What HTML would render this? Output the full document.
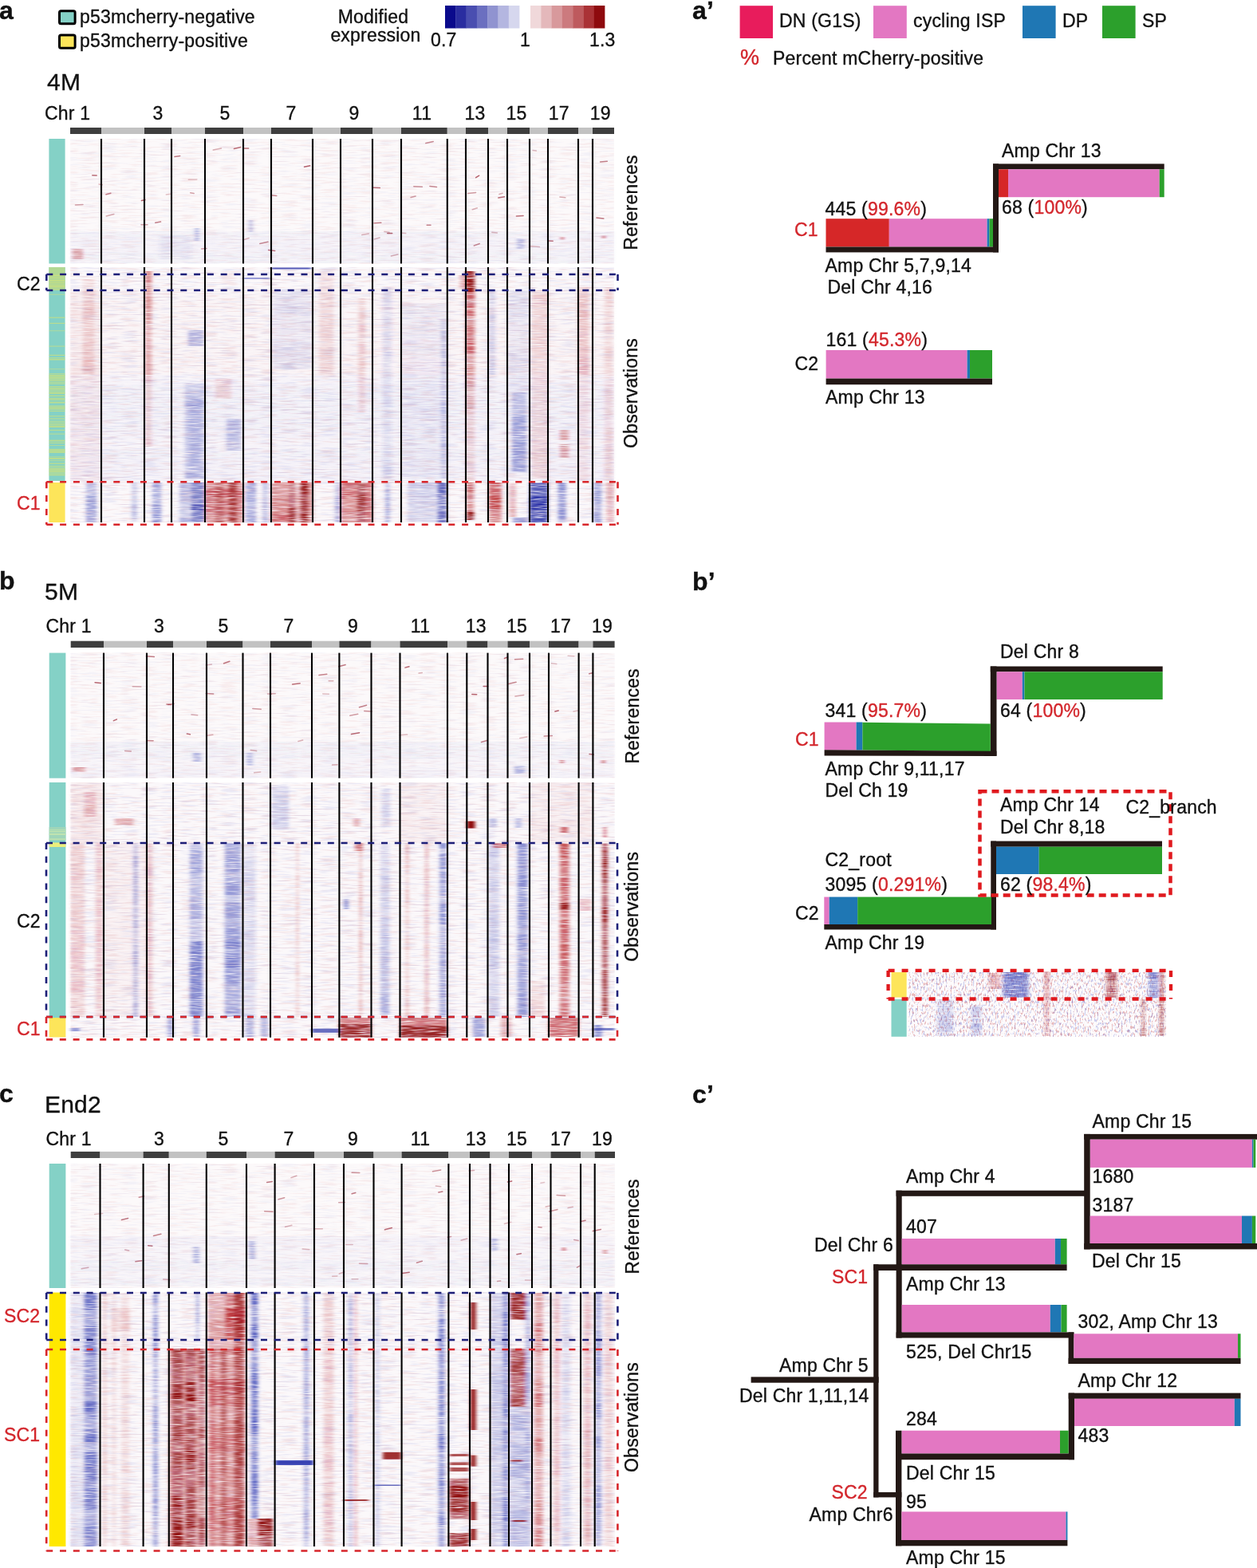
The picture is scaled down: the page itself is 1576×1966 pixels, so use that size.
<!DOCTYPE html>
<html><head><meta charset="utf-8"><style>
html,body{margin:0;padding:0;background:#fff;}
body{width:1576px;height:1966px;overflow:hidden;position:relative;}
svg{position:absolute;left:0;top:0;display:block;}
text{font-family:"Liberation Sans",Arial,sans-serif;letter-spacing:0.2px;stroke-width:0.35px;}
</style></head><body>
<svg width="1576" height="1966" viewBox="0 0 1576 1966">
<text x="-1" y="24" font-size="32" fill="#111" stroke="#111" font-weight="bold" >a</text>
<text x="-1" y="739" font-size="32" fill="#111" stroke="#111" font-weight="bold" >b</text>
<text x="-1" y="1382" font-size="32" fill="#111" stroke="#111" font-weight="bold" >c</text>
<rect x="74.5" y="13.7" width="19.6" height="16" rx="2" fill="#84d1c6" stroke="#000" stroke-width="3"/>
<rect x="74.5" y="44.1" width="19.6" height="16.1" rx="2" fill="#fde55a" stroke="#000" stroke-width="3"/>
<text x="100" y="29" font-size="23" fill="#111" stroke="#111" >p53mcherry-negative</text>
<text x="100" y="58.6" font-size="23" fill="#111" stroke="#111" >p53mcherry-positive</text>
<text x="468" y="28.7" font-size="23" fill="#111" stroke="#111" text-anchor="middle" >Modified</text>
<text x="471" y="52" font-size="23" fill="#111" stroke="#111" text-anchor="middle" >expression</text>
<rect x="558.0" y="7.0" width="13.6" height="28.5" fill="#0a0a8c" />
<rect x="571.3" y="7.0" width="13.6" height="28.5" fill="#2a2da0" />
<rect x="584.6" y="7.0" width="13.6" height="28.5" fill="#4a4eb0" />
<rect x="597.9" y="7.0" width="13.6" height="28.5" fill="#6b6fc0" />
<rect x="611.2" y="7.0" width="13.6" height="28.5" fill="#9093d0" />
<rect x="624.5" y="7.0" width="13.6" height="28.5" fill="#b4b6e0" />
<rect x="637.8" y="7.0" width="13.6" height="28.5" fill="#d6d7ee" />
<rect x="665.0" y="7.0" width="13.6" height="28.5" fill="#f0d8da" />
<rect x="678.3" y="7.0" width="13.6" height="28.5" fill="#e4b8bb" />
<rect x="691.6" y="7.0" width="13.6" height="28.5" fill="#d8999c" />
<rect x="704.9" y="7.0" width="13.6" height="28.5" fill="#cc7a7e" />
<rect x="718.2" y="7.0" width="13.6" height="28.5" fill="#be5a5e" />
<rect x="731.5" y="7.0" width="13.6" height="28.5" fill="#aa3236" />
<rect x="744.8" y="7.0" width="13.6" height="28.5" fill="#8e0a0e" />
<text x="540" y="58.4" font-size="23" fill="#111" stroke="#111" >0.7</text>
<text x="652" y="58.4" font-size="23" fill="#111" stroke="#111" >1</text>
<text x="739" y="58.4" font-size="23" fill="#111" stroke="#111" >1.3</text>
<text x="59" y="113" font-size="30" fill="#111" stroke="#111" >4M</text>
<text x="56" y="752" font-size="30" fill="#111" stroke="#111" >5M</text>
<text x="56" y="1394.6" font-size="30" fill="#111" stroke="#111" >End2</text>
<text x="868" y="23.8" font-size="32" fill="#111" stroke="#111" font-weight="bold" >a’</text>
<text x="868" y="740" font-size="32" fill="#111" stroke="#111" font-weight="bold" >b’</text>
<text x="868" y="1383" font-size="32" fill="#111" stroke="#111" font-weight="bold" >c’</text>
<rect x="927.6" y="7.2" width="41.4" height="40.8" fill="#e81c5c" />
<rect x="1095.0" y="7.2" width="41.8" height="40.8" fill="#e377c2" />
<rect x="1282.0" y="7.2" width="41.6" height="40.8" fill="#1f77b4" />
<rect x="1382.0" y="7.2" width="41.6" height="40.8" fill="#2ca02c" />
<text x="977" y="34" font-size="23" fill="#111" stroke="#111" >DN (G1S)</text>
<text x="1145" y="34" font-size="23" fill="#111" stroke="#111" >cycling ISP</text>
<text x="1332" y="34" font-size="23" fill="#111" stroke="#111" >DP</text>
<text x="1432" y="34" font-size="23" fill="#111" stroke="#111" >SP</text>
<text x="928" y="81" font-size="27" fill="#d3262c" stroke="#d3262c" >%</text>
<text x="969" y="81" font-size="23" fill="#111" stroke="#111" >Percent mCherry-positive</text>
<rect x="1035.5" y="274.2" width="79.3" height="35.3" fill="#d62728" />
<rect x="1114.8" y="274.2" width="122.8" height="35.3" fill="#e377c2" />
<rect x="1237.6" y="274.2" width="2.9" height="35.3" fill="#1f77b4" />
<rect x="1240.5" y="274.2" width="4.5" height="35.3" fill="#2ca02c" />
<rect x="1035.5" y="309.5" width="216.5" height="6.9" fill="#231815" />
<rect x="1245.0" y="205.4" width="7.0" height="111.0" fill="#231815" />
<rect x="1245.0" y="205.4" width="214.7" height="6.9" fill="#231815" />
<rect x="1252.0" y="212.3" width="12.0" height="34.9" fill="#d62728" />
<rect x="1264.0" y="212.3" width="189.7" height="34.9" fill="#e377c2" />
<rect x="1453.7" y="212.3" width="6.0" height="34.9" fill="#2ca02c" />
<rect x="1035.6" y="439.0" width="177.0" height="35.6" fill="#e377c2" />
<rect x="1212.6" y="439.0" width="3.4" height="35.6" fill="#1f77b4" />
<rect x="1216.0" y="439.0" width="28.0" height="35.6" fill="#2ca02c" />
<rect x="1035.6" y="474.6" width="208.4" height="7.6" fill="#231815" />
<text x="1256" y="196.5" font-size="23" fill="#111" stroke="#111" >Amp Chr 13</text>
<text x="1034.5" y="269.5" font-size="23" fill="#111" stroke="#111" >445 (<tspan fill="#d3262c" stroke="#d3262c">99.6%</tspan>)</text>
<text x="1256" y="268" font-size="23" fill="#111" stroke="#111" >68 (<tspan fill="#d3262c" stroke="#d3262c">100%</tspan>)</text>
<text x="996" y="295.8" font-size="23" fill="#d3262c" stroke="#d3262c" >C1</text>
<text x="1034.5" y="340.8" font-size="23" fill="#111" stroke="#111" >Amp Chr 5,7,9,14</text>
<text x="1037.5" y="367.8" font-size="23" fill="#111" stroke="#111" >Del Chr 4,16</text>
<text x="1035.5" y="434.3" font-size="23" fill="#111" stroke="#111" >161 (<tspan fill="#d3262c" stroke="#d3262c">45.3%</tspan>)</text>
<text x="996.5" y="464.3" font-size="23" fill="#111" stroke="#111" >C2</text>
<text x="1035" y="505.6" font-size="23" fill="#111" stroke="#111" >Amp Chr 13</text>
<rect x="1241.8" y="835.5" width="215.9" height="6.8" fill="#231815" />
<rect x="1249.5" y="842.3" width="32.3" height="34.7" fill="#e377c2" />
<rect x="1281.8" y="842.3" width="2.7" height="34.7" fill="#1f77b4" />
<rect x="1284.5" y="842.3" width="173.2" height="34.7" fill="#2ca02c" />
<rect x="1241.8" y="835.5" width="7.7" height="112.2" fill="#231815" />
<rect x="1033.6" y="905.5" width="40.0" height="35.0" fill="#e377c2" />
<rect x="1073.6" y="905.5" width="7.8" height="35.0" fill="#1f77b4" />
<polygon points="1081.4,905.8 1241.8,907.6 1241.8,942.2 1081.4,940.6" fill="#2ca02c"/>
<polygon points="1033.6,940.3 1249.5,941.7 1249.5,947.9 1033.6,947.4" fill="#231815"/>
<circle cx="1244.7" cy="1123.5" r="2.4" fill="#e0191e"/>
<rect x="1242.3" y="1054.6" width="214.7" height="7.1" fill="#231815" />
<rect x="1249.0" y="1061.7" width="53.7" height="34.3" fill="#1f77b4" />
<rect x="1302.7" y="1061.7" width="154.3" height="34.3" fill="#2ca02c" />
<rect x="1242.3" y="1054.6" width="6.7" height="110.9" fill="#231815" />
<rect x="1033.3" y="1124.6" width="6.4" height="34.4" fill="#e377c2" />
<rect x="1039.7" y="1124.6" width="35.5" height="34.4" fill="#1f77b4" />
<rect x="1075.2" y="1124.6" width="167.8" height="34.4" fill="#2ca02c" />
<rect x="1033.3" y="1159.0" width="215.7" height="6.5" fill="#231815" />
<rect x="1228.5" y="992.2" width="239" height="130.2" fill="none" stroke="#e0191e" stroke-width="4.5" stroke-dasharray="9 6"/>
<text x="1254" y="825" font-size="23" fill="#111" stroke="#111" >Del Chr 8</text>
<text x="1034.5" y="898.6" font-size="23" fill="#111" stroke="#111" >341 (<tspan fill="#d3262c" stroke="#d3262c">95.7%</tspan>)</text>
<text x="1254" y="898.6" font-size="23" fill="#111" stroke="#111" >64 (<tspan fill="#d3262c" stroke="#d3262c">100%</tspan>)</text>
<text x="997" y="935" font-size="23" fill="#d3262c" stroke="#d3262c" >C1</text>
<text x="1034.5" y="971.8" font-size="23" fill="#111" stroke="#111" >Amp Chr 9,11,17</text>
<text x="1034.5" y="998.5" font-size="23" fill="#111" stroke="#111" >Del Ch 19</text>
<text x="1254" y="1017" font-size="23" fill="#111" stroke="#111" >Amp Chr 14</text>
<text x="1254" y="1044.6" font-size="23" fill="#111" stroke="#111" >Del Chr 8,18</text>
<text x="1411.5" y="1019.7" font-size="23" fill="#111" stroke="#111" >C2_branch</text>
<text x="1034.5" y="1085.5" font-size="23" fill="#111" stroke="#111" >C2_root</text>
<text x="1034.5" y="1116.8" font-size="23" fill="#111" stroke="#111" >3095 (<tspan fill="#d3262c" stroke="#d3262c">0.291%</tspan>)</text>
<text x="1254" y="1116.8" font-size="23" fill="#111" stroke="#111" >62 (<tspan fill="#d3262c" stroke="#d3262c">98.4%</tspan>)</text>
<text x="997" y="1153" font-size="23" fill="#111" stroke="#111" >C2</text>
<text x="1034.5" y="1190.3" font-size="23" fill="#111" stroke="#111" >Amp Chr 19</text>
<rect x="1359.2" y="1421.9" width="216.8" height="6.8" fill="#231815" />
<rect x="1366.7" y="1428.7" width="203.2" height="35.2" fill="#e377c2" />
<rect x="1569.9" y="1428.7" width="1.6" height="35.2" fill="#1f77b4" />
<rect x="1571.5" y="1428.7" width="2.8" height="35.2" fill="#2ca02c" />
<rect x="1359.2" y="1421.9" width="7.5" height="144.5" fill="#231815" />
<rect x="1366.7" y="1524.5" width="190.3" height="34.5" fill="#e377c2" />
<rect x="1557.0" y="1524.5" width="12.9" height="34.5" fill="#1f77b4" />
<rect x="1569.9" y="1524.5" width="4.4" height="34.5" fill="#2ca02c" />
<rect x="1359.2" y="1559.0" width="216.8" height="7.4" fill="#231815" />
<rect x="1123.6" y="1492.7" width="238.4" height="7.1" fill="#231815" />
<rect x="1123.6" y="1492.7" width="7.1" height="184.8" fill="#231815" />
<rect x="1130.7" y="1553.0" width="192.1" height="32.3" fill="#e377c2" />
<rect x="1322.8" y="1553.0" width="7.2" height="32.3" fill="#1f77b4" />
<rect x="1330.0" y="1553.0" width="7.6" height="32.3" fill="#2ca02c" />
<rect x="1095.2" y="1585.3" width="242.4" height="7.7" fill="#231815" />
<rect x="1095.2" y="1585.3" width="6.3" height="292.1" fill="#231815" />
<rect x="1130.7" y="1636.0" width="186.1" height="34.4" fill="#e377c2" />
<rect x="1316.8" y="1636.0" width="13.7" height="34.4" fill="#1f77b4" />
<rect x="1330.5" y="1636.0" width="7.1" height="34.4" fill="#2ca02c" />
<rect x="1123.6" y="1670.4" width="222.8" height="7.1" fill="#231815" />
<rect x="1339.6" y="1670.4" width="6.8" height="39.6" fill="#231815" />
<rect x="1346.4" y="1672.3" width="205.6" height="30.5" fill="#e377c2" />
<rect x="1552.0" y="1672.3" width="3.5" height="30.5" fill="#2ca02c" />
<rect x="1339.6" y="1702.8" width="215.9" height="7.2" fill="#231815" />
<rect x="941.6" y="1726.4" width="160.0" height="7.3" fill="#231815" />
<rect x="1095.2" y="1871.0" width="35.2" height="6.4" fill="#231815" />
<rect x="1339.7" y="1746.6" width="215.8" height="7.2" fill="#231815" />
<rect x="1347.0" y="1753.8" width="200.8" height="34.2" fill="#e377c2" />
<rect x="1547.8" y="1753.8" width="7.7" height="34.2" fill="#1f77b4" />
<rect x="1339.7" y="1746.6" width="7.3" height="83.6" fill="#231815" />
<rect x="1130.4" y="1793.7" width="198.6" height="28.8" fill="#e377c2" />
<rect x="1329.0" y="1793.7" width="10.7" height="28.8" fill="#2ca02c" />
<rect x="1123.0" y="1822.5" width="224.0" height="7.7" fill="#231815" />
<rect x="1123.0" y="1793.7" width="7.4" height="144.6" fill="#231815" />
<rect x="1130.4" y="1895.4" width="206.1" height="35.6" fill="#e377c2" />
<rect x="1336.5" y="1895.4" width="1.9" height="35.6" fill="#1f77b4" />
<rect x="1123.0" y="1931.0" width="215.4" height="7.3" fill="#231815" />
<text x="1369.5" y="1413.7" font-size="23" fill="#111" stroke="#111" >Amp Chr 15</text>
<text x="1136" y="1483" font-size="23" fill="#111" stroke="#111" >Amp Chr 4</text>
<text x="1369.5" y="1483.3" font-size="23" fill="#111" stroke="#111" >1680</text>
<text x="1369.5" y="1518.6" font-size="23" fill="#111" stroke="#111" >3187</text>
<text x="1136" y="1545.5" font-size="23" fill="#111" stroke="#111" >407</text>
<text x="1021" y="1569.3" font-size="23" fill="#111" stroke="#111" >Del Chr 6</text>
<text x="1369" y="1589" font-size="23" fill="#111" stroke="#111" >Del Chr 15</text>
<text x="1043" y="1609.4" font-size="23" fill="#d3262c" stroke="#d3262c" >SC1</text>
<text x="1136" y="1618.3" font-size="23" fill="#111" stroke="#111" >Amp Chr 13</text>
<text x="1351.5" y="1665" font-size="23" fill="#111" stroke="#111" >302, Amp Chr 13</text>
<text x="1136" y="1702.8" font-size="23" fill="#111" stroke="#111" >525, Del Chr15</text>
<text x="977" y="1719.5" font-size="23" fill="#111" stroke="#111" >Amp Chr 5</text>
<text x="1351.5" y="1739.3" font-size="23" fill="#111" stroke="#111" >Amp Chr 12</text>
<text x="927" y="1758" font-size="23" fill="#111" stroke="#111" >Del Chr 1,11,14</text>
<text x="1136" y="1786.5" font-size="23" fill="#111" stroke="#111" >284</text>
<text x="1351.5" y="1808" font-size="23" fill="#111" stroke="#111" >483</text>
<text x="1136" y="1855" font-size="23" fill="#111" stroke="#111" >Del Chr 15</text>
<text x="1042.5" y="1878.7" font-size="23" fill="#d3262c" stroke="#d3262c" >SC2</text>
<text x="1136" y="1891" font-size="23" fill="#111" stroke="#111" >95</text>
<text x="1014.5" y="1906.6" font-size="23" fill="#111" stroke="#111" >Amp Chr6</text>
<text x="1136" y="1961" font-size="23" fill="#111" stroke="#111" >Amp Chr 15</text>
<defs>
<filter id="nzR" x="0" y="0" width="1" height="1" color-interpolation-filters="sRGB">
 <feTurbulence type="fractalNoise" baseFrequency="0.04 0.5" numOctaves="2" seed="3"/>
 <feColorMatrix type="matrix" values="0 0 0 0 0.72  0 0 0 0 0.12  0 0 0 0 0.15  6 0 0 0 -3.1"/>
 <feGaussianBlur stdDeviation="1 0.35"/>
</filter>
<filter id="nzB" x="0" y="0" width="1" height="1" color-interpolation-filters="sRGB">
 <feTurbulence type="fractalNoise" baseFrequency="0.04 0.5" numOctaves="2" seed="11"/>
 <feColorMatrix type="matrix" values="0 0 0 0 0.25  0 0 0 0 0.3  0 0 0 0 0.75  6 0 0 0 -3.1"/>
 <feGaussianBlur stdDeviation="1 0.35"/>
</filter>
<filter id="nzRs" x="0" y="0" width="1" height="1" color-interpolation-filters="sRGB">
 <feTurbulence type="fractalNoise" baseFrequency="0.03 0.8" numOctaves="1" seed="21"/>
 <feColorMatrix type="matrix" values="0 0 0 0 0.7  0 0 0 0 0.1  0 0 0 0 0.15  14 0 0 0 -10.3"/>
</filter>
<filter id="nzM" x="0" y="0" width="1" height="1" color-interpolation-filters="sRGB">
 <feTurbulence type="fractalNoise" baseFrequency="0.06 0.7" numOctaves="2" seed="7"/>
 <feColorMatrix type="matrix" values="2.4 0 0 0 -0.35  2.4 0 0 0 -0.35  2.4 0 0 0 -0.35  0 0 0 0 1"/>
</filter>
<filter id="soft" x="-0.05" y="-0.05" width="1.1" height="1.1">
 <feGaussianBlur stdDeviation="2.2 0.6"/>
</filter>
<filter id="nzRm" x="0" y="0" width="1" height="1" color-interpolation-filters="sRGB">
 <feTurbulence type="fractalNoise" baseFrequency="0.5 0.22" numOctaves="2" seed="5"/>
 <feColorMatrix type="matrix" values="0 0 0 0 0.72  0 0 0 0 0.15  0 0 0 0 0.18  7 0 0 0 -3.9"/>
 <feGaussianBlur stdDeviation="0.5"/>
</filter>
<filter id="nzBm" x="0" y="0" width="1" height="1" color-interpolation-filters="sRGB">
 <feTurbulence type="fractalNoise" baseFrequency="0.5 0.22" numOctaves="2" seed="9"/>
 <feColorMatrix type="matrix" values="0 0 0 0 0.25  0 0 0 0 0.3  0 0 0 0 0.78  7 0 0 0 -3.9"/>
 <feGaussianBlur stdDeviation="0.5"/>
</filter>
<mask id="mk" maskUnits="userSpaceOnUse" x="0" y="0" width="1576" height="1966">
 <rect x="0" y="0" width="1576" height="1966" fill="#fff" filter="url(#nzM)"/>
</mask>
</defs>
<rect x="88.0" y="160.0" width="39.0" height="8.0" fill="#3e3e3e" />
<rect x="127.0" y="160.0" width="54.0" height="8.0" fill="#c2c2c2" />
<rect x="181.0" y="160.0" width="34.0" height="8.0" fill="#3e3e3e" />
<rect x="215.0" y="160.0" width="42.0" height="8.0" fill="#c2c2c2" />
<rect x="257.0" y="160.0" width="48.0" height="8.0" fill="#3e3e3e" />
<rect x="305.0" y="160.0" width="35.0" height="8.0" fill="#c2c2c2" />
<rect x="340.0" y="160.0" width="52.0" height="8.0" fill="#3e3e3e" />
<rect x="392.0" y="160.0" width="35.0" height="8.0" fill="#c2c2c2" />
<rect x="427.0" y="160.0" width="40.0" height="8.0" fill="#3e3e3e" />
<rect x="467.0" y="160.0" width="36.0" height="8.0" fill="#c2c2c2" />
<rect x="503.0" y="160.0" width="57.8" height="8.0" fill="#3e3e3e" />
<rect x="560.8" y="160.0" width="23.2" height="8.0" fill="#c2c2c2" />
<rect x="584.0" y="160.0" width="28.0" height="8.0" fill="#3e3e3e" />
<rect x="612.0" y="160.0" width="24.0" height="8.0" fill="#c2c2c2" />
<rect x="636.0" y="160.0" width="28.0" height="8.0" fill="#3e3e3e" />
<rect x="664.0" y="160.0" width="23.0" height="8.0" fill="#c2c2c2" />
<rect x="687.0" y="160.0" width="38.0" height="8.0" fill="#3e3e3e" />
<rect x="725.0" y="160.0" width="18.0" height="8.0" fill="#c2c2c2" />
<rect x="743.0" y="160.0" width="27.0" height="8.0" fill="#3e3e3e" />
<text x="56" y="150" font-size="23" fill="#111" stroke="#111" >Chr 1</text>
<text x="198" y="150" font-size="23" fill="#111" stroke="#111" text-anchor="middle" >3</text>
<text x="282" y="150" font-size="23" fill="#111" stroke="#111" text-anchor="middle" >5</text>
<text x="365" y="150" font-size="23" fill="#111" stroke="#111" text-anchor="middle" >7</text>
<text x="444" y="150" font-size="23" fill="#111" stroke="#111" text-anchor="middle" >9</text>
<text x="529" y="150" font-size="23" fill="#111" stroke="#111" text-anchor="middle" >11</text>
<text x="595.5" y="150" font-size="23" fill="#111" stroke="#111" text-anchor="middle" >13</text>
<text x="647.5" y="150" font-size="23" fill="#111" stroke="#111" text-anchor="middle" >15</text>
<text x="700.8" y="150" font-size="23" fill="#111" stroke="#111" text-anchor="middle" >17</text>
<text x="752.8" y="150" font-size="23" fill="#111" stroke="#111" text-anchor="middle" >19</text>
<rect x="61.4" y="174.0" width="20.2" height="156.5" fill="#84d1c6" />
<rect x="61.4" y="335.0" width="20.2" height="268.0" fill="#84d1c6" />
<rect x="61.4" y="335.0" width="20.2" height="29.0" fill="#b2d893" />
<g opacity="0.7">
<rect x="61.4" y="344.6" width="20.2" height="1.5" fill="#cfe27c" />
<rect x="61.4" y="347.8" width="20.2" height="0.8" fill="#cfe27c" />
<rect x="61.4" y="351.0" width="20.2" height="1.5" fill="#cfe27c" />
<rect x="61.4" y="354.2" width="20.2" height="0.8" fill="#cfe27c" />
<rect x="61.4" y="357.4" width="20.2" height="1.0" fill="#cfe27c" />
<rect x="61.4" y="359.0" width="20.2" height="1.0" fill="#cfe27c" />
<rect x="61.4" y="363.8" width="20.2" height="0.2" fill="#cfe27c" />
<rect x="61.4" y="368.8" width="20.2" height="0.8" fill="#cfe27c" />
<rect x="61.4" y="397.6" width="20.2" height="1.2" fill="#cfe27c" />
<rect x="61.4" y="404.8" width="20.2" height="1.2" fill="#cfe27c" />
<rect x="61.4" y="414.4" width="20.2" height="0.8" fill="#cfe27c" />
<rect x="61.4" y="433.6" width="20.2" height="1.0" fill="#cfe27c" />
<rect x="61.4" y="444.8" width="20.2" height="1.2" fill="#cfe27c" />
<rect x="61.4" y="448.0" width="20.2" height="0.8" fill="#cfe27c" />
<rect x="61.4" y="449.6" width="20.2" height="2.0" fill="#cfe27c" />
<rect x="61.4" y="462.4" width="20.2" height="0.8" fill="#cfe27c" />
<rect x="61.4" y="468.0" width="20.2" height="0.8" fill="#cfe27c" />
<rect x="61.4" y="469.6" width="20.2" height="2.0" fill="#cfe27c" />
<rect x="61.4" y="471.2" width="20.2" height="1.5" fill="#cfe27c" />
<rect x="61.4" y="472.8" width="20.2" height="2.0" fill="#cfe27c" />
<rect x="61.4" y="474.4" width="20.2" height="1.2" fill="#cfe27c" />
<rect x="61.4" y="476.0" width="20.2" height="1.5" fill="#cfe27c" />
<rect x="61.4" y="477.6" width="20.2" height="0.8" fill="#cfe27c" />
<rect x="61.4" y="479.2" width="20.2" height="1.2" fill="#cfe27c" />
<rect x="61.4" y="480.8" width="20.2" height="1.0" fill="#cfe27c" />
<rect x="61.4" y="484.0" width="20.2" height="1.0" fill="#cfe27c" />
<rect x="61.4" y="485.6" width="20.2" height="1.5" fill="#cfe27c" />
<rect x="61.4" y="487.2" width="20.2" height="1.5" fill="#cfe27c" />
<rect x="61.4" y="488.8" width="20.2" height="0.8" fill="#cfe27c" />
<rect x="61.4" y="490.4" width="20.2" height="1.2" fill="#cfe27c" />
<rect x="61.4" y="492.0" width="20.2" height="2.0" fill="#cfe27c" />
<rect x="61.4" y="495.6" width="20.2" height="1.5" fill="#cfe27c" />
<rect x="61.4" y="498.8" width="20.2" height="1.2" fill="#cfe27c" />
<rect x="61.4" y="500.4" width="20.2" height="1.5" fill="#cfe27c" />
<rect x="61.4" y="503.6" width="20.2" height="2.0" fill="#cfe27c" />
<rect x="61.4" y="508.4" width="20.2" height="1.2" fill="#cfe27c" />
<rect x="61.4" y="510.0" width="20.2" height="1.5" fill="#cfe27c" />
<rect x="61.4" y="511.6" width="20.2" height="2.0" fill="#cfe27c" />
<rect x="61.4" y="514.8" width="20.2" height="1.2" fill="#cfe27c" />
<rect x="61.4" y="521.2" width="20.2" height="1.2" fill="#cfe27c" />
<rect x="61.4" y="524.4" width="20.2" height="1.2" fill="#cfe27c" />
<rect x="61.4" y="527.6" width="20.2" height="1.0" fill="#cfe27c" />
<rect x="61.4" y="529.2" width="20.2" height="0.8" fill="#cfe27c" />
<rect x="61.4" y="530.8" width="20.2" height="1.2" fill="#cfe27c" />
<rect x="61.4" y="532.4" width="20.2" height="1.2" fill="#cfe27c" />
<rect x="61.4" y="534.0" width="20.2" height="2.0" fill="#cfe27c" />
<rect x="61.4" y="538.8" width="20.2" height="1.2" fill="#cfe27c" />
<rect x="61.4" y="543.6" width="20.2" height="1.0" fill="#cfe27c" />
<rect x="61.4" y="551.6" width="20.2" height="2.0" fill="#cfe27c" />
<rect x="61.4" y="554.8" width="20.2" height="1.2" fill="#cfe27c" />
<rect x="61.4" y="558.0" width="20.2" height="0.8" fill="#cfe27c" />
<rect x="61.4" y="562.8" width="20.2" height="2.0" fill="#cfe27c" />
<rect x="61.4" y="564.4" width="20.2" height="1.5" fill="#cfe27c" />
<rect x="61.4" y="566.0" width="20.2" height="2.0" fill="#cfe27c" />
<rect x="61.4" y="572.4" width="20.2" height="1.0" fill="#cfe27c" />
<rect x="61.4" y="574.0" width="20.2" height="2.0" fill="#cfe27c" />
<rect x="61.4" y="577.2" width="20.2" height="1.0" fill="#cfe27c" />
<rect x="61.4" y="580.4" width="20.2" height="1.5" fill="#cfe27c" />
<rect x="61.4" y="583.6" width="20.2" height="1.0" fill="#cfe27c" />
<rect x="61.4" y="585.2" width="20.2" height="1.0" fill="#cfe27c" />
<rect x="61.4" y="586.8" width="20.2" height="2.0" fill="#cfe27c" />
<rect x="61.4" y="588.4" width="20.2" height="1.5" fill="#cfe27c" />
<rect x="61.4" y="590.0" width="20.2" height="2.0" fill="#cfe27c" />
<rect x="61.4" y="591.6" width="20.2" height="1.0" fill="#cfe27c" />
<rect x="61.4" y="593.2" width="20.2" height="1.2" fill="#cfe27c" />
<rect x="61.4" y="594.8" width="20.2" height="1.5" fill="#cfe27c" />
<rect x="61.4" y="602.8" width="20.2" height="0.2" fill="#cfe27c" />
</g>
<rect x="61.4" y="605.0" width="20.2" height="50.0" fill="#fde55a" />
<rect x="88" y="174" width="682" height="156.5" fill="#fcf9fa"/>
<rect x="88" y="174" width="682" height="156.5" filter="url(#nzR)" opacity="0.05"/>
<rect x="88" y="174" width="682" height="156.5" filter="url(#nzB)" opacity="0.04"/>
<line x1="625.9" y1="243.5" x2="630.1" y2="242.3" stroke="#962030" stroke-width="1.5" stroke-linecap="round" opacity="0.35"/>
<line x1="252.6" y1="311.9" x2="259.0" y2="311.6" stroke="#962030" stroke-width="1.5" stroke-linecap="round" opacity="0.42"/>
<line x1="469.0" y1="279.7" x2="477.9" y2="279.3" stroke="#962030" stroke-width="1.5" stroke-linecap="round" opacity="0.56"/>
<line x1="533.8" y1="179.5" x2="543.2" y2="177.4" stroke="#962030" stroke-width="1.5" stroke-linecap="round" opacity="0.50"/>
<line x1="133.0" y1="243.8" x2="138.9" y2="242.2" stroke="#962030" stroke-width="1.5" stroke-linecap="round" opacity="0.55"/>
<line x1="133.2" y1="270.9" x2="142.9" y2="268.5" stroke="#962030" stroke-width="1.5" stroke-linecap="round" opacity="0.36"/>
<line x1="208.3" y1="244.0" x2="213.6" y2="243.3" stroke="#962030" stroke-width="1.5" stroke-linecap="round" opacity="0.27"/>
<line x1="701.9" y1="247.0" x2="708.8" y2="247.8" stroke="#962030" stroke-width="1.5" stroke-linecap="round" opacity="0.36"/>
<line x1="485.8" y1="292.5" x2="491.7" y2="292.4" stroke="#962030" stroke-width="1.5" stroke-linecap="round" opacity="0.69"/>
<line x1="336.6" y1="313.5" x2="344.7" y2="314.4" stroke="#962030" stroke-width="1.5" stroke-linecap="round" opacity="0.63"/>
<line x1="665.5" y1="308.8" x2="676.4" y2="309.6" stroke="#962030" stroke-width="1.5" stroke-linecap="round" opacity="0.29"/>
<line x1="747.9" y1="273.1" x2="756.9" y2="273.9" stroke="#962030" stroke-width="1.5" stroke-linecap="round" opacity="0.59"/>
<line x1="586.6" y1="242.6" x2="596.6" y2="241.4" stroke="#962030" stroke-width="1.5" stroke-linecap="round" opacity="0.44"/>
<line x1="381.5" y1="209.2" x2="388.7" y2="207.8" stroke="#962030" stroke-width="1.5" stroke-linecap="round" opacity="0.70"/>
<line x1="535.2" y1="282.2" x2="540.0" y2="282.2" stroke="#962030" stroke-width="1.5" stroke-linecap="round" opacity="0.55"/>
<line x1="115.8" y1="219.8" x2="121.2" y2="220.0" stroke="#962030" stroke-width="1.5" stroke-linecap="round" opacity="0.65"/>
<line x1="469.3" y1="299.9" x2="476.1" y2="298.0" stroke="#962030" stroke-width="1.5" stroke-linecap="round" opacity="0.33"/>
<line x1="594.3" y1="308.0" x2="601.3" y2="305.5" stroke="#962030" stroke-width="1.5" stroke-linecap="round" opacity="0.50"/>
<line x1="177.5" y1="251.5" x2="182.0" y2="250.4" stroke="#962030" stroke-width="1.5" stroke-linecap="round" opacity="0.68"/>
<line x1="305.1" y1="300.6" x2="312.1" y2="298.5" stroke="#962030" stroke-width="1.5" stroke-linecap="round" opacity="0.33"/>
<line x1="668.1" y1="188.4" x2="672.3" y2="189.1" stroke="#962030" stroke-width="1.5" stroke-linecap="round" opacity="0.30"/>
<line x1="490.3" y1="320.9" x2="498.9" y2="318.9" stroke="#962030" stroke-width="1.5" stroke-linecap="round" opacity="0.35"/>
<line x1="236.3" y1="225.3" x2="246.9" y2="224.9" stroke="#962030" stroke-width="1.5" stroke-linecap="round" opacity="0.27"/>
<line x1="325.8" y1="305.4" x2="336.0" y2="303.3" stroke="#962030" stroke-width="1.5" stroke-linecap="round" opacity="0.52"/>
<line x1="515.0" y1="247.4" x2="521.1" y2="246.0" stroke="#962030" stroke-width="1.5" stroke-linecap="round" opacity="0.42"/>
<line x1="124.1" y1="230.9" x2="128.3" y2="231.7" stroke="#962030" stroke-width="1.5" stroke-linecap="round" opacity="0.35"/>
<line x1="305.5" y1="186.0" x2="311.7" y2="186.1" stroke="#962030" stroke-width="1.5" stroke-linecap="round" opacity="0.63"/>
<line x1="752.6" y1="202.9" x2="761.3" y2="202.2" stroke="#962030" stroke-width="1.5" stroke-linecap="round" opacity="0.56"/>
<line x1="340.8" y1="244.8" x2="346.8" y2="245.5" stroke="#962030" stroke-width="1.5" stroke-linecap="round" opacity="0.50"/>
<line x1="502.5" y1="291.9" x2="508.8" y2="292.5" stroke="#962030" stroke-width="1.5" stroke-linecap="round" opacity="0.29"/>
<line x1="238.7" y1="241.8" x2="243.2" y2="242.4" stroke="#962030" stroke-width="1.5" stroke-linecap="round" opacity="0.41"/>
<line x1="616.8" y1="291.2" x2="623.4" y2="291.9" stroke="#962030" stroke-width="1.5" stroke-linecap="round" opacity="0.31"/>
<line x1="592.3" y1="262.8" x2="598.3" y2="260.8" stroke="#962030" stroke-width="1.5" stroke-linecap="round" opacity="0.33"/>
<line x1="518.8" y1="233.8" x2="529.4" y2="234.2" stroke="#962030" stroke-width="1.5" stroke-linecap="round" opacity="0.47"/>
<line x1="218.9" y1="196.5" x2="225.7" y2="195.5" stroke="#962030" stroke-width="1.5" stroke-linecap="round" opacity="0.58"/>
<line x1="596.6" y1="222.6" x2="600.7" y2="220.2" stroke="#962030" stroke-width="1.5" stroke-linecap="round" opacity="0.70"/>
<line x1="453.8" y1="294.5" x2="462.3" y2="293.0" stroke="#962030" stroke-width="1.5" stroke-linecap="round" opacity="0.32"/>
<line x1="538.9" y1="233.6" x2="547.5" y2="234.5" stroke="#962030" stroke-width="1.5" stroke-linecap="round" opacity="0.52"/>
<line x1="293.4" y1="186.4" x2="301.8" y2="184.5" stroke="#962030" stroke-width="1.5" stroke-linecap="round" opacity="0.63"/>
<line x1="647.4" y1="270.9" x2="656.1" y2="270.6" stroke="#962030" stroke-width="1.5" stroke-linecap="round" opacity="0.63"/>
<line x1="267.3" y1="188.0" x2="277.5" y2="185.9" stroke="#962030" stroke-width="1.5" stroke-linecap="round" opacity="0.35"/>
<line x1="481.9" y1="290.5" x2="488.1" y2="291.2" stroke="#962030" stroke-width="1.5" stroke-linecap="round" opacity="0.31"/>
<line x1="624.8" y1="247.9" x2="632.4" y2="246.8" stroke="#962030" stroke-width="1.5" stroke-linecap="round" opacity="0.64"/>
<line x1="687.7" y1="301.9" x2="693.2" y2="302.2" stroke="#962030" stroke-width="1.5" stroke-linecap="round" opacity="0.60"/>
<line x1="177.0" y1="281.7" x2="185.0" y2="281.8" stroke="#962030" stroke-width="1.5" stroke-linecap="round" opacity="0.42"/>
<line x1="468.0" y1="235.2" x2="476.3" y2="235.6" stroke="#962030" stroke-width="1.5" stroke-linecap="round" opacity="0.63"/>
<line x1="194.8" y1="279.3" x2="201.5" y2="278.1" stroke="#962030" stroke-width="1.5" stroke-linecap="round" opacity="0.56"/>
<line x1="94.5" y1="257.0" x2="104.0" y2="256.5" stroke="#962030" stroke-width="1.5" stroke-linecap="round" opacity="0.41"/>
<rect x="88" y="335" width="682" height="320" fill="#fbf8fa"/>
<rect x="88" y="335" width="682" height="320" filter="url(#nzR)" opacity="0.075"/>
<rect x="88" y="335" width="682" height="320" filter="url(#nzB)" opacity="0.08"/>
<g filter="url(#soft)">
<rect x="584" y="340" width="11.0" height="26.0" fill="#900b10" opacity="0.95" mask="url(#mk)"/>
<rect x="576" y="345" width="8.0" height="17.0" fill="#b4181e" opacity="0.3" mask="url(#mk)"/>
<rect x="340" y="335.5" width="50.0" height="2.0" fill="#2a32a8" opacity="0.8"/>
<rect x="305" y="348" width="33.0" height="2.0" fill="#3d48b8" opacity="0.5"/>
<rect x="104" y="350.0" width="14.0" height="16.2" fill="#b4181e" opacity="0.10" mask="url(#mk)"/>
<rect x="104" y="366.2" width="14.0" height="10.4" fill="#b4181e" opacity="0.12" mask="url(#mk)"/>
<rect x="104" y="376.6" width="14.0" height="17.8" fill="#b4181e" opacity="0.16" mask="url(#mk)"/>
<rect x="104" y="394.4" width="14.0" height="20.3" fill="#b4181e" opacity="0.11" mask="url(#mk)"/>
<rect x="104" y="414.7" width="14.0" height="12.8" fill="#b4181e" opacity="0.10" mask="url(#mk)"/>
<rect x="104" y="427.4" width="14.0" height="9.5" fill="#b4181e" opacity="0.15" mask="url(#mk)"/>
<rect x="104" y="436.9" width="14.0" height="6.4" fill="#b4181e" opacity="0.12" mask="url(#mk)"/>
<rect x="104" y="443.4" width="14.0" height="16.4" fill="#b4181e" opacity="0.15" mask="url(#mk)"/>
<rect x="104" y="459.8" width="14.0" height="10.2" fill="#b4181e" opacity="0.15" mask="url(#mk)"/>
<rect x="88" y="364.0" width="39.0" height="19.0" fill="#b4181e" opacity="0.03" mask="url(#mk)"/>
<rect x="88" y="383.0" width="39.0" height="18.9" fill="#b4181e" opacity="0.06" mask="url(#mk)"/>
<rect x="88" y="401.8" width="39.0" height="11.4" fill="#b4181e" opacity="0.04" mask="url(#mk)"/>
<rect x="88" y="413.3" width="39.0" height="21.3" fill="#b4181e" opacity="0.04" mask="url(#mk)"/>
<rect x="88" y="434.6" width="39.0" height="7.5" fill="#b4181e" opacity="0.04" mask="url(#mk)"/>
<rect x="88" y="442.1" width="39.0" height="19.6" fill="#b4181e" opacity="0.05" mask="url(#mk)"/>
<rect x="88" y="461.6" width="39.0" height="8.4" fill="#b4181e" opacity="0.06" mask="url(#mk)"/>
<rect x="182" y="340.0" width="8.0" height="14.6" fill="#b4181e" opacity="0.51" mask="url(#mk)"/>
<rect x="182" y="354.6" width="8.0" height="12.1" fill="#b4181e" opacity="0.40" mask="url(#mk)"/>
<rect x="182" y="366.6" width="8.0" height="19.3" fill="#b4181e" opacity="0.42" mask="url(#mk)"/>
<rect x="182" y="385.9" width="8.0" height="19.8" fill="#b4181e" opacity="0.41" mask="url(#mk)"/>
<rect x="182" y="405.7" width="8.0" height="17.3" fill="#b4181e" opacity="0.27" mask="url(#mk)"/>
<rect x="182" y="423.0" width="8.0" height="9.6" fill="#b4181e" opacity="0.34" mask="url(#mk)"/>
<rect x="182" y="432.6" width="8.0" height="7.3" fill="#b4181e" opacity="0.32" mask="url(#mk)"/>
<rect x="182" y="439.9" width="8.0" height="7.6" fill="#b4181e" opacity="0.33" mask="url(#mk)"/>
<rect x="182" y="447.5" width="8.0" height="16.2" fill="#b4181e" opacity="0.35" mask="url(#mk)"/>
<rect x="182" y="463.7" width="8.0" height="6.3" fill="#b4181e" opacity="0.31" mask="url(#mk)"/>
<rect x="182" y="470.0" width="8.0" height="10.3" fill="#b4181e" opacity="0.19" mask="url(#mk)"/>
<rect x="182" y="480.3" width="8.0" height="16.4" fill="#b4181e" opacity="0.16" mask="url(#mk)"/>
<rect x="182" y="496.6" width="8.0" height="8.7" fill="#b4181e" opacity="0.17" mask="url(#mk)"/>
<rect x="182" y="505.4" width="8.0" height="8.6" fill="#b4181e" opacity="0.13" mask="url(#mk)"/>
<rect x="182" y="514.0" width="8.0" height="21.8" fill="#b4181e" opacity="0.16" mask="url(#mk)"/>
<rect x="182" y="535.8" width="8.0" height="14.9" fill="#b4181e" opacity="0.16" mask="url(#mk)"/>
<rect x="182" y="550.7" width="8.0" height="9.3" fill="#b4181e" opacity="0.17" mask="url(#mk)"/>
<rect x="236" y="414" width="19.0" height="20.0" fill="#3d48b8" opacity="0.35" mask="url(#mk)"/>
<rect x="232" y="480.0" width="24.0" height="9.7" fill="#3d48b8" opacity="0.20" mask="url(#mk)"/>
<rect x="232" y="489.7" width="24.0" height="11.0" fill="#3d48b8" opacity="0.25" mask="url(#mk)"/>
<rect x="232" y="500.7" width="24.0" height="9.4" fill="#3d48b8" opacity="0.38" mask="url(#mk)"/>
<rect x="232" y="510.1" width="24.0" height="20.0" fill="#3d48b8" opacity="0.26" mask="url(#mk)"/>
<rect x="232" y="530.1" width="24.0" height="16.5" fill="#3d48b8" opacity="0.27" mask="url(#mk)"/>
<rect x="232" y="546.6" width="24.0" height="20.6" fill="#3d48b8" opacity="0.28" mask="url(#mk)"/>
<rect x="232" y="567.2" width="24.0" height="10.2" fill="#3d48b8" opacity="0.24" mask="url(#mk)"/>
<rect x="232" y="577.5" width="24.0" height="15.0" fill="#3d48b8" opacity="0.25" mask="url(#mk)"/>
<rect x="232" y="592.4" width="24.0" height="7.6" fill="#3d48b8" opacity="0.37" mask="url(#mk)"/>
<rect x="238" y="500.0" width="14.0" height="12.4" fill="#3d48b8" opacity="0.12" mask="url(#mk)"/>
<rect x="238" y="512.4" width="14.0" height="22.0" fill="#3d48b8" opacity="0.15" mask="url(#mk)"/>
<rect x="238" y="534.4" width="14.0" height="7.5" fill="#3d48b8" opacity="0.10" mask="url(#mk)"/>
<rect x="238" y="541.8" width="14.0" height="7.8" fill="#3d48b8" opacity="0.16" mask="url(#mk)"/>
<rect x="238" y="549.6" width="14.0" height="18.7" fill="#3d48b8" opacity="0.14" mask="url(#mk)"/>
<rect x="238" y="568.2" width="14.0" height="7.0" fill="#3d48b8" opacity="0.13" mask="url(#mk)"/>
<rect x="238" y="575.2" width="14.0" height="14.8" fill="#3d48b8" opacity="0.15" mask="url(#mk)"/>
<rect x="284" y="525.0" width="18.0" height="21.5" fill="#3d48b8" opacity="0.30" mask="url(#mk)"/>
<rect x="284" y="546.5" width="18.0" height="6.2" fill="#3d48b8" opacity="0.28" mask="url(#mk)"/>
<rect x="284" y="552.7" width="18.0" height="12.3" fill="#3d48b8" opacity="0.25" mask="url(#mk)"/>
<rect x="270" y="475" width="20.0" height="25.0" fill="#b4181e" opacity="0.15" mask="url(#mk)"/>
<rect x="342" y="363.0" width="49.0" height="10.3" fill="#3d48b8" opacity="0.11" mask="url(#mk)"/>
<rect x="342" y="373.3" width="49.0" height="7.8" fill="#3d48b8" opacity="0.09" mask="url(#mk)"/>
<rect x="342" y="381.1" width="49.0" height="13.3" fill="#3d48b8" opacity="0.13" mask="url(#mk)"/>
<rect x="342" y="394.3" width="49.0" height="20.0" fill="#3d48b8" opacity="0.08" mask="url(#mk)"/>
<rect x="342" y="414.3" width="49.0" height="14.0" fill="#3d48b8" opacity="0.08" mask="url(#mk)"/>
<rect x="342" y="428.3" width="49.0" height="20.6" fill="#3d48b8" opacity="0.12" mask="url(#mk)"/>
<rect x="342" y="448.9" width="49.0" height="14.1" fill="#3d48b8" opacity="0.11" mask="url(#mk)"/>
<rect x="400" y="340.0" width="18.0" height="15.7" fill="#b4181e" opacity="0.07" mask="url(#mk)"/>
<rect x="400" y="355.7" width="18.0" height="18.2" fill="#b4181e" opacity="0.10" mask="url(#mk)"/>
<rect x="400" y="373.9" width="18.0" height="18.5" fill="#b4181e" opacity="0.10" mask="url(#mk)"/>
<rect x="400" y="392.4" width="18.0" height="6.0" fill="#b4181e" opacity="0.09" mask="url(#mk)"/>
<rect x="400" y="398.4" width="18.0" height="6.3" fill="#b4181e" opacity="0.13" mask="url(#mk)"/>
<rect x="400" y="404.7" width="18.0" height="20.1" fill="#b4181e" opacity="0.12" mask="url(#mk)"/>
<rect x="400" y="424.8" width="18.0" height="10.9" fill="#b4181e" opacity="0.07" mask="url(#mk)"/>
<rect x="400" y="435.7" width="18.0" height="20.0" fill="#b4181e" opacity="0.13" mask="url(#mk)"/>
<rect x="400" y="455.8" width="18.0" height="7.4" fill="#b4181e" opacity="0.10" mask="url(#mk)"/>
<rect x="400" y="463.1" width="18.0" height="6.9" fill="#b4181e" opacity="0.11" mask="url(#mk)"/>
<rect x="449" y="374.0" width="9.0" height="18.3" fill="#b4181e" opacity="0.11" mask="url(#mk)"/>
<rect x="449" y="392.3" width="9.0" height="13.6" fill="#b4181e" opacity="0.15" mask="url(#mk)"/>
<rect x="449" y="405.9" width="9.0" height="10.2" fill="#b4181e" opacity="0.18" mask="url(#mk)"/>
<rect x="449" y="416.1" width="9.0" height="12.8" fill="#b4181e" opacity="0.12" mask="url(#mk)"/>
<rect x="449" y="428.9" width="9.0" height="14.6" fill="#b4181e" opacity="0.17" mask="url(#mk)"/>
<rect x="449" y="443.5" width="9.0" height="9.2" fill="#b4181e" opacity="0.13" mask="url(#mk)"/>
<rect x="449" y="452.7" width="9.0" height="21.9" fill="#b4181e" opacity="0.16" mask="url(#mk)"/>
<rect x="449" y="474.6" width="9.0" height="13.0" fill="#b4181e" opacity="0.15" mask="url(#mk)"/>
<rect x="449" y="487.6" width="9.0" height="7.9" fill="#b4181e" opacity="0.12" mask="url(#mk)"/>
<rect x="449" y="495.6" width="9.0" height="11.4" fill="#b4181e" opacity="0.15" mask="url(#mk)"/>
<rect x="449" y="507.0" width="9.0" height="10.0" fill="#b4181e" opacity="0.12" mask="url(#mk)"/>
<rect x="480" y="360.0" width="11.0" height="7.1" fill="#3d48b8" opacity="0.15" mask="url(#mk)"/>
<rect x="480" y="367.1" width="11.0" height="9.7" fill="#3d48b8" opacity="0.17" mask="url(#mk)"/>
<rect x="480" y="376.8" width="11.0" height="19.8" fill="#3d48b8" opacity="0.10" mask="url(#mk)"/>
<rect x="480" y="396.6" width="11.0" height="9.8" fill="#3d48b8" opacity="0.15" mask="url(#mk)"/>
<rect x="480" y="406.4" width="11.0" height="9.4" fill="#3d48b8" opacity="0.10" mask="url(#mk)"/>
<rect x="480" y="415.8" width="11.0" height="21.0" fill="#3d48b8" opacity="0.14" mask="url(#mk)"/>
<rect x="480" y="436.8" width="11.0" height="13.6" fill="#3d48b8" opacity="0.16" mask="url(#mk)"/>
<rect x="480" y="450.3" width="11.0" height="18.9" fill="#3d48b8" opacity="0.11" mask="url(#mk)"/>
<rect x="480" y="469.2" width="11.0" height="7.6" fill="#3d48b8" opacity="0.13" mask="url(#mk)"/>
<rect x="480" y="476.8" width="11.0" height="12.8" fill="#3d48b8" opacity="0.13" mask="url(#mk)"/>
<rect x="480" y="489.6" width="11.0" height="17.7" fill="#3d48b8" opacity="0.15" mask="url(#mk)"/>
<rect x="480" y="507.2" width="11.0" height="21.7" fill="#3d48b8" opacity="0.10" mask="url(#mk)"/>
<rect x="480" y="529.0" width="11.0" height="12.4" fill="#3d48b8" opacity="0.12" mask="url(#mk)"/>
<rect x="480" y="541.4" width="11.0" height="19.8" fill="#3d48b8" opacity="0.11" mask="url(#mk)"/>
<rect x="480" y="561.2" width="11.0" height="9.0" fill="#3d48b8" opacity="0.13" mask="url(#mk)"/>
<rect x="480" y="570.3" width="11.0" height="12.8" fill="#3d48b8" opacity="0.12" mask="url(#mk)"/>
<rect x="480" y="583.0" width="11.0" height="10.0" fill="#3d48b8" opacity="0.18" mask="url(#mk)"/>
<rect x="480" y="593.0" width="11.0" height="7.0" fill="#3d48b8" opacity="0.17" mask="url(#mk)"/>
<rect x="553" y="400.0" width="7.0" height="14.8" fill="#3d48b8" opacity="0.14" mask="url(#mk)"/>
<rect x="553" y="414.8" width="7.0" height="22.0" fill="#3d48b8" opacity="0.24" mask="url(#mk)"/>
<rect x="553" y="436.8" width="7.0" height="21.5" fill="#3d48b8" opacity="0.25" mask="url(#mk)"/>
<rect x="553" y="458.3" width="7.0" height="19.6" fill="#3d48b8" opacity="0.15" mask="url(#mk)"/>
<rect x="553" y="477.9" width="7.0" height="13.8" fill="#3d48b8" opacity="0.16" mask="url(#mk)"/>
<rect x="553" y="491.6" width="7.0" height="12.4" fill="#3d48b8" opacity="0.14" mask="url(#mk)"/>
<rect x="553" y="504.1" width="7.0" height="12.1" fill="#3d48b8" opacity="0.26" mask="url(#mk)"/>
<rect x="553" y="516.1" width="7.0" height="10.2" fill="#3d48b8" opacity="0.23" mask="url(#mk)"/>
<rect x="553" y="526.4" width="7.0" height="13.3" fill="#3d48b8" opacity="0.18" mask="url(#mk)"/>
<rect x="553" y="539.7" width="7.0" height="21.3" fill="#3d48b8" opacity="0.26" mask="url(#mk)"/>
<rect x="553" y="561.0" width="7.0" height="14.9" fill="#3d48b8" opacity="0.22" mask="url(#mk)"/>
<rect x="553" y="575.9" width="7.0" height="8.5" fill="#3d48b8" opacity="0.17" mask="url(#mk)"/>
<rect x="553" y="584.3" width="7.0" height="15.7" fill="#3d48b8" opacity="0.21" mask="url(#mk)"/>
<rect x="503" y="380.0" width="57.0" height="14.7" fill="#3d48b8" opacity="0.07" mask="url(#mk)"/>
<rect x="503" y="394.7" width="57.0" height="6.9" fill="#3d48b8" opacity="0.06" mask="url(#mk)"/>
<rect x="503" y="401.6" width="57.0" height="14.0" fill="#3d48b8" opacity="0.07" mask="url(#mk)"/>
<rect x="503" y="415.6" width="57.0" height="8.5" fill="#3d48b8" opacity="0.08" mask="url(#mk)"/>
<rect x="503" y="424.2" width="57.0" height="7.3" fill="#3d48b8" opacity="0.05" mask="url(#mk)"/>
<rect x="503" y="431.4" width="57.0" height="15.5" fill="#3d48b8" opacity="0.07" mask="url(#mk)"/>
<rect x="503" y="447.0" width="57.0" height="9.8" fill="#3d48b8" opacity="0.04" mask="url(#mk)"/>
<rect x="503" y="456.7" width="57.0" height="20.2" fill="#3d48b8" opacity="0.05" mask="url(#mk)"/>
<rect x="503" y="477.0" width="57.0" height="15.5" fill="#3d48b8" opacity="0.06" mask="url(#mk)"/>
<rect x="503" y="492.5" width="57.0" height="12.7" fill="#3d48b8" opacity="0.06" mask="url(#mk)"/>
<rect x="503" y="505.2" width="57.0" height="14.4" fill="#3d48b8" opacity="0.08" mask="url(#mk)"/>
<rect x="503" y="519.5" width="57.0" height="9.3" fill="#3d48b8" opacity="0.07" mask="url(#mk)"/>
<rect x="503" y="528.8" width="57.0" height="9.8" fill="#3d48b8" opacity="0.05" mask="url(#mk)"/>
<rect x="503" y="538.6" width="57.0" height="16.7" fill="#3d48b8" opacity="0.05" mask="url(#mk)"/>
<rect x="503" y="555.4" width="57.0" height="11.1" fill="#3d48b8" opacity="0.07" mask="url(#mk)"/>
<rect x="503" y="566.4" width="57.0" height="7.2" fill="#3d48b8" opacity="0.06" mask="url(#mk)"/>
<rect x="503" y="573.6" width="57.0" height="22.0" fill="#3d48b8" opacity="0.08" mask="url(#mk)"/>
<rect x="503" y="595.6" width="57.0" height="4.4" fill="#3d48b8" opacity="0.05" mask="url(#mk)"/>
<rect x="584" y="366.0" width="11.0" height="10.2" fill="#b4181e" opacity="0.63" mask="url(#mk)"/>
<rect x="584" y="376.2" width="11.0" height="20.1" fill="#b4181e" opacity="0.61" mask="url(#mk)"/>
<rect x="584" y="396.3" width="11.0" height="11.9" fill="#b4181e" opacity="0.38" mask="url(#mk)"/>
<rect x="584" y="408.2" width="11.0" height="19.3" fill="#b4181e" opacity="0.55" mask="url(#mk)"/>
<rect x="584" y="427.6" width="11.0" height="15.8" fill="#b4181e" opacity="0.65" mask="url(#mk)"/>
<rect x="584" y="443.4" width="11.0" height="16.5" fill="#b4181e" opacity="0.33" mask="url(#mk)"/>
<rect x="584" y="459.8" width="11.0" height="10.2" fill="#b4181e" opacity="0.42" mask="url(#mk)"/>
<rect x="584" y="470.0" width="11.0" height="16.6" fill="#b4181e" opacity="0.38" mask="url(#mk)"/>
<rect x="584" y="486.6" width="11.0" height="8.1" fill="#b4181e" opacity="0.22" mask="url(#mk)"/>
<rect x="584" y="494.8" width="11.0" height="7.7" fill="#b4181e" opacity="0.30" mask="url(#mk)"/>
<rect x="584" y="502.5" width="11.0" height="10.4" fill="#b4181e" opacity="0.31" mask="url(#mk)"/>
<rect x="584" y="512.8" width="11.0" height="7.2" fill="#b4181e" opacity="0.23" mask="url(#mk)"/>
<rect x="584" y="520.0" width="11.0" height="16.1" fill="#b4181e" opacity="0.12" mask="url(#mk)"/>
<rect x="584" y="536.1" width="11.0" height="13.8" fill="#b4181e" opacity="0.19" mask="url(#mk)"/>
<rect x="584" y="550.0" width="11.0" height="19.5" fill="#b4181e" opacity="0.11" mask="url(#mk)"/>
<rect x="584" y="569.5" width="11.0" height="12.8" fill="#b4181e" opacity="0.12" mask="url(#mk)"/>
<rect x="584" y="582.3" width="11.0" height="6.1" fill="#b4181e" opacity="0.17" mask="url(#mk)"/>
<rect x="584" y="588.3" width="11.0" height="14.7" fill="#b4181e" opacity="0.12" mask="url(#mk)"/>
<rect x="613" y="364.0" width="8.0" height="17.9" fill="#3d48b8" opacity="0.18" mask="url(#mk)"/>
<rect x="613" y="381.9" width="8.0" height="12.8" fill="#3d48b8" opacity="0.12" mask="url(#mk)"/>
<rect x="613" y="394.7" width="8.0" height="7.2" fill="#3d48b8" opacity="0.22" mask="url(#mk)"/>
<rect x="613" y="401.9" width="8.0" height="20.5" fill="#3d48b8" opacity="0.18" mask="url(#mk)"/>
<rect x="613" y="422.4" width="8.0" height="19.4" fill="#3d48b8" opacity="0.19" mask="url(#mk)"/>
<rect x="613" y="441.7" width="8.0" height="8.4" fill="#3d48b8" opacity="0.13" mask="url(#mk)"/>
<rect x="613" y="450.1" width="8.0" height="10.9" fill="#3d48b8" opacity="0.22" mask="url(#mk)"/>
<rect x="613" y="461.0" width="8.0" height="9.0" fill="#3d48b8" opacity="0.22" mask="url(#mk)"/>
<rect x="642" y="492.0" width="18.0" height="20.4" fill="#3d48b8" opacity="0.30" mask="url(#mk)"/>
<rect x="642" y="512.4" width="18.0" height="10.0" fill="#3d48b8" opacity="0.27" mask="url(#mk)"/>
<rect x="642" y="522.4" width="18.0" height="18.5" fill="#3d48b8" opacity="0.47" mask="url(#mk)"/>
<rect x="642" y="540.9" width="18.0" height="12.5" fill="#3d48b8" opacity="0.40" mask="url(#mk)"/>
<rect x="642" y="553.4" width="18.0" height="8.5" fill="#3d48b8" opacity="0.48" mask="url(#mk)"/>
<rect x="642" y="561.8" width="18.0" height="19.8" fill="#3d48b8" opacity="0.49" mask="url(#mk)"/>
<rect x="642" y="581.7" width="18.0" height="10.3" fill="#3d48b8" opacity="0.46" mask="url(#mk)"/>
<rect x="637" y="364.0" width="26.0" height="6.4" fill="#3d48b8" opacity="0.11" mask="url(#mk)"/>
<rect x="637" y="370.4" width="26.0" height="11.3" fill="#3d48b8" opacity="0.13" mask="url(#mk)"/>
<rect x="637" y="381.7" width="26.0" height="18.8" fill="#3d48b8" opacity="0.12" mask="url(#mk)"/>
<rect x="637" y="400.5" width="26.0" height="19.0" fill="#3d48b8" opacity="0.08" mask="url(#mk)"/>
<rect x="637" y="419.5" width="26.0" height="18.6" fill="#3d48b8" opacity="0.07" mask="url(#mk)"/>
<rect x="637" y="438.1" width="26.0" height="20.0" fill="#3d48b8" opacity="0.12" mask="url(#mk)"/>
<rect x="637" y="458.1" width="26.0" height="9.6" fill="#3d48b8" opacity="0.12" mask="url(#mk)"/>
<rect x="637" y="467.6" width="26.0" height="13.4" fill="#3d48b8" opacity="0.08" mask="url(#mk)"/>
<rect x="637" y="481.0" width="26.0" height="11.0" fill="#3d48b8" opacity="0.08" mask="url(#mk)"/>
<rect x="667" y="364.0" width="20.0" height="6.4" fill="#b4181e" opacity="0.11" mask="url(#mk)"/>
<rect x="667" y="370.4" width="20.0" height="11.3" fill="#b4181e" opacity="0.17" mask="url(#mk)"/>
<rect x="667" y="381.6" width="20.0" height="21.5" fill="#b4181e" opacity="0.12" mask="url(#mk)"/>
<rect x="667" y="403.1" width="20.0" height="16.3" fill="#b4181e" opacity="0.13" mask="url(#mk)"/>
<rect x="667" y="419.4" width="20.0" height="21.7" fill="#b4181e" opacity="0.14" mask="url(#mk)"/>
<rect x="667" y="441.1" width="20.0" height="21.0" fill="#b4181e" opacity="0.10" mask="url(#mk)"/>
<rect x="667" y="462.1" width="20.0" height="21.5" fill="#b4181e" opacity="0.11" mask="url(#mk)"/>
<rect x="667" y="483.6" width="20.0" height="21.4" fill="#b4181e" opacity="0.12" mask="url(#mk)"/>
<rect x="667" y="505.0" width="20.0" height="7.7" fill="#b4181e" opacity="0.13" mask="url(#mk)"/>
<rect x="667" y="512.8" width="20.0" height="17.7" fill="#b4181e" opacity="0.12" mask="url(#mk)"/>
<rect x="667" y="530.4" width="20.0" height="15.7" fill="#b4181e" opacity="0.14" mask="url(#mk)"/>
<rect x="667" y="546.1" width="20.0" height="12.2" fill="#b4181e" opacity="0.14" mask="url(#mk)"/>
<rect x="667" y="558.3" width="20.0" height="10.1" fill="#b4181e" opacity="0.16" mask="url(#mk)"/>
<rect x="667" y="568.3" width="20.0" height="6.0" fill="#b4181e" opacity="0.18" mask="url(#mk)"/>
<rect x="667" y="574.4" width="20.0" height="14.6" fill="#b4181e" opacity="0.16" mask="url(#mk)"/>
<rect x="667" y="589.0" width="20.0" height="11.0" fill="#b4181e" opacity="0.15" mask="url(#mk)"/>
<rect x="702" y="539" width="11.0" height="13.0" fill="#b4181e" opacity="0.35" mask="url(#mk)"/>
<rect x="702" y="557" width="11.0" height="17.0" fill="#b4181e" opacity="0.35" mask="url(#mk)"/>
<rect x="724" y="360.0" width="14.0" height="11.8" fill="#b4181e" opacity="0.15" mask="url(#mk)"/>
<rect x="724" y="371.8" width="14.0" height="16.6" fill="#b4181e" opacity="0.19" mask="url(#mk)"/>
<rect x="724" y="388.5" width="14.0" height="11.0" fill="#b4181e" opacity="0.26" mask="url(#mk)"/>
<rect x="724" y="399.5" width="14.0" height="17.5" fill="#b4181e" opacity="0.19" mask="url(#mk)"/>
<rect x="724" y="417.0" width="14.0" height="10.9" fill="#b4181e" opacity="0.20" mask="url(#mk)"/>
<rect x="724" y="427.9" width="14.0" height="12.4" fill="#b4181e" opacity="0.19" mask="url(#mk)"/>
<rect x="724" y="440.4" width="14.0" height="8.0" fill="#b4181e" opacity="0.20" mask="url(#mk)"/>
<rect x="724" y="448.4" width="14.0" height="21.6" fill="#b4181e" opacity="0.24" mask="url(#mk)"/>
<rect x="724" y="470.0" width="14.0" height="20.4" fill="#b4181e" opacity="0.08" mask="url(#mk)"/>
<rect x="724" y="490.4" width="14.0" height="10.8" fill="#b4181e" opacity="0.08" mask="url(#mk)"/>
<rect x="724" y="501.3" width="14.0" height="6.0" fill="#b4181e" opacity="0.07" mask="url(#mk)"/>
<rect x="724" y="507.3" width="14.0" height="12.9" fill="#b4181e" opacity="0.08" mask="url(#mk)"/>
<rect x="724" y="520.1" width="14.0" height="16.5" fill="#b4181e" opacity="0.08" mask="url(#mk)"/>
<rect x="724" y="536.6" width="14.0" height="13.1" fill="#b4181e" opacity="0.06" mask="url(#mk)"/>
<rect x="724" y="549.7" width="14.0" height="13.6" fill="#b4181e" opacity="0.10" mask="url(#mk)"/>
<rect x="724" y="563.3" width="14.0" height="18.7" fill="#b4181e" opacity="0.06" mask="url(#mk)"/>
<rect x="724" y="582.0" width="14.0" height="7.4" fill="#b4181e" opacity="0.08" mask="url(#mk)"/>
<rect x="724" y="589.4" width="14.0" height="13.6" fill="#b4181e" opacity="0.07" mask="url(#mk)"/>
<rect x="758" y="360.0" width="10.0" height="19.1" fill="#b4181e" opacity="0.14" mask="url(#mk)"/>
<rect x="758" y="379.1" width="10.0" height="16.8" fill="#b4181e" opacity="0.10" mask="url(#mk)"/>
<rect x="758" y="395.9" width="10.0" height="9.2" fill="#b4181e" opacity="0.08" mask="url(#mk)"/>
<rect x="758" y="405.0" width="10.0" height="9.9" fill="#b4181e" opacity="0.12" mask="url(#mk)"/>
<rect x="758" y="415.0" width="10.0" height="19.6" fill="#b4181e" opacity="0.08" mask="url(#mk)"/>
<rect x="758" y="434.6" width="10.0" height="12.6" fill="#b4181e" opacity="0.13" mask="url(#mk)"/>
<rect x="758" y="447.2" width="10.0" height="9.1" fill="#b4181e" opacity="0.13" mask="url(#mk)"/>
<rect x="758" y="456.3" width="10.0" height="13.9" fill="#b4181e" opacity="0.10" mask="url(#mk)"/>
<rect x="758" y="470.2" width="10.0" height="16.5" fill="#b4181e" opacity="0.08" mask="url(#mk)"/>
<rect x="758" y="486.7" width="10.0" height="18.0" fill="#b4181e" opacity="0.14" mask="url(#mk)"/>
<rect x="758" y="504.7" width="10.0" height="7.7" fill="#b4181e" opacity="0.11" mask="url(#mk)"/>
<rect x="758" y="512.4" width="10.0" height="8.8" fill="#b4181e" opacity="0.15" mask="url(#mk)"/>
<rect x="758" y="521.2" width="10.0" height="14.3" fill="#b4181e" opacity="0.08" mask="url(#mk)"/>
<rect x="758" y="535.5" width="10.0" height="10.0" fill="#b4181e" opacity="0.14" mask="url(#mk)"/>
<rect x="758" y="545.5" width="10.0" height="13.3" fill="#b4181e" opacity="0.14" mask="url(#mk)"/>
<rect x="758" y="558.8" width="10.0" height="16.7" fill="#b4181e" opacity="0.16" mask="url(#mk)"/>
<rect x="758" y="575.5" width="10.0" height="15.5" fill="#b4181e" opacity="0.15" mask="url(#mk)"/>
<rect x="758" y="591.0" width="10.0" height="12.0" fill="#b4181e" opacity="0.13" mask="url(#mk)"/>
<rect x="88" y="470.0" width="39.0" height="17.5" fill="#b4181e" opacity="0.05" mask="url(#mk)"/>
<rect x="88" y="487.5" width="39.0" height="19.3" fill="#b4181e" opacity="0.05" mask="url(#mk)"/>
<rect x="88" y="506.8" width="39.0" height="20.4" fill="#b4181e" opacity="0.06" mask="url(#mk)"/>
<rect x="88" y="527.2" width="39.0" height="13.6" fill="#b4181e" opacity="0.04" mask="url(#mk)"/>
<rect x="88" y="540.7" width="39.0" height="10.0" fill="#b4181e" opacity="0.05" mask="url(#mk)"/>
<rect x="88" y="550.7" width="39.0" height="18.3" fill="#b4181e" opacity="0.05" mask="url(#mk)"/>
<rect x="88" y="569.0" width="39.0" height="16.0" fill="#b4181e" opacity="0.04" mask="url(#mk)"/>
<rect x="88" y="585.0" width="39.0" height="7.2" fill="#b4181e" opacity="0.04" mask="url(#mk)"/>
<rect x="88" y="592.2" width="39.0" height="10.8" fill="#b4181e" opacity="0.04" mask="url(#mk)"/>
<rect x="88" y="364.0" width="682.0" height="14.6" fill="#b4181e" opacity="0.01" mask="url(#mk)"/>
<rect x="88" y="378.6" width="682.0" height="9.7" fill="#b4181e" opacity="0.02" mask="url(#mk)"/>
<rect x="88" y="388.3" width="682.0" height="17.3" fill="#b4181e" opacity="0.01" mask="url(#mk)"/>
<rect x="88" y="405.6" width="682.0" height="12.5" fill="#b4181e" opacity="0.02" mask="url(#mk)"/>
<rect x="88" y="418.2" width="682.0" height="12.7" fill="#b4181e" opacity="0.01" mask="url(#mk)"/>
<rect x="88" y="430.8" width="682.0" height="12.7" fill="#b4181e" opacity="0.02" mask="url(#mk)"/>
<rect x="88" y="443.5" width="682.0" height="15.3" fill="#b4181e" opacity="0.02" mask="url(#mk)"/>
<rect x="88" y="458.9" width="682.0" height="11.1" fill="#b4181e" opacity="0.02" mask="url(#mk)"/>
<rect x="88" y="470.0" width="682.0" height="12.1" fill="#3d48b8" opacity="0.02" mask="url(#mk)"/>
<rect x="88" y="482.1" width="682.0" height="11.6" fill="#3d48b8" opacity="0.04" mask="url(#mk)"/>
<rect x="88" y="493.7" width="682.0" height="19.7" fill="#3d48b8" opacity="0.04" mask="url(#mk)"/>
<rect x="88" y="513.4" width="682.0" height="12.7" fill="#3d48b8" opacity="0.04" mask="url(#mk)"/>
<rect x="88" y="526.1" width="682.0" height="14.7" fill="#3d48b8" opacity="0.04" mask="url(#mk)"/>
<rect x="88" y="540.8" width="682.0" height="9.5" fill="#3d48b8" opacity="0.03" mask="url(#mk)"/>
<rect x="88" y="550.3" width="682.0" height="13.0" fill="#3d48b8" opacity="0.02" mask="url(#mk)"/>
<rect x="88" y="563.3" width="682.0" height="11.4" fill="#3d48b8" opacity="0.04" mask="url(#mk)"/>
<rect x="88" y="574.7" width="682.0" height="12.5" fill="#3d48b8" opacity="0.03" mask="url(#mk)"/>
<rect x="88" y="587.2" width="682.0" height="15.8" fill="#3d48b8" opacity="0.03" mask="url(#mk)"/>
<rect x="108" y="605.0" width="13.0" height="16.0" fill="#3d48b8" opacity="0.30" mask="url(#mk)"/>
<rect x="108" y="621.0" width="13.0" height="12.3" fill="#3d48b8" opacity="0.46" mask="url(#mk)"/>
<rect x="108" y="633.3" width="13.0" height="6.4" fill="#3d48b8" opacity="0.48" mask="url(#mk)"/>
<rect x="108" y="639.7" width="13.0" height="8.2" fill="#3d48b8" opacity="0.43" mask="url(#mk)"/>
<rect x="108" y="647.9" width="13.0" height="7.1" fill="#3d48b8" opacity="0.40" mask="url(#mk)"/>
<rect x="165" y="605.0" width="7.0" height="9.4" fill="#3d48b8" opacity="0.22" mask="url(#mk)"/>
<rect x="165" y="614.4" width="7.0" height="18.2" fill="#3d48b8" opacity="0.22" mask="url(#mk)"/>
<rect x="165" y="632.6" width="7.0" height="18.0" fill="#3d48b8" opacity="0.30" mask="url(#mk)"/>
<rect x="165" y="650.6" width="7.0" height="4.4" fill="#3d48b8" opacity="0.18" mask="url(#mk)"/>
<rect x="191" y="605.0" width="11.0" height="6.3" fill="#3d48b8" opacity="0.45" mask="url(#mk)"/>
<rect x="191" y="611.3" width="11.0" height="22.0" fill="#3d48b8" opacity="0.39" mask="url(#mk)"/>
<rect x="191" y="633.3" width="11.0" height="16.4" fill="#3d48b8" opacity="0.52" mask="url(#mk)"/>
<rect x="191" y="649.7" width="11.0" height="5.3" fill="#3d48b8" opacity="0.51" mask="url(#mk)"/>
<rect x="240" y="605.0" width="16.0" height="21.2" fill="#2a32a8" opacity="0.58" mask="url(#mk)"/>
<rect x="240" y="626.2" width="16.0" height="6.3" fill="#2a32a8" opacity="0.56" mask="url(#mk)"/>
<rect x="240" y="632.5" width="16.0" height="8.0" fill="#2a32a8" opacity="0.81" mask="url(#mk)"/>
<rect x="240" y="640.5" width="16.0" height="14.5" fill="#2a32a8" opacity="0.59" mask="url(#mk)"/>
<rect x="225" y="605.0" width="15.0" height="17.2" fill="#3d48b8" opacity="0.34" mask="url(#mk)"/>
<rect x="225" y="622.2" width="15.0" height="8.7" fill="#3d48b8" opacity="0.31" mask="url(#mk)"/>
<rect x="225" y="630.9" width="15.0" height="18.0" fill="#3d48b8" opacity="0.22" mask="url(#mk)"/>
<rect x="225" y="648.8" width="15.0" height="6.2" fill="#3d48b8" opacity="0.38" mask="url(#mk)"/>
<rect x="257" y="605.0" width="48.0" height="7.7" fill="#b4181e" opacity="0.40" mask="url(#mk)"/>
<rect x="257" y="612.7" width="48.0" height="11.0" fill="#b4181e" opacity="0.65" mask="url(#mk)"/>
<rect x="257" y="623.7" width="48.0" height="21.3" fill="#b4181e" opacity="0.54" mask="url(#mk)"/>
<rect x="257" y="645.1" width="48.0" height="9.9" fill="#b4181e" opacity="0.42" mask="url(#mk)"/>
<rect x="270" y="605.0" width="10.0" height="17.0" fill="#900b10" opacity="0.32" mask="url(#mk)"/>
<rect x="270" y="622.0" width="10.0" height="7.6" fill="#900b10" opacity="0.35" mask="url(#mk)"/>
<rect x="270" y="629.7" width="10.0" height="19.6" fill="#900b10" opacity="0.31" mask="url(#mk)"/>
<rect x="270" y="649.3" width="10.0" height="5.7" fill="#900b10" opacity="0.39" mask="url(#mk)"/>
<rect x="287" y="605.0" width="10.0" height="18.5" fill="#900b10" opacity="0.61" mask="url(#mk)"/>
<rect x="287" y="623.5" width="10.0" height="12.9" fill="#900b10" opacity="0.62" mask="url(#mk)"/>
<rect x="287" y="636.4" width="10.0" height="14.1" fill="#900b10" opacity="0.61" mask="url(#mk)"/>
<rect x="287" y="650.5" width="10.0" height="4.5" fill="#900b10" opacity="0.83" mask="url(#mk)"/>
<rect x="308" y="605.0" width="13.0" height="7.7" fill="#3d48b8" opacity="0.45" mask="url(#mk)"/>
<rect x="308" y="612.7" width="13.0" height="16.2" fill="#3d48b8" opacity="0.42" mask="url(#mk)"/>
<rect x="308" y="628.9" width="13.0" height="17.3" fill="#3d48b8" opacity="0.33" mask="url(#mk)"/>
<rect x="308" y="646.2" width="13.0" height="8.8" fill="#3d48b8" opacity="0.45" mask="url(#mk)"/>
<rect x="329" y="605.0" width="7.0" height="10.3" fill="#3d48b8" opacity="0.29" mask="url(#mk)"/>
<rect x="329" y="615.3" width="7.0" height="14.6" fill="#3d48b8" opacity="0.24" mask="url(#mk)"/>
<rect x="329" y="629.9" width="7.0" height="13.0" fill="#3d48b8" opacity="0.28" mask="url(#mk)"/>
<rect x="329" y="642.9" width="7.0" height="12.1" fill="#3d48b8" opacity="0.30" mask="url(#mk)"/>
<rect x="340" y="605.0" width="22.0" height="19.3" fill="#b4181e" opacity="0.42" mask="url(#mk)"/>
<rect x="340" y="624.3" width="22.0" height="20.1" fill="#b4181e" opacity="0.49" mask="url(#mk)"/>
<rect x="340" y="644.4" width="22.0" height="10.6" fill="#b4181e" opacity="0.63" mask="url(#mk)"/>
<rect x="362" y="605.0" width="8.0" height="12.1" fill="#900b10" opacity="0.47" mask="url(#mk)"/>
<rect x="362" y="617.1" width="8.0" height="19.6" fill="#900b10" opacity="0.54" mask="url(#mk)"/>
<rect x="362" y="636.7" width="8.0" height="9.4" fill="#900b10" opacity="0.82" mask="url(#mk)"/>
<rect x="362" y="646.1" width="8.0" height="8.9" fill="#900b10" opacity="0.86" mask="url(#mk)"/>
<rect x="370" y="605.0" width="7.0" height="17.2" fill="#b4181e" opacity="0.25" mask="url(#mk)"/>
<rect x="370" y="622.2" width="7.0" height="6.2" fill="#b4181e" opacity="0.38" mask="url(#mk)"/>
<rect x="370" y="628.4" width="7.0" height="7.4" fill="#b4181e" opacity="0.34" mask="url(#mk)"/>
<rect x="370" y="635.8" width="7.0" height="13.8" fill="#b4181e" opacity="0.34" mask="url(#mk)"/>
<rect x="370" y="649.6" width="7.0" height="5.4" fill="#b4181e" opacity="0.32" mask="url(#mk)"/>
<rect x="377" y="605.0" width="9.0" height="13.9" fill="#900b10" opacity="1.00" mask="url(#mk)"/>
<rect x="377" y="618.9" width="9.0" height="7.5" fill="#900b10" opacity="0.75" mask="url(#mk)"/>
<rect x="377" y="626.3" width="9.0" height="17.1" fill="#900b10" opacity="0.81" mask="url(#mk)"/>
<rect x="377" y="643.4" width="9.0" height="11.6" fill="#900b10" opacity="0.91" mask="url(#mk)"/>
<rect x="386" y="605.0" width="6.0" height="14.5" fill="#b4181e" opacity="0.46" mask="url(#mk)"/>
<rect x="386" y="619.5" width="6.0" height="17.9" fill="#b4181e" opacity="0.43" mask="url(#mk)"/>
<rect x="386" y="637.4" width="6.0" height="17.6" fill="#b4181e" opacity="0.41" mask="url(#mk)"/>
<rect x="420" y="605.0" width="6.5" height="10.0" fill="#3d48b8" opacity="0.25" mask="url(#mk)"/>
<rect x="420" y="615.0" width="6.5" height="9.1" fill="#3d48b8" opacity="0.25" mask="url(#mk)"/>
<rect x="420" y="624.1" width="6.5" height="14.6" fill="#3d48b8" opacity="0.40" mask="url(#mk)"/>
<rect x="420" y="638.7" width="6.5" height="9.0" fill="#3d48b8" opacity="0.28" mask="url(#mk)"/>
<rect x="420" y="647.6" width="6.5" height="7.4" fill="#3d48b8" opacity="0.39" mask="url(#mk)"/>
<rect x="427" y="605.0" width="21.0" height="21.6" fill="#b4181e" opacity="0.59" mask="url(#mk)"/>
<rect x="427" y="626.6" width="21.0" height="10.5" fill="#b4181e" opacity="0.43" mask="url(#mk)"/>
<rect x="427" y="637.2" width="21.0" height="9.1" fill="#b4181e" opacity="0.48" mask="url(#mk)"/>
<rect x="427" y="646.3" width="21.0" height="8.7" fill="#b4181e" opacity="0.40" mask="url(#mk)"/>
<rect x="448" y="605.0" width="10.0" height="14.5" fill="#900b10" opacity="0.66" mask="url(#mk)"/>
<rect x="448" y="619.5" width="10.0" height="21.6" fill="#900b10" opacity="0.81" mask="url(#mk)"/>
<rect x="448" y="641.1" width="10.0" height="13.9" fill="#900b10" opacity="0.59" mask="url(#mk)"/>
<rect x="458" y="605.0" width="9.0" height="19.9" fill="#b4181e" opacity="0.58" mask="url(#mk)"/>
<rect x="458" y="624.9" width="9.0" height="20.0" fill="#b4181e" opacity="0.61" mask="url(#mk)"/>
<rect x="458" y="644.9" width="9.0" height="10.1" fill="#b4181e" opacity="0.56" mask="url(#mk)"/>
<rect x="483" y="605.0" width="6.0" height="8.9" fill="#3d48b8" opacity="0.27" mask="url(#mk)"/>
<rect x="483" y="613.9" width="6.0" height="21.1" fill="#3d48b8" opacity="0.38" mask="url(#mk)"/>
<rect x="483" y="635.0" width="6.0" height="20.0" fill="#3d48b8" opacity="0.36" mask="url(#mk)"/>
<rect x="511" y="605.0" width="38.0" height="7.2" fill="#3d48b8" opacity="0.26" mask="url(#mk)"/>
<rect x="511" y="612.2" width="38.0" height="6.9" fill="#3d48b8" opacity="0.19" mask="url(#mk)"/>
<rect x="511" y="619.0" width="38.0" height="15.0" fill="#3d48b8" opacity="0.21" mask="url(#mk)"/>
<rect x="511" y="634.0" width="38.0" height="21.0" fill="#3d48b8" opacity="0.18" mask="url(#mk)"/>
<rect x="549" y="605.0" width="11.0" height="18.2" fill="#2a32a8" opacity="0.73" mask="url(#mk)"/>
<rect x="549" y="623.2" width="11.0" height="18.7" fill="#2a32a8" opacity="0.56" mask="url(#mk)"/>
<rect x="549" y="641.9" width="11.0" height="13.1" fill="#2a32a8" opacity="0.66" mask="url(#mk)"/>
<rect x="585" y="605.0" width="9.0" height="13.1" fill="#b4181e" opacity="0.67" mask="url(#mk)"/>
<rect x="585" y="618.1" width="9.0" height="23.9" fill="#b4181e" opacity="0.47" mask="url(#mk)"/>
<rect x="585" y="642" width="9.0" height="10.0" fill="#900b10" opacity="1" mask="url(#mk)"/>
<rect x="613" y="605.0" width="15.5" height="15.9" fill="#b4181e" opacity="0.63" mask="url(#mk)"/>
<rect x="613" y="620.9" width="15.5" height="17.8" fill="#b4181e" opacity="0.76" mask="url(#mk)"/>
<rect x="613" y="638.8" width="15.5" height="9.3" fill="#b4181e" opacity="0.47" mask="url(#mk)"/>
<rect x="613" y="648.1" width="15.5" height="6.9" fill="#b4181e" opacity="0.45" mask="url(#mk)"/>
<rect x="638.7" y="605.0" width="8.1" height="8.8" fill="#b4181e" opacity="0.21" mask="url(#mk)"/>
<rect x="638.7" y="613.8" width="8.1" height="6.0" fill="#b4181e" opacity="0.28" mask="url(#mk)"/>
<rect x="638.7" y="619.8" width="8.1" height="15.5" fill="#b4181e" opacity="0.25" mask="url(#mk)"/>
<rect x="638.7" y="635.3" width="8.1" height="12.7" fill="#b4181e" opacity="0.33" mask="url(#mk)"/>
<rect x="643" y="649" width="18.0" height="6.0" fill="#3d48b8" opacity="0.5" mask="url(#mk)"/>
<rect x="664" y="605.0" width="23.0" height="17.2" fill="#2a32a8" opacity="0.76" mask="url(#mk)"/>
<rect x="664" y="622.2" width="23.0" height="17.0" fill="#2a32a8" opacity="1.00" mask="url(#mk)"/>
<rect x="664" y="639.2" width="23.0" height="15.8" fill="#2a32a8" opacity="0.85" mask="url(#mk)"/>
<rect x="699.6" y="605.0" width="10.1" height="16.6" fill="#3d48b8" opacity="0.57" mask="url(#mk)"/>
<rect x="699.6" y="621.6" width="10.1" height="12.8" fill="#3d48b8" opacity="0.45" mask="url(#mk)"/>
<rect x="699.6" y="634.4" width="10.1" height="16.4" fill="#3d48b8" opacity="0.56" mask="url(#mk)"/>
<rect x="699.6" y="650.7" width="10.1" height="4.3" fill="#3d48b8" opacity="0.31" mask="url(#mk)"/>
<rect x="744" y="605.0" width="10.0" height="8.7" fill="#3d48b8" opacity="0.38" mask="url(#mk)"/>
<rect x="744" y="613.7" width="10.0" height="18.0" fill="#3d48b8" opacity="0.46" mask="url(#mk)"/>
<rect x="744" y="631.6" width="10.0" height="10.6" fill="#3d48b8" opacity="0.33" mask="url(#mk)"/>
<rect x="744" y="642.3" width="10.0" height="12.7" fill="#3d48b8" opacity="0.50" mask="url(#mk)"/>
<rect x="760.5" y="605.0" width="9.1" height="21.1" fill="#b4181e" opacity="0.29" mask="url(#mk)"/>
<rect x="760.5" y="626.1" width="9.1" height="13.9" fill="#b4181e" opacity="0.21" mask="url(#mk)"/>
<rect x="760.5" y="640.0" width="9.1" height="6.6" fill="#b4181e" opacity="0.28" mask="url(#mk)"/>
<rect x="760.5" y="646.6" width="9.1" height="8.4" fill="#b4181e" opacity="0.24" mask="url(#mk)"/>
</g>
<g filter="url(#soft)">
<rect x="312" y="276" width="5.0" height="15.0" fill="#3d48b8" opacity="0.3" mask="url(#mk)"/>
<rect x="244" y="286" width="6.0" height="16.0" fill="#3d48b8" opacity="0.3" mask="url(#mk)"/>
<rect x="91" y="312" width="13.0" height="13.0" fill="#b4181e" opacity="0.35" mask="url(#mk)"/>
<rect x="648" y="299" width="10.0" height="13.0" fill="#3d48b8" opacity="0.3" mask="url(#mk)"/>
<rect x="703" y="297" width="4.0" height="4.0" fill="#b4181e" opacity="0.5" mask="url(#mk)"/>
<rect x="755" y="295" width="4.0" height="4.0" fill="#b4181e" opacity="0.5" mask="url(#mk)"/>
<rect x="88" y="290.0" width="682.0" height="7.5" fill="#3d48b8" opacity="0.04" mask="url(#mk)"/>
<rect x="88" y="297.5" width="682.0" height="19.4" fill="#3d48b8" opacity="0.03" mask="url(#mk)"/>
<rect x="88" y="316.8" width="682.0" height="13.2" fill="#3d48b8" opacity="0.04" mask="url(#mk)"/>
<rect x="200" y="295" width="40.0" height="30.0" fill="#3d48b8" opacity="0.08" mask="url(#mk)"/>
</g>
<line x1="127" y1="174" x2="127" y2="330.5" stroke="#000" stroke-width="2.1"/>
<line x1="181" y1="174" x2="181" y2="330.5" stroke="#000" stroke-width="2.1"/>
<line x1="215" y1="174" x2="215" y2="330.5" stroke="#000" stroke-width="2.1"/>
<line x1="257" y1="174" x2="257" y2="330.5" stroke="#000" stroke-width="2.1"/>
<line x1="305" y1="174" x2="305" y2="330.5" stroke="#000" stroke-width="2.1"/>
<line x1="340" y1="174" x2="340" y2="330.5" stroke="#000" stroke-width="2.1"/>
<line x1="392" y1="174" x2="392" y2="330.5" stroke="#000" stroke-width="2.1"/>
<line x1="427" y1="174" x2="427" y2="330.5" stroke="#000" stroke-width="2.1"/>
<line x1="467" y1="174" x2="467" y2="330.5" stroke="#000" stroke-width="2.1"/>
<line x1="503" y1="174" x2="503" y2="330.5" stroke="#000" stroke-width="2.1"/>
<line x1="560.8" y1="174" x2="560.8" y2="330.5" stroke="#000" stroke-width="2.1"/>
<line x1="584" y1="174" x2="584" y2="330.5" stroke="#000" stroke-width="2.1"/>
<line x1="612" y1="174" x2="612" y2="330.5" stroke="#000" stroke-width="2.1"/>
<line x1="636" y1="174" x2="636" y2="330.5" stroke="#000" stroke-width="2.1"/>
<line x1="664" y1="174" x2="664" y2="330.5" stroke="#000" stroke-width="2.1"/>
<line x1="687" y1="174" x2="687" y2="330.5" stroke="#000" stroke-width="2.1"/>
<line x1="725" y1="174" x2="725" y2="330.5" stroke="#000" stroke-width="2.1"/>
<line x1="743" y1="174" x2="743" y2="330.5" stroke="#000" stroke-width="2.1"/>
<line x1="127" y1="335" x2="127" y2="655" stroke="#000" stroke-width="2.1"/>
<line x1="181" y1="335" x2="181" y2="655" stroke="#000" stroke-width="2.1"/>
<line x1="215" y1="335" x2="215" y2="655" stroke="#000" stroke-width="2.1"/>
<line x1="257" y1="335" x2="257" y2="655" stroke="#000" stroke-width="2.1"/>
<line x1="305" y1="335" x2="305" y2="655" stroke="#000" stroke-width="2.1"/>
<line x1="340" y1="335" x2="340" y2="655" stroke="#000" stroke-width="2.1"/>
<line x1="392" y1="335" x2="392" y2="655" stroke="#000" stroke-width="2.1"/>
<line x1="427" y1="335" x2="427" y2="655" stroke="#000" stroke-width="2.1"/>
<line x1="467" y1="335" x2="467" y2="655" stroke="#000" stroke-width="2.1"/>
<line x1="503" y1="335" x2="503" y2="655" stroke="#000" stroke-width="2.1"/>
<line x1="560.8" y1="335" x2="560.8" y2="655" stroke="#000" stroke-width="2.1"/>
<line x1="584" y1="335" x2="584" y2="655" stroke="#000" stroke-width="2.1"/>
<line x1="612" y1="335" x2="612" y2="655" stroke="#000" stroke-width="2.1"/>
<line x1="636" y1="335" x2="636" y2="655" stroke="#000" stroke-width="2.1"/>
<line x1="664" y1="335" x2="664" y2="655" stroke="#000" stroke-width="2.1"/>
<line x1="687" y1="335" x2="687" y2="655" stroke="#000" stroke-width="2.1"/>
<line x1="725" y1="335" x2="725" y2="655" stroke="#000" stroke-width="2.1"/>
<line x1="743" y1="335" x2="743" y2="655" stroke="#000" stroke-width="2.1"/>
<path d="M58.3,344H774.5M58.3,364H774.5M58.3,344V364M774.5,344V364" stroke="#1d1f78" stroke-width="2.6" stroke-dasharray="8 8.8" fill="none"/>
<path d="M58.3,604.3H774.5M58.3,657.7H774.5M58.3,604.3V657.7M774.5,604.3V657.7" stroke="#d8262b" stroke-width="2.6" stroke-dasharray="8 8.8" fill="none"/>
<text x="21" y="364" font-size="23" fill="#111" stroke="#111" >C2</text>
<text x="21" y="638.6" font-size="23" fill="#d3262c" stroke="#d3262c" >C1</text>
<text x="0" y="0" font-size="23" fill="#111" stroke="#111" text-anchor="middle" transform="translate(799,254) rotate(-90)">References</text>
<text x="0" y="0" font-size="23" fill="#111" stroke="#111" text-anchor="middle" transform="translate(799,493) rotate(-90)">Observations</text>
<rect x="88.7" y="803.7" width="41.3" height="8.3" fill="#3e3e3e" />
<rect x="130.0" y="803.7" width="54.0" height="8.3" fill="#c2c2c2" />
<rect x="184.0" y="803.7" width="33.0" height="8.3" fill="#3e3e3e" />
<rect x="217.0" y="803.7" width="42.0" height="8.3" fill="#c2c2c2" />
<rect x="259.0" y="803.7" width="45.5" height="8.3" fill="#3e3e3e" />
<rect x="304.5" y="803.7" width="34.5" height="8.3" fill="#c2c2c2" />
<rect x="339.0" y="803.7" width="52.0" height="8.3" fill="#3e3e3e" />
<rect x="391.0" y="803.7" width="34.4" height="8.3" fill="#c2c2c2" />
<rect x="425.4" y="803.7" width="40.1" height="8.3" fill="#3e3e3e" />
<rect x="465.5" y="803.7" width="36.0" height="8.3" fill="#c2c2c2" />
<rect x="501.5" y="803.7" width="59.5" height="8.3" fill="#3e3e3e" />
<rect x="561.0" y="803.7" width="24.3" height="8.3" fill="#c2c2c2" />
<rect x="585.3" y="803.7" width="26.2" height="8.3" fill="#3e3e3e" />
<rect x="611.5" y="803.7" width="25.0" height="8.3" fill="#c2c2c2" />
<rect x="636.5" y="803.7" width="27.5" height="8.3" fill="#3e3e3e" />
<rect x="664.0" y="803.7" width="24.0" height="8.3" fill="#c2c2c2" />
<rect x="688.0" y="803.7" width="37.6" height="8.3" fill="#3e3e3e" />
<rect x="725.6" y="803.7" width="17.8" height="8.3" fill="#c2c2c2" />
<rect x="743.4" y="803.7" width="27.2" height="8.3" fill="#3e3e3e" />
<text x="57.5" y="792.5" font-size="23" fill="#111" stroke="#111" >Chr 1</text>
<text x="199.4" y="792.5" font-size="23" fill="#111" stroke="#111" text-anchor="middle" >3</text>
<text x="280" y="792.5" font-size="23" fill="#111" stroke="#111" text-anchor="middle" >5</text>
<text x="362" y="792.5" font-size="23" fill="#111" stroke="#111" text-anchor="middle" >7</text>
<text x="442.4" y="792.5" font-size="23" fill="#111" stroke="#111" text-anchor="middle" >9</text>
<text x="527" y="792.5" font-size="23" fill="#111" stroke="#111" text-anchor="middle" >11</text>
<text x="596.7" y="792.5" font-size="23" fill="#111" stroke="#111" text-anchor="middle" >13</text>
<text x="648" y="792.5" font-size="23" fill="#111" stroke="#111" text-anchor="middle" >15</text>
<text x="703" y="792.5" font-size="23" fill="#111" stroke="#111" text-anchor="middle" >17</text>
<text x="755" y="792.5" font-size="23" fill="#111" stroke="#111" text-anchor="middle" >19</text>
<rect x="61.7" y="818.6" width="20.7" height="157.1" fill="#84d1c6" />
<rect x="61.7" y="981.0" width="20.7" height="295.0" fill="#84d1c6" />
<rect x="61.7" y="1037.0" width="20.7" height="17.0" fill="#9fd5b9" />
<rect x="61.7" y="1040.2" width="20.7" height="0.8" fill="#bfe3b0" />
<rect x="61.7" y="1041.8" width="20.7" height="1.5" fill="#bfe3b0" />
<rect x="61.7" y="1045.0" width="20.7" height="2.0" fill="#bfe3b0" />
<rect x="61.7" y="1051.4" width="20.7" height="1.5" fill="#bfe3b0" />
<rect x="61.7" y="1056.5" width="20.7" height="5.5" fill="#ecef7c" />
<rect x="61.7" y="1276.0" width="20.7" height="24.5" fill="#fde55a" />
<rect x="88.7" y="818.6" width="681.9" height="157.10000000000002" fill="#fcf9fa"/>
<rect x="88.7" y="818.6" width="681.9" height="157.10000000000002" filter="url(#nzR)" opacity="0.05"/>
<rect x="88.7" y="818.6" width="681.9" height="157.10000000000002" filter="url(#nzB)" opacity="0.04"/>
<line x1="404.7" y1="869.9" x2="412.4" y2="870.2" stroke="#962030" stroke-width="1.5" stroke-linecap="round" opacity="0.28"/>
<line x1="695.9" y1="892.1" x2="700.2" y2="891.0" stroke="#962030" stroke-width="1.5" stroke-linecap="round" opacity="0.69"/>
<line x1="606.1" y1="860.5" x2="611.7" y2="860.6" stroke="#962030" stroke-width="1.5" stroke-linecap="round" opacity="0.67"/>
<line x1="166.3" y1="860.7" x2="176.9" y2="860.9" stroke="#962030" stroke-width="1.5" stroke-linecap="round" opacity="0.36"/>
<line x1="739.0" y1="945.5" x2="744.3" y2="946.0" stroke="#962030" stroke-width="1.5" stroke-linecap="round" opacity="0.65"/>
<line x1="156.6" y1="941.4" x2="164.3" y2="942.0" stroke="#962030" stroke-width="1.5" stroke-linecap="round" opacity="0.41"/>
<line x1="366.6" y1="858.0" x2="376.2" y2="856.8" stroke="#962030" stroke-width="1.5" stroke-linecap="round" opacity="0.63"/>
<line x1="691.3" y1="831.8" x2="697.9" y2="832.5" stroke="#962030" stroke-width="1.5" stroke-linecap="round" opacity="0.28"/>
<line x1="507.9" y1="837.1" x2="513.0" y2="835.7" stroke="#962030" stroke-width="1.5" stroke-linecap="round" opacity="0.66"/>
<line x1="316.8" y1="888.5" x2="327.3" y2="889.2" stroke="#962030" stroke-width="1.5" stroke-linecap="round" opacity="0.43"/>
<line x1="438.8" y1="897.3" x2="448.7" y2="895.3" stroke="#962030" stroke-width="1.5" stroke-linecap="round" opacity="0.42"/>
<line x1="525.1" y1="844.1" x2="529.3" y2="843.6" stroke="#962030" stroke-width="1.5" stroke-linecap="round" opacity="0.33"/>
<line x1="412.1" y1="853.7" x2="417.8" y2="853.7" stroke="#962030" stroke-width="1.5" stroke-linecap="round" opacity="0.36"/>
<line x1="210.6" y1="883.5" x2="218.1" y2="882.6" stroke="#962030" stroke-width="1.5" stroke-linecap="round" opacity="0.48"/>
<line x1="591.8" y1="870.5" x2="597.7" y2="870.7" stroke="#962030" stroke-width="1.5" stroke-linecap="round" opacity="0.69"/>
<line x1="440.5" y1="920.6" x2="450.6" y2="918.7" stroke="#962030" stroke-width="1.5" stroke-linecap="round" opacity="0.66"/>
<line x1="142.3" y1="903.6" x2="146.4" y2="902.0" stroke="#962030" stroke-width="1.5" stroke-linecap="round" opacity="0.66"/>
<line x1="682.2" y1="923.1" x2="692.3" y2="922.4" stroke="#962030" stroke-width="1.5" stroke-linecap="round" opacity="0.50"/>
<line x1="373.9" y1="929.4" x2="379.7" y2="928.1" stroke="#962030" stroke-width="1.5" stroke-linecap="round" opacity="0.33"/>
<line x1="712.1" y1="822.2" x2="719.8" y2="822.8" stroke="#962030" stroke-width="1.5" stroke-linecap="round" opacity="0.26"/>
<line x1="280.6" y1="831.7" x2="287.9" y2="829.3" stroke="#962030" stroke-width="1.5" stroke-linecap="round" opacity="0.60"/>
<line x1="501.0" y1="921.7" x2="510.6" y2="920.9" stroke="#962030" stroke-width="1.5" stroke-linecap="round" opacity="0.29"/>
<line x1="424.7" y1="835.8" x2="433.1" y2="833.6" stroke="#962030" stroke-width="1.5" stroke-linecap="round" opacity="0.58"/>
<line x1="338.9" y1="869.9" x2="345.2" y2="869.7" stroke="#962030" stroke-width="1.5" stroke-linecap="round" opacity="0.35"/>
<line x1="258.4" y1="834.1" x2="265.4" y2="833.0" stroke="#962030" stroke-width="1.5" stroke-linecap="round" opacity="0.31"/>
<line x1="645.5" y1="826.7" x2="655.7" y2="826.3" stroke="#962030" stroke-width="1.5" stroke-linecap="round" opacity="0.50"/>
<line x1="318.7" y1="968.8" x2="326.8" y2="967.9" stroke="#962030" stroke-width="1.5" stroke-linecap="round" opacity="0.31"/>
<line x1="416.6" y1="959.1" x2="423.0" y2="958.8" stroke="#962030" stroke-width="1.5" stroke-linecap="round" opacity="0.35"/>
<line x1="738.7" y1="844.8" x2="742.9" y2="843.8" stroke="#962030" stroke-width="1.5" stroke-linecap="round" opacity="0.59"/>
<line x1="183.8" y1="928.5" x2="192.1" y2="928.8" stroke="#962030" stroke-width="1.5" stroke-linecap="round" opacity="0.51"/>
<line x1="603.5" y1="930.5" x2="611.2" y2="928.3" stroke="#962030" stroke-width="1.5" stroke-linecap="round" opacity="0.54"/>
<line x1="450.5" y1="886.7" x2="459.6" y2="884.2" stroke="#962030" stroke-width="1.5" stroke-linecap="round" opacity="0.56"/>
<line x1="637.6" y1="857.4" x2="647.1" y2="855.3" stroke="#962030" stroke-width="1.5" stroke-linecap="round" opacity="0.51"/>
<line x1="400.0" y1="846.6" x2="409.8" y2="845.3" stroke="#962030" stroke-width="1.5" stroke-linecap="round" opacity="0.53"/>
<line x1="183.4" y1="822.8" x2="193.4" y2="823.5" stroke="#962030" stroke-width="1.5" stroke-linecap="round" opacity="0.58"/>
<line x1="651.8" y1="925.4" x2="660.8" y2="923.9" stroke="#962030" stroke-width="1.5" stroke-linecap="round" opacity="0.30"/>
<line x1="719.0" y1="892.0" x2="725.1" y2="890.7" stroke="#962030" stroke-width="1.5" stroke-linecap="round" opacity="0.26"/>
<line x1="645.9" y1="872.9" x2="656.7" y2="871.6" stroke="#962030" stroke-width="1.5" stroke-linecap="round" opacity="0.38"/>
<line x1="258.3" y1="869.5" x2="267.7" y2="869.9" stroke="#962030" stroke-width="1.5" stroke-linecap="round" opacity="0.50"/>
<line x1="208.9" y1="883.1" x2="214.2" y2="883.6" stroke="#962030" stroke-width="1.5" stroke-linecap="round" opacity="0.53"/>
<line x1="259.8" y1="922.3" x2="266.9" y2="921.2" stroke="#962030" stroke-width="1.5" stroke-linecap="round" opacity="0.34"/>
<line x1="632.5" y1="825.4" x2="636.5" y2="824.0" stroke="#962030" stroke-width="1.5" stroke-linecap="round" opacity="0.68"/>
<line x1="234.3" y1="920.1" x2="238.4" y2="920.8" stroke="#962030" stroke-width="1.5" stroke-linecap="round" opacity="0.64"/>
<line x1="335.5" y1="869.9" x2="340.2" y2="870.2" stroke="#962030" stroke-width="1.5" stroke-linecap="round" opacity="0.35"/>
<line x1="119.1" y1="855.7" x2="126.3" y2="856.4" stroke="#962030" stroke-width="1.5" stroke-linecap="round" opacity="0.68"/>
<line x1="314.2" y1="940.4" x2="321.7" y2="941.4" stroke="#962030" stroke-width="1.5" stroke-linecap="round" opacity="0.35"/>
<line x1="456.8" y1="891.6" x2="466.2" y2="892.0" stroke="#962030" stroke-width="1.5" stroke-linecap="round" opacity="0.48"/>
<line x1="240.0" y1="896.0" x2="247.7" y2="896.7" stroke="#962030" stroke-width="1.5" stroke-linecap="round" opacity="0.35"/>
<rect x="88.7" y="981" width="681.9" height="319.79999999999995" fill="#fbf8fa"/>
<rect x="88.7" y="981" width="681.9" height="319.79999999999995" filter="url(#nzR)" opacity="0.075"/>
<rect x="88.7" y="981" width="681.9" height="319.79999999999995" filter="url(#nzB)" opacity="0.08"/>
<g filter="url(#soft)">
<rect x="106" y="993.0" width="14.0" height="16.8" fill="#b4181e" opacity="0.18" mask="url(#mk)"/>
<rect x="106" y="1009.8" width="14.0" height="6.6" fill="#b4181e" opacity="0.25" mask="url(#mk)"/>
<rect x="106" y="1016.4" width="14.0" height="7.6" fill="#b4181e" opacity="0.24" mask="url(#mk)"/>
<rect x="144" y="1026" width="23.0" height="9.0" fill="#b4181e" opacity="0.3" mask="url(#mk)"/>
<rect x="585.3" y="1029.6" width="10.1" height="8.9" fill="#900b10" opacity="1"/>
<rect x="613" y="1026" width="10.0" height="12.0" fill="#3d48b8" opacity="0.3" mask="url(#mk)"/>
<rect x="646" y="1026" width="8.0" height="12.0" fill="#3d48b8" opacity="0.3" mask="url(#mk)"/>
<rect x="703" y="1037" width="9.0" height="7.0" fill="#b4181e" opacity="0.6" mask="url(#mk)"/>
<rect x="756.6" y="1037" width="3.8" height="13.0" fill="#b4181e" opacity="0.5" mask="url(#mk)"/>
<rect x="443" y="1026" width="8.0" height="10.0" fill="#b4181e" opacity="0.3" mask="url(#mk)"/>
<rect x="478.7" y="988.0" width="10.3" height="20.7" fill="#3d48b8" opacity="0.15" mask="url(#mk)"/>
<rect x="478.7" y="1008.7" width="10.3" height="15.4" fill="#3d48b8" opacity="0.21" mask="url(#mk)"/>
<rect x="478.7" y="1024.0" width="10.3" height="14.0" fill="#3d48b8" opacity="0.14" mask="url(#mk)"/>
<rect x="341" y="985.0" width="21.0" height="11.6" fill="#3d48b8" opacity="0.16" mask="url(#mk)"/>
<rect x="341" y="996.6" width="21.0" height="16.7" fill="#3d48b8" opacity="0.22" mask="url(#mk)"/>
<rect x="341" y="1013.3" width="21.0" height="11.3" fill="#3d48b8" opacity="0.20" mask="url(#mk)"/>
<rect x="341" y="1024.6" width="21.0" height="10.6" fill="#3d48b8" opacity="0.23" mask="url(#mk)"/>
<rect x="341" y="1035.2" width="21.0" height="4.8" fill="#3d48b8" opacity="0.18" mask="url(#mk)"/>
<rect x="88.7" y="981.0" width="41.3" height="13.3" fill="#b4181e" opacity="0.06" mask="url(#mk)"/>
<rect x="88.7" y="994.3" width="41.3" height="11.2" fill="#b4181e" opacity="0.09" mask="url(#mk)"/>
<rect x="88.7" y="1005.4" width="41.3" height="12.5" fill="#b4181e" opacity="0.07" mask="url(#mk)"/>
<rect x="88.7" y="1017.9" width="41.3" height="21.8" fill="#b4181e" opacity="0.08" mask="url(#mk)"/>
<rect x="88.7" y="1039.7" width="41.3" height="17.3" fill="#b4181e" opacity="0.06" mask="url(#mk)"/>
<rect x="501.5" y="981.0" width="59.5" height="9.0" fill="#b4181e" opacity="0.04" mask="url(#mk)"/>
<rect x="501.5" y="990.0" width="59.5" height="18.1" fill="#b4181e" opacity="0.04" mask="url(#mk)"/>
<rect x="501.5" y="1008.1" width="59.5" height="18.2" fill="#b4181e" opacity="0.03" mask="url(#mk)"/>
<rect x="501.5" y="1026.3" width="59.5" height="14.8" fill="#b4181e" opacity="0.05" mask="url(#mk)"/>
<rect x="501.5" y="1041.1" width="59.5" height="15.9" fill="#b4181e" opacity="0.04" mask="url(#mk)"/>
<rect x="664" y="981.0" width="79.0" height="7.9" fill="#b4181e" opacity="0.06" mask="url(#mk)"/>
<rect x="664" y="988.9" width="79.0" height="15.7" fill="#b4181e" opacity="0.04" mask="url(#mk)"/>
<rect x="664" y="1004.7" width="79.0" height="8.5" fill="#b4181e" opacity="0.05" mask="url(#mk)"/>
<rect x="664" y="1013.2" width="79.0" height="14.8" fill="#b4181e" opacity="0.04" mask="url(#mk)"/>
<rect x="664" y="1028.1" width="79.0" height="21.9" fill="#b4181e" opacity="0.06" mask="url(#mk)"/>
<rect x="664" y="1049.9" width="79.0" height="7.1" fill="#b4181e" opacity="0.04" mask="url(#mk)"/>
<rect x="88.7" y="1057.0" width="17.3" height="19.3" fill="#b4181e" opacity="0.16" mask="url(#mk)"/>
<rect x="88.7" y="1076.3" width="17.3" height="17.5" fill="#b4181e" opacity="0.16" mask="url(#mk)"/>
<rect x="88.7" y="1093.8" width="17.3" height="10.4" fill="#b4181e" opacity="0.19" mask="url(#mk)"/>
<rect x="88.7" y="1104.2" width="17.3" height="21.7" fill="#b4181e" opacity="0.13" mask="url(#mk)"/>
<rect x="88.7" y="1125.8" width="17.3" height="14.8" fill="#b4181e" opacity="0.14" mask="url(#mk)"/>
<rect x="88.7" y="1140.7" width="17.3" height="20.7" fill="#b4181e" opacity="0.16" mask="url(#mk)"/>
<rect x="88.7" y="1161.4" width="17.3" height="20.1" fill="#b4181e" opacity="0.19" mask="url(#mk)"/>
<rect x="88.7" y="1181.5" width="17.3" height="10.4" fill="#b4181e" opacity="0.19" mask="url(#mk)"/>
<rect x="88.7" y="1191.9" width="17.3" height="12.6" fill="#b4181e" opacity="0.20" mask="url(#mk)"/>
<rect x="88.7" y="1204.5" width="17.3" height="14.1" fill="#b4181e" opacity="0.19" mask="url(#mk)"/>
<rect x="88.7" y="1218.7" width="17.3" height="10.5" fill="#b4181e" opacity="0.14" mask="url(#mk)"/>
<rect x="88.7" y="1229.2" width="17.3" height="15.4" fill="#b4181e" opacity="0.21" mask="url(#mk)"/>
<rect x="88.7" y="1244.6" width="17.3" height="13.8" fill="#b4181e" opacity="0.12" mask="url(#mk)"/>
<rect x="88.7" y="1258.4" width="17.3" height="16.6" fill="#b4181e" opacity="0.14" mask="url(#mk)"/>
<rect x="120" y="1057.0" width="9.0" height="14.8" fill="#b4181e" opacity="0.20" mask="url(#mk)"/>
<rect x="120" y="1071.8" width="9.0" height="13.3" fill="#b4181e" opacity="0.17" mask="url(#mk)"/>
<rect x="120" y="1085.1" width="9.0" height="9.0" fill="#b4181e" opacity="0.22" mask="url(#mk)"/>
<rect x="120" y="1094.1" width="9.0" height="15.1" fill="#b4181e" opacity="0.16" mask="url(#mk)"/>
<rect x="120" y="1109.3" width="9.0" height="18.4" fill="#b4181e" opacity="0.14" mask="url(#mk)"/>
<rect x="120" y="1127.7" width="9.0" height="17.9" fill="#b4181e" opacity="0.22" mask="url(#mk)"/>
<rect x="120" y="1145.6" width="9.0" height="19.0" fill="#b4181e" opacity="0.18" mask="url(#mk)"/>
<rect x="120" y="1164.6" width="9.0" height="16.6" fill="#b4181e" opacity="0.24" mask="url(#mk)"/>
<rect x="120" y="1181.2" width="9.0" height="21.7" fill="#b4181e" opacity="0.19" mask="url(#mk)"/>
<rect x="120" y="1202.9" width="9.0" height="6.6" fill="#b4181e" opacity="0.20" mask="url(#mk)"/>
<rect x="120" y="1209.5" width="9.0" height="15.4" fill="#b4181e" opacity="0.24" mask="url(#mk)"/>
<rect x="120" y="1224.9" width="9.0" height="20.0" fill="#b4181e" opacity="0.19" mask="url(#mk)"/>
<rect x="120" y="1244.9" width="9.0" height="14.4" fill="#b4181e" opacity="0.19" mask="url(#mk)"/>
<rect x="120" y="1259.3" width="9.0" height="15.7" fill="#b4181e" opacity="0.18" mask="url(#mk)"/>
<rect x="167" y="1057.0" width="6.0" height="16.5" fill="#3d48b8" opacity="0.23" mask="url(#mk)"/>
<rect x="167" y="1073.5" width="6.0" height="13.5" fill="#3d48b8" opacity="0.38" mask="url(#mk)"/>
<rect x="167" y="1087.0" width="6.0" height="11.4" fill="#3d48b8" opacity="0.33" mask="url(#mk)"/>
<rect x="167" y="1098.4" width="6.0" height="16.4" fill="#3d48b8" opacity="0.36" mask="url(#mk)"/>
<rect x="167" y="1114.8" width="6.0" height="19.6" fill="#3d48b8" opacity="0.36" mask="url(#mk)"/>
<rect x="167" y="1134.4" width="6.0" height="12.1" fill="#3d48b8" opacity="0.26" mask="url(#mk)"/>
<rect x="167" y="1146.5" width="6.0" height="17.5" fill="#3d48b8" opacity="0.34" mask="url(#mk)"/>
<rect x="167" y="1164.0" width="6.0" height="20.0" fill="#3d48b8" opacity="0.20" mask="url(#mk)"/>
<rect x="167" y="1184.0" width="6.0" height="7.1" fill="#3d48b8" opacity="0.32" mask="url(#mk)"/>
<rect x="167" y="1191.1" width="6.0" height="20.7" fill="#3d48b8" opacity="0.39" mask="url(#mk)"/>
<rect x="167" y="1211.8" width="6.0" height="17.9" fill="#3d48b8" opacity="0.28" mask="url(#mk)"/>
<rect x="167" y="1229.8" width="6.0" height="7.6" fill="#3d48b8" opacity="0.32" mask="url(#mk)"/>
<rect x="167" y="1237.3" width="6.0" height="20.0" fill="#3d48b8" opacity="0.28" mask="url(#mk)"/>
<rect x="167" y="1257.3" width="6.0" height="17.7" fill="#3d48b8" opacity="0.37" mask="url(#mk)"/>
<rect x="184" y="1057.0" width="7.0" height="6.7" fill="#b4181e" opacity="0.23" mask="url(#mk)"/>
<rect x="184" y="1063.7" width="7.0" height="10.7" fill="#b4181e" opacity="0.18" mask="url(#mk)"/>
<rect x="184" y="1074.4" width="7.0" height="8.3" fill="#b4181e" opacity="0.20" mask="url(#mk)"/>
<rect x="184" y="1082.8" width="7.0" height="15.1" fill="#b4181e" opacity="0.23" mask="url(#mk)"/>
<rect x="184" y="1097.8" width="7.0" height="8.7" fill="#b4181e" opacity="0.14" mask="url(#mk)"/>
<rect x="184" y="1106.5" width="7.0" height="19.9" fill="#b4181e" opacity="0.21" mask="url(#mk)"/>
<rect x="184" y="1126.5" width="7.0" height="9.9" fill="#b4181e" opacity="0.25" mask="url(#mk)"/>
<rect x="184" y="1136.3" width="7.0" height="8.3" fill="#b4181e" opacity="0.19" mask="url(#mk)"/>
<rect x="184" y="1144.6" width="7.0" height="10.1" fill="#b4181e" opacity="0.16" mask="url(#mk)"/>
<rect x="184" y="1154.7" width="7.0" height="6.2" fill="#b4181e" opacity="0.23" mask="url(#mk)"/>
<rect x="184" y="1160.8" width="7.0" height="20.4" fill="#b4181e" opacity="0.22" mask="url(#mk)"/>
<rect x="184" y="1181.2" width="7.0" height="8.5" fill="#b4181e" opacity="0.19" mask="url(#mk)"/>
<rect x="184" y="1189.8" width="7.0" height="11.5" fill="#b4181e" opacity="0.21" mask="url(#mk)"/>
<rect x="184" y="1201.3" width="7.0" height="16.2" fill="#b4181e" opacity="0.19" mask="url(#mk)"/>
<rect x="184" y="1217.5" width="7.0" height="10.0" fill="#b4181e" opacity="0.24" mask="url(#mk)"/>
<rect x="184" y="1227.5" width="7.0" height="9.2" fill="#b4181e" opacity="0.18" mask="url(#mk)"/>
<rect x="184" y="1236.7" width="7.0" height="13.7" fill="#b4181e" opacity="0.16" mask="url(#mk)"/>
<rect x="184" y="1250.4" width="7.0" height="15.2" fill="#b4181e" opacity="0.20" mask="url(#mk)"/>
<rect x="184" y="1265.6" width="7.0" height="9.4" fill="#b4181e" opacity="0.17" mask="url(#mk)"/>
<rect x="130" y="1057.0" width="54.0" height="21.6" fill="#b4181e" opacity="0.04" mask="url(#mk)"/>
<rect x="130" y="1078.6" width="54.0" height="10.4" fill="#b4181e" opacity="0.04" mask="url(#mk)"/>
<rect x="130" y="1089.0" width="54.0" height="17.0" fill="#b4181e" opacity="0.04" mask="url(#mk)"/>
<rect x="130" y="1106.0" width="54.0" height="6.8" fill="#b4181e" opacity="0.04" mask="url(#mk)"/>
<rect x="130" y="1112.8" width="54.0" height="13.9" fill="#b4181e" opacity="0.04" mask="url(#mk)"/>
<rect x="130" y="1126.7" width="54.0" height="10.6" fill="#b4181e" opacity="0.04" mask="url(#mk)"/>
<rect x="130" y="1137.3" width="54.0" height="15.7" fill="#b4181e" opacity="0.03" mask="url(#mk)"/>
<rect x="130" y="1153.0" width="54.0" height="16.2" fill="#b4181e" opacity="0.04" mask="url(#mk)"/>
<rect x="130" y="1169.2" width="54.0" height="16.8" fill="#b4181e" opacity="0.04" mask="url(#mk)"/>
<rect x="130" y="1186.1" width="54.0" height="16.5" fill="#b4181e" opacity="0.04" mask="url(#mk)"/>
<rect x="130" y="1202.6" width="54.0" height="16.1" fill="#b4181e" opacity="0.04" mask="url(#mk)"/>
<rect x="130" y="1218.7" width="54.0" height="16.3" fill="#b4181e" opacity="0.03" mask="url(#mk)"/>
<rect x="130" y="1235.0" width="54.0" height="13.1" fill="#b4181e" opacity="0.04" mask="url(#mk)"/>
<rect x="130" y="1248.1" width="54.0" height="17.7" fill="#b4181e" opacity="0.02" mask="url(#mk)"/>
<rect x="130" y="1265.8" width="54.0" height="9.2" fill="#b4181e" opacity="0.04" mask="url(#mk)"/>
<rect x="238" y="1057.0" width="16.0" height="8.8" fill="#3d48b8" opacity="0.26" mask="url(#mk)"/>
<rect x="238" y="1065.8" width="16.0" height="14.6" fill="#3d48b8" opacity="0.45" mask="url(#mk)"/>
<rect x="238" y="1080.4" width="16.0" height="14.5" fill="#3d48b8" opacity="0.44" mask="url(#mk)"/>
<rect x="238" y="1094.9" width="16.0" height="19.3" fill="#3d48b8" opacity="0.29" mask="url(#mk)"/>
<rect x="238" y="1114.2" width="16.0" height="19.2" fill="#3d48b8" opacity="0.34" mask="url(#mk)"/>
<rect x="238" y="1133.4" width="16.0" height="18.9" fill="#3d48b8" opacity="0.40" mask="url(#mk)"/>
<rect x="238" y="1152.3" width="16.0" height="11.4" fill="#3d48b8" opacity="0.25" mask="url(#mk)"/>
<rect x="238" y="1163.7" width="16.0" height="16.3" fill="#3d48b8" opacity="0.26" mask="url(#mk)"/>
<rect x="238" y="1180.0" width="16.0" height="21.5" fill="#3d48b8" opacity="0.67" mask="url(#mk)"/>
<rect x="238" y="1201.5" width="16.0" height="17.6" fill="#3d48b8" opacity="0.71" mask="url(#mk)"/>
<rect x="238" y="1219.1" width="16.0" height="21.5" fill="#3d48b8" opacity="0.65" mask="url(#mk)"/>
<rect x="238" y="1240.5" width="16.0" height="11.9" fill="#3d48b8" opacity="0.64" mask="url(#mk)"/>
<rect x="238" y="1252.4" width="16.0" height="6.2" fill="#3d48b8" opacity="0.55" mask="url(#mk)"/>
<rect x="238" y="1258.6" width="16.0" height="16.4" fill="#3d48b8" opacity="0.60" mask="url(#mk)"/>
<rect x="282" y="1057.0" width="20.0" height="16.8" fill="#3d48b8" opacity="0.41" mask="url(#mk)"/>
<rect x="282" y="1073.8" width="20.0" height="19.2" fill="#3d48b8" opacity="0.50" mask="url(#mk)"/>
<rect x="282" y="1092.9" width="20.0" height="7.7" fill="#3d48b8" opacity="0.32" mask="url(#mk)"/>
<rect x="282" y="1100.6" width="20.0" height="6.4" fill="#3d48b8" opacity="0.49" mask="url(#mk)"/>
<rect x="282" y="1107.1" width="20.0" height="15.0" fill="#3d48b8" opacity="0.50" mask="url(#mk)"/>
<rect x="282" y="1122.0" width="20.0" height="9.5" fill="#3d48b8" opacity="0.28" mask="url(#mk)"/>
<rect x="282" y="1131.6" width="20.0" height="19.2" fill="#3d48b8" opacity="0.50" mask="url(#mk)"/>
<rect x="282" y="1150.8" width="20.0" height="10.8" fill="#3d48b8" opacity="0.37" mask="url(#mk)"/>
<rect x="282" y="1161.6" width="20.0" height="8.4" fill="#3d48b8" opacity="0.51" mask="url(#mk)"/>
<rect x="282" y="1170.0" width="20.0" height="10.9" fill="#3d48b8" opacity="0.53" mask="url(#mk)"/>
<rect x="282" y="1180.9" width="20.0" height="7.6" fill="#3d48b8" opacity="0.67" mask="url(#mk)"/>
<rect x="282" y="1188.4" width="20.0" height="8.2" fill="#3d48b8" opacity="0.52" mask="url(#mk)"/>
<rect x="282" y="1196.6" width="20.0" height="16.7" fill="#3d48b8" opacity="0.62" mask="url(#mk)"/>
<rect x="282" y="1213.3" width="20.0" height="21.1" fill="#3d48b8" opacity="0.51" mask="url(#mk)"/>
<rect x="282" y="1234.5" width="20.0" height="17.9" fill="#3d48b8" opacity="0.41" mask="url(#mk)"/>
<rect x="282" y="1252.3" width="20.0" height="12.6" fill="#3d48b8" opacity="0.39" mask="url(#mk)"/>
<rect x="282" y="1265.0" width="20.0" height="10.0" fill="#3d48b8" opacity="0.50" mask="url(#mk)"/>
<rect x="305" y="1057.0" width="15.0" height="21.2" fill="#3d48b8" opacity="0.10" mask="url(#mk)"/>
<rect x="305" y="1078.2" width="15.0" height="11.9" fill="#3d48b8" opacity="0.14" mask="url(#mk)"/>
<rect x="305" y="1090.2" width="15.0" height="21.2" fill="#3d48b8" opacity="0.18" mask="url(#mk)"/>
<rect x="305" y="1111.4" width="15.0" height="7.6" fill="#3d48b8" opacity="0.16" mask="url(#mk)"/>
<rect x="305" y="1119.0" width="15.0" height="14.7" fill="#3d48b8" opacity="0.19" mask="url(#mk)"/>
<rect x="305" y="1133.7" width="15.0" height="11.7" fill="#3d48b8" opacity="0.14" mask="url(#mk)"/>
<rect x="305" y="1145.4" width="15.0" height="9.0" fill="#3d48b8" opacity="0.11" mask="url(#mk)"/>
<rect x="305" y="1154.4" width="15.0" height="19.6" fill="#3d48b8" opacity="0.14" mask="url(#mk)"/>
<rect x="305" y="1174.0" width="15.0" height="16.6" fill="#3d48b8" opacity="0.16" mask="url(#mk)"/>
<rect x="305" y="1190.6" width="15.0" height="15.6" fill="#3d48b8" opacity="0.10" mask="url(#mk)"/>
<rect x="305" y="1206.2" width="15.0" height="18.6" fill="#3d48b8" opacity="0.12" mask="url(#mk)"/>
<rect x="305" y="1224.8" width="15.0" height="8.0" fill="#3d48b8" opacity="0.15" mask="url(#mk)"/>
<rect x="305" y="1232.8" width="15.0" height="7.1" fill="#3d48b8" opacity="0.17" mask="url(#mk)"/>
<rect x="305" y="1239.9" width="15.0" height="9.3" fill="#3d48b8" opacity="0.12" mask="url(#mk)"/>
<rect x="305" y="1249.2" width="15.0" height="19.9" fill="#3d48b8" opacity="0.13" mask="url(#mk)"/>
<rect x="305" y="1269.1" width="15.0" height="5.9" fill="#3d48b8" opacity="0.19" mask="url(#mk)"/>
<rect x="372" y="1057.0" width="2.0" height="6.0" fill="#b4181e" opacity="0.36" mask="url(#mk)"/>
<rect x="372" y="1063.0" width="2.0" height="8.3" fill="#b4181e" opacity="0.22" mask="url(#mk)"/>
<rect x="372" y="1071.4" width="2.0" height="10.0" fill="#b4181e" opacity="0.23" mask="url(#mk)"/>
<rect x="372" y="1081.4" width="2.0" height="16.6" fill="#b4181e" opacity="0.20" mask="url(#mk)"/>
<rect x="372" y="1097.9" width="2.0" height="6.2" fill="#b4181e" opacity="0.35" mask="url(#mk)"/>
<rect x="372" y="1104.2" width="2.0" height="9.8" fill="#b4181e" opacity="0.26" mask="url(#mk)"/>
<rect x="372" y="1114.0" width="2.0" height="8.8" fill="#b4181e" opacity="0.21" mask="url(#mk)"/>
<rect x="372" y="1122.8" width="2.0" height="17.9" fill="#b4181e" opacity="0.30" mask="url(#mk)"/>
<rect x="372" y="1140.6" width="2.0" height="17.9" fill="#b4181e" opacity="0.29" mask="url(#mk)"/>
<rect x="372" y="1158.6" width="2.0" height="18.4" fill="#b4181e" opacity="0.30" mask="url(#mk)"/>
<rect x="372" y="1177.0" width="2.0" height="7.7" fill="#b4181e" opacity="0.29" mask="url(#mk)"/>
<rect x="372" y="1184.8" width="2.0" height="21.1" fill="#b4181e" opacity="0.20" mask="url(#mk)"/>
<rect x="372" y="1205.9" width="2.0" height="18.5" fill="#b4181e" opacity="0.36" mask="url(#mk)"/>
<rect x="372" y="1224.4" width="2.0" height="14.3" fill="#b4181e" opacity="0.28" mask="url(#mk)"/>
<rect x="372" y="1238.8" width="2.0" height="21.4" fill="#b4181e" opacity="0.21" mask="url(#mk)"/>
<rect x="372" y="1260.2" width="2.0" height="14.8" fill="#b4181e" opacity="0.27" mask="url(#mk)"/>
<rect x="450.8" y="1057.0" width="2.5" height="17.0" fill="#b4181e" opacity="0.34" mask="url(#mk)"/>
<rect x="450.8" y="1074.0" width="2.5" height="20.6" fill="#b4181e" opacity="0.24" mask="url(#mk)"/>
<rect x="450.8" y="1094.5" width="2.5" height="7.3" fill="#b4181e" opacity="0.37" mask="url(#mk)"/>
<rect x="450.8" y="1101.8" width="2.5" height="7.1" fill="#b4181e" opacity="0.29" mask="url(#mk)"/>
<rect x="450.8" y="1108.9" width="2.5" height="16.1" fill="#b4181e" opacity="0.35" mask="url(#mk)"/>
<rect x="450.8" y="1125.0" width="2.5" height="11.2" fill="#b4181e" opacity="0.45" mask="url(#mk)"/>
<rect x="450.8" y="1136.2" width="2.5" height="14.5" fill="#b4181e" opacity="0.33" mask="url(#mk)"/>
<rect x="450.8" y="1150.7" width="2.5" height="15.7" fill="#b4181e" opacity="0.25" mask="url(#mk)"/>
<rect x="450.8" y="1166.4" width="2.5" height="17.2" fill="#b4181e" opacity="0.42" mask="url(#mk)"/>
<rect x="450.8" y="1183.6" width="2.5" height="16.4" fill="#b4181e" opacity="0.40" mask="url(#mk)"/>
<rect x="450.8" y="1200.0" width="2.5" height="17.5" fill="#b4181e" opacity="0.28" mask="url(#mk)"/>
<rect x="450.8" y="1217.6" width="2.5" height="13.2" fill="#b4181e" opacity="0.28" mask="url(#mk)"/>
<rect x="450.8" y="1230.8" width="2.5" height="11.4" fill="#b4181e" opacity="0.33" mask="url(#mk)"/>
<rect x="450.8" y="1242.2" width="2.5" height="12.7" fill="#b4181e" opacity="0.25" mask="url(#mk)"/>
<rect x="450.8" y="1254.9" width="2.5" height="12.8" fill="#b4181e" opacity="0.38" mask="url(#mk)"/>
<rect x="450.8" y="1267.7" width="2.5" height="7.3" fill="#b4181e" opacity="0.26" mask="url(#mk)"/>
<rect x="445" y="1057" width="10.0" height="10.0" fill="#b4181e" opacity="0.5" mask="url(#mk)"/>
<rect x="477" y="1057.0" width="11.0" height="20.8" fill="#3d48b8" opacity="0.15" mask="url(#mk)"/>
<rect x="477" y="1077.8" width="11.0" height="19.3" fill="#3d48b8" opacity="0.16" mask="url(#mk)"/>
<rect x="477" y="1097.1" width="11.0" height="7.5" fill="#3d48b8" opacity="0.25" mask="url(#mk)"/>
<rect x="477" y="1104.6" width="11.0" height="19.0" fill="#3d48b8" opacity="0.22" mask="url(#mk)"/>
<rect x="477" y="1123.6" width="11.0" height="15.4" fill="#3d48b8" opacity="0.22" mask="url(#mk)"/>
<rect x="477" y="1139.0" width="11.0" height="11.3" fill="#3d48b8" opacity="0.16" mask="url(#mk)"/>
<rect x="477" y="1150.3" width="11.0" height="11.7" fill="#3d48b8" opacity="0.24" mask="url(#mk)"/>
<rect x="477" y="1161.9" width="11.0" height="18.0" fill="#3d48b8" opacity="0.27" mask="url(#mk)"/>
<rect x="477" y="1179.9" width="11.0" height="20.1" fill="#3d48b8" opacity="0.28" mask="url(#mk)"/>
<rect x="477" y="1200.0" width="11.0" height="15.6" fill="#3d48b8" opacity="0.31" mask="url(#mk)"/>
<rect x="477" y="1215.6" width="11.0" height="15.2" fill="#3d48b8" opacity="0.28" mask="url(#mk)"/>
<rect x="477" y="1230.9" width="11.0" height="16.5" fill="#3d48b8" opacity="0.28" mask="url(#mk)"/>
<rect x="477" y="1247.4" width="11.0" height="7.7" fill="#3d48b8" opacity="0.42" mask="url(#mk)"/>
<rect x="477" y="1255.1" width="11.0" height="11.9" fill="#3d48b8" opacity="0.40" mask="url(#mk)"/>
<rect x="477" y="1267.0" width="11.0" height="5.0" fill="#3d48b8" opacity="0.41" mask="url(#mk)"/>
<rect x="509" y="1057.0" width="3.0" height="19.5" fill="#b4181e" opacity="0.32" mask="url(#mk)"/>
<rect x="509" y="1076.5" width="3.0" height="19.1" fill="#b4181e" opacity="0.26" mask="url(#mk)"/>
<rect x="509" y="1095.6" width="3.0" height="16.3" fill="#b4181e" opacity="0.17" mask="url(#mk)"/>
<rect x="509" y="1111.9" width="3.0" height="20.9" fill="#b4181e" opacity="0.30" mask="url(#mk)"/>
<rect x="509" y="1132.8" width="3.0" height="10.3" fill="#b4181e" opacity="0.19" mask="url(#mk)"/>
<rect x="509" y="1143.0" width="3.0" height="17.2" fill="#b4181e" opacity="0.21" mask="url(#mk)"/>
<rect x="509" y="1160.3" width="3.0" height="11.4" fill="#b4181e" opacity="0.16" mask="url(#mk)"/>
<rect x="509" y="1171.7" width="3.0" height="19.9" fill="#b4181e" opacity="0.25" mask="url(#mk)"/>
<rect x="509" y="1191.6" width="3.0" height="12.4" fill="#b4181e" opacity="0.19" mask="url(#mk)"/>
<rect x="509" y="1204.1" width="3.0" height="16.1" fill="#b4181e" opacity="0.17" mask="url(#mk)"/>
<rect x="509" y="1220.2" width="3.0" height="17.9" fill="#b4181e" opacity="0.20" mask="url(#mk)"/>
<rect x="509" y="1238.1" width="3.0" height="12.7" fill="#b4181e" opacity="0.22" mask="url(#mk)"/>
<rect x="509" y="1250.8" width="3.0" height="11.9" fill="#b4181e" opacity="0.28" mask="url(#mk)"/>
<rect x="509" y="1262.8" width="3.0" height="12.2" fill="#b4181e" opacity="0.25" mask="url(#mk)"/>
<rect x="533" y="1057.0" width="4.0" height="7.4" fill="#b4181e" opacity="0.21" mask="url(#mk)"/>
<rect x="533" y="1064.4" width="4.0" height="8.5" fill="#b4181e" opacity="0.32" mask="url(#mk)"/>
<rect x="533" y="1072.9" width="4.0" height="16.8" fill="#b4181e" opacity="0.25" mask="url(#mk)"/>
<rect x="533" y="1089.7" width="4.0" height="16.6" fill="#b4181e" opacity="0.29" mask="url(#mk)"/>
<rect x="533" y="1106.3" width="4.0" height="13.1" fill="#b4181e" opacity="0.25" mask="url(#mk)"/>
<rect x="533" y="1119.3" width="4.0" height="18.1" fill="#b4181e" opacity="0.22" mask="url(#mk)"/>
<rect x="533" y="1137.4" width="4.0" height="12.9" fill="#b4181e" opacity="0.25" mask="url(#mk)"/>
<rect x="533" y="1150.3" width="4.0" height="16.9" fill="#b4181e" opacity="0.29" mask="url(#mk)"/>
<rect x="533" y="1167.1" width="4.0" height="16.7" fill="#b4181e" opacity="0.20" mask="url(#mk)"/>
<rect x="533" y="1183.8" width="4.0" height="12.3" fill="#b4181e" opacity="0.31" mask="url(#mk)"/>
<rect x="533" y="1196.1" width="4.0" height="6.1" fill="#b4181e" opacity="0.25" mask="url(#mk)"/>
<rect x="533" y="1202.3" width="4.0" height="9.4" fill="#b4181e" opacity="0.22" mask="url(#mk)"/>
<rect x="533" y="1211.6" width="4.0" height="10.1" fill="#b4181e" opacity="0.26" mask="url(#mk)"/>
<rect x="533" y="1221.7" width="4.0" height="6.1" fill="#b4181e" opacity="0.34" mask="url(#mk)"/>
<rect x="533" y="1227.9" width="4.0" height="8.8" fill="#b4181e" opacity="0.27" mask="url(#mk)"/>
<rect x="533" y="1236.7" width="4.0" height="17.3" fill="#b4181e" opacity="0.29" mask="url(#mk)"/>
<rect x="533" y="1253.9" width="4.0" height="21.1" fill="#b4181e" opacity="0.35" mask="url(#mk)"/>
<rect x="551" y="1057.0" width="9.0" height="7.2" fill="#3d48b8" opacity="0.54" mask="url(#mk)"/>
<rect x="551" y="1064.2" width="9.0" height="6.7" fill="#3d48b8" opacity="0.30" mask="url(#mk)"/>
<rect x="551" y="1070.8" width="9.0" height="20.7" fill="#3d48b8" opacity="0.54" mask="url(#mk)"/>
<rect x="551" y="1091.6" width="9.0" height="15.2" fill="#3d48b8" opacity="0.46" mask="url(#mk)"/>
<rect x="551" y="1106.8" width="9.0" height="17.4" fill="#3d48b8" opacity="0.41" mask="url(#mk)"/>
<rect x="551" y="1124.1" width="9.0" height="7.8" fill="#3d48b8" opacity="0.30" mask="url(#mk)"/>
<rect x="551" y="1132.0" width="9.0" height="11.2" fill="#3d48b8" opacity="0.53" mask="url(#mk)"/>
<rect x="551" y="1143.2" width="9.0" height="15.9" fill="#3d48b8" opacity="0.54" mask="url(#mk)"/>
<rect x="551" y="1159.1" width="9.0" height="20.7" fill="#3d48b8" opacity="0.32" mask="url(#mk)"/>
<rect x="551" y="1179.8" width="9.0" height="19.5" fill="#3d48b8" opacity="0.36" mask="url(#mk)"/>
<rect x="551" y="1199.3" width="9.0" height="15.4" fill="#3d48b8" opacity="0.45" mask="url(#mk)"/>
<rect x="551" y="1214.7" width="9.0" height="12.3" fill="#3d48b8" opacity="0.38" mask="url(#mk)"/>
<rect x="551" y="1227.0" width="9.0" height="11.4" fill="#3d48b8" opacity="0.39" mask="url(#mk)"/>
<rect x="551" y="1238.5" width="9.0" height="8.7" fill="#3d48b8" opacity="0.44" mask="url(#mk)"/>
<rect x="551" y="1247.2" width="9.0" height="7.8" fill="#3d48b8" opacity="0.44" mask="url(#mk)"/>
<rect x="551" y="1255.0" width="9.0" height="20.0" fill="#3d48b8" opacity="0.39" mask="url(#mk)"/>
<rect x="613" y="1057.0" width="13.0" height="17.6" fill="#3d48b8" opacity="0.26" mask="url(#mk)"/>
<rect x="613" y="1074.6" width="13.0" height="19.0" fill="#3d48b8" opacity="0.18" mask="url(#mk)"/>
<rect x="613" y="1093.7" width="13.0" height="8.3" fill="#3d48b8" opacity="0.17" mask="url(#mk)"/>
<rect x="613" y="1102.0" width="13.0" height="15.6" fill="#3d48b8" opacity="0.25" mask="url(#mk)"/>
<rect x="613" y="1117.7" width="13.0" height="16.5" fill="#3d48b8" opacity="0.17" mask="url(#mk)"/>
<rect x="613" y="1134.1" width="13.0" height="18.4" fill="#3d48b8" opacity="0.21" mask="url(#mk)"/>
<rect x="613" y="1152.5" width="13.0" height="18.1" fill="#3d48b8" opacity="0.25" mask="url(#mk)"/>
<rect x="613" y="1170.6" width="13.0" height="13.2" fill="#3d48b8" opacity="0.28" mask="url(#mk)"/>
<rect x="613" y="1183.8" width="13.0" height="15.0" fill="#3d48b8" opacity="0.23" mask="url(#mk)"/>
<rect x="613" y="1198.8" width="13.0" height="16.0" fill="#3d48b8" opacity="0.27" mask="url(#mk)"/>
<rect x="613" y="1214.8" width="13.0" height="16.0" fill="#3d48b8" opacity="0.16" mask="url(#mk)"/>
<rect x="613" y="1230.8" width="13.0" height="7.1" fill="#3d48b8" opacity="0.21" mask="url(#mk)"/>
<rect x="613" y="1237.9" width="13.0" height="10.8" fill="#3d48b8" opacity="0.18" mask="url(#mk)"/>
<rect x="613" y="1248.8" width="13.0" height="6.9" fill="#3d48b8" opacity="0.22" mask="url(#mk)"/>
<rect x="613" y="1255.7" width="13.0" height="11.0" fill="#3d48b8" opacity="0.21" mask="url(#mk)"/>
<rect x="613" y="1266.6" width="13.0" height="8.4" fill="#3d48b8" opacity="0.26" mask="url(#mk)"/>
<rect x="618" y="1057" width="18.0" height="6.0" fill="#b4181e" opacity="0.6" mask="url(#mk)"/>
<rect x="648.7" y="1057.0" width="12.7" height="7.2" fill="#3d48b8" opacity="0.61" mask="url(#mk)"/>
<rect x="648.7" y="1064.2" width="12.7" height="19.7" fill="#3d48b8" opacity="0.52" mask="url(#mk)"/>
<rect x="648.7" y="1083.9" width="12.7" height="14.1" fill="#3d48b8" opacity="0.48" mask="url(#mk)"/>
<rect x="648.7" y="1098.0" width="12.7" height="14.9" fill="#3d48b8" opacity="0.58" mask="url(#mk)"/>
<rect x="648.7" y="1112.9" width="12.7" height="20.3" fill="#3d48b8" opacity="0.47" mask="url(#mk)"/>
<rect x="648.7" y="1133.2" width="12.7" height="19.0" fill="#3d48b8" opacity="0.54" mask="url(#mk)"/>
<rect x="648.7" y="1152.2" width="12.7" height="11.1" fill="#3d48b8" opacity="0.48" mask="url(#mk)"/>
<rect x="648.7" y="1163.3" width="12.7" height="8.4" fill="#3d48b8" opacity="0.35" mask="url(#mk)"/>
<rect x="648.7" y="1171.7" width="12.7" height="7.7" fill="#3d48b8" opacity="0.62" mask="url(#mk)"/>
<rect x="648.7" y="1179.4" width="12.7" height="11.5" fill="#3d48b8" opacity="0.56" mask="url(#mk)"/>
<rect x="648.7" y="1190.9" width="12.7" height="14.1" fill="#3d48b8" opacity="0.38" mask="url(#mk)"/>
<rect x="648.7" y="1205.0" width="12.7" height="10.0" fill="#3d48b8" opacity="0.47" mask="url(#mk)"/>
<rect x="648.7" y="1214.9" width="12.7" height="13.0" fill="#3d48b8" opacity="0.49" mask="url(#mk)"/>
<rect x="648.7" y="1228.0" width="12.7" height="8.5" fill="#3d48b8" opacity="0.45" mask="url(#mk)"/>
<rect x="648.7" y="1236.5" width="12.7" height="10.5" fill="#3d48b8" opacity="0.46" mask="url(#mk)"/>
<rect x="648.7" y="1247.0" width="12.7" height="11.4" fill="#3d48b8" opacity="0.52" mask="url(#mk)"/>
<rect x="648.7" y="1258.4" width="12.7" height="16.6" fill="#3d48b8" opacity="0.54" mask="url(#mk)"/>
<rect x="665" y="1230.0" width="18.0" height="7.1" fill="#b4181e" opacity="0.09" mask="url(#mk)"/>
<rect x="665" y="1237.1" width="18.0" height="16.9" fill="#b4181e" opacity="0.10" mask="url(#mk)"/>
<rect x="665" y="1253.9" width="18.0" height="21.1" fill="#b4181e" opacity="0.13" mask="url(#mk)"/>
<rect x="702" y="1057.0" width="11.5" height="20.5" fill="#b4181e" opacity="0.73" mask="url(#mk)"/>
<rect x="702" y="1077.5" width="11.5" height="11.3" fill="#b4181e" opacity="0.62" mask="url(#mk)"/>
<rect x="702" y="1088.8" width="11.5" height="8.3" fill="#b4181e" opacity="0.53" mask="url(#mk)"/>
<rect x="702" y="1097.1" width="11.5" height="21.5" fill="#b4181e" opacity="0.66" mask="url(#mk)"/>
<rect x="702" y="1118.6" width="11.5" height="12.3" fill="#b4181e" opacity="0.62" mask="url(#mk)"/>
<rect x="702" y="1130.9" width="11.5" height="21.0" fill="#b4181e" opacity="0.51" mask="url(#mk)"/>
<rect x="702" y="1151.9" width="11.5" height="12.0" fill="#b4181e" opacity="0.70" mask="url(#mk)"/>
<rect x="702" y="1163.9" width="11.5" height="19.0" fill="#b4181e" opacity="0.65" mask="url(#mk)"/>
<rect x="702" y="1182.9" width="11.5" height="19.3" fill="#b4181e" opacity="0.68" mask="url(#mk)"/>
<rect x="702" y="1202.2" width="11.5" height="17.0" fill="#b4181e" opacity="0.60" mask="url(#mk)"/>
<rect x="702" y="1219.1" width="11.5" height="16.3" fill="#b4181e" opacity="0.56" mask="url(#mk)"/>
<rect x="702" y="1235.5" width="11.5" height="11.8" fill="#b4181e" opacity="0.53" mask="url(#mk)"/>
<rect x="702" y="1247.3" width="11.5" height="8.9" fill="#b4181e" opacity="0.47" mask="url(#mk)"/>
<rect x="702" y="1256.1" width="11.5" height="18.9" fill="#b4181e" opacity="0.58" mask="url(#mk)"/>
<rect x="702" y="1132" width="11.5" height="9.0" fill="#900b10" opacity="0.9" mask="url(#mk)"/>
<rect x="726" y="1127" width="15.0" height="15.0" fill="#b4181e" opacity="0.2" mask="url(#mk)"/>
<rect x="431" y="1127" width="6.0" height="13.0" fill="#3d48b8" opacity="0.5" mask="url(#mk)"/>
<rect x="755.3" y="1057.0" width="6.4" height="9.6" fill="#900b10" opacity="0.63" mask="url(#mk)"/>
<rect x="755.3" y="1066.6" width="6.4" height="7.2" fill="#900b10" opacity="1.00" mask="url(#mk)"/>
<rect x="755.3" y="1073.9" width="6.4" height="7.6" fill="#900b10" opacity="0.98" mask="url(#mk)"/>
<rect x="755.3" y="1081.5" width="6.4" height="19.4" fill="#900b10" opacity="1.00" mask="url(#mk)"/>
<rect x="755.3" y="1100.8" width="6.4" height="6.6" fill="#900b10" opacity="0.74" mask="url(#mk)"/>
<rect x="755.3" y="1107.4" width="6.4" height="18.3" fill="#900b10" opacity="0.62" mask="url(#mk)"/>
<rect x="755.3" y="1125.7" width="6.4" height="12.0" fill="#900b10" opacity="0.64" mask="url(#mk)"/>
<rect x="755.3" y="1137.7" width="6.4" height="19.3" fill="#900b10" opacity="0.98" mask="url(#mk)"/>
<rect x="755.3" y="1157.0" width="6.4" height="18.9" fill="#900b10" opacity="0.64" mask="url(#mk)"/>
<rect x="755.3" y="1176.0" width="6.4" height="13.0" fill="#900b10" opacity="0.78" mask="url(#mk)"/>
<rect x="755.3" y="1189.0" width="6.4" height="16.8" fill="#900b10" opacity="0.68" mask="url(#mk)"/>
<rect x="755.3" y="1205.8" width="6.4" height="13.1" fill="#900b10" opacity="0.71" mask="url(#mk)"/>
<rect x="755.3" y="1218.9" width="6.4" height="18.0" fill="#900b10" opacity="0.80" mask="url(#mk)"/>
<rect x="755.3" y="1236.9" width="6.4" height="14.5" fill="#900b10" opacity="0.72" mask="url(#mk)"/>
<rect x="755.3" y="1251.4" width="6.4" height="18.9" fill="#900b10" opacity="0.81" mask="url(#mk)"/>
<rect x="755.3" y="1270.4" width="6.4" height="4.6" fill="#900b10" opacity="0.76" mask="url(#mk)"/>
<rect x="210" y="1276" width="7.0" height="24.0" fill="#3d48b8" opacity="0.4" mask="url(#mk)"/>
<rect x="242" y="1276" width="8.0" height="24.0" fill="#3d48b8" opacity="0.4" mask="url(#mk)"/>
<rect x="308" y="1276" width="10.0" height="24.0" fill="#3d48b8" opacity="0.35" mask="url(#mk)"/>
<rect x="327" y="1276" width="9.0" height="24.0" fill="#3d48b8" opacity="0.35" mask="url(#mk)"/>
<rect x="391" y="1289.7" width="34.4" height="5.1" fill="#2a32a8" opacity="0.7"/>
<rect x="425.4" y="1276" width="40.1" height="8.0" fill="#b4181e" opacity="0.5" mask="url(#mk)"/>
<rect x="425.4" y="1284" width="40.1" height="16.8" fill="#900b10" opacity="0.85" mask="url(#mk)"/>
<rect x="501.5" y="1276" width="59.5" height="10.0" fill="#b4181e" opacity="0.55" mask="url(#mk)"/>
<rect x="501.5" y="1286" width="59.5" height="14.8" fill="#900b10" opacity="0.9" mask="url(#mk)"/>
<rect x="593" y="1276" width="15.0" height="24.0" fill="#3d48b8" opacity="0.45" mask="url(#mk)"/>
<rect x="628" y="1276" width="13.0" height="24.0" fill="#b4181e" opacity="0.3" mask="url(#mk)"/>
<rect x="688" y="1276" width="37.6" height="24.0" fill="#b4181e" opacity="0.6" mask="url(#mk)"/>
<rect x="745" y="1285" width="10.0" height="15.0" fill="#3d48b8" opacity="0.55" mask="url(#mk)"/>
<rect x="743.4" y="1289" width="27.2" height="3.0" fill="#2a32a8" opacity="0.6"/>
<rect x="88.7" y="1289" width="11.3" height="4.0" fill="#3d48b8" opacity="0.5"/>
</g>
<g filter="url(#soft)">
<rect x="242" y="944" width="10.0" height="11.0" fill="#3d48b8" opacity="0.35" mask="url(#mk)"/>
<rect x="309" y="944" width="8.0" height="16.0" fill="#3d48b8" opacity="0.3" mask="url(#mk)"/>
<rect x="645" y="960" width="13.0" height="10.0" fill="#3d48b8" opacity="0.35" mask="url(#mk)"/>
<rect x="91" y="962" width="16.0" height="6.0" fill="#b4181e" opacity="0.4" mask="url(#mk)"/>
<rect x="702" y="953" width="5.0" height="4.0" fill="#b4181e" opacity="0.5" mask="url(#mk)"/>
<rect x="754" y="953" width="5.0" height="4.0" fill="#b4181e" opacity="0.45" mask="url(#mk)"/>
<rect x="88" y="930.0" width="682.0" height="21.2" fill="#3d48b8" opacity="0.04" mask="url(#mk)"/>
<rect x="88" y="951.2" width="682.0" height="13.4" fill="#3d48b8" opacity="0.02" mask="url(#mk)"/>
<rect x="88" y="964.5" width="682.0" height="10.5" fill="#3d48b8" opacity="0.03" mask="url(#mk)"/>
</g>
<line x1="130" y1="818.6" x2="130" y2="975.7" stroke="#000" stroke-width="2.1"/>
<line x1="184" y1="818.6" x2="184" y2="975.7" stroke="#000" stroke-width="2.1"/>
<line x1="217" y1="818.6" x2="217" y2="975.7" stroke="#000" stroke-width="2.1"/>
<line x1="259" y1="818.6" x2="259" y2="975.7" stroke="#000" stroke-width="2.1"/>
<line x1="304.5" y1="818.6" x2="304.5" y2="975.7" stroke="#000" stroke-width="2.1"/>
<line x1="339" y1="818.6" x2="339" y2="975.7" stroke="#000" stroke-width="2.1"/>
<line x1="391" y1="818.6" x2="391" y2="975.7" stroke="#000" stroke-width="2.1"/>
<line x1="425.4" y1="818.6" x2="425.4" y2="975.7" stroke="#000" stroke-width="2.1"/>
<line x1="465.5" y1="818.6" x2="465.5" y2="975.7" stroke="#000" stroke-width="2.1"/>
<line x1="501.5" y1="818.6" x2="501.5" y2="975.7" stroke="#000" stroke-width="2.1"/>
<line x1="561" y1="818.6" x2="561" y2="975.7" stroke="#000" stroke-width="2.1"/>
<line x1="585.3" y1="818.6" x2="585.3" y2="975.7" stroke="#000" stroke-width="2.1"/>
<line x1="611.5" y1="818.6" x2="611.5" y2="975.7" stroke="#000" stroke-width="2.1"/>
<line x1="636.5" y1="818.6" x2="636.5" y2="975.7" stroke="#000" stroke-width="2.1"/>
<line x1="664" y1="818.6" x2="664" y2="975.7" stroke="#000" stroke-width="2.1"/>
<line x1="688" y1="818.6" x2="688" y2="975.7" stroke="#000" stroke-width="2.1"/>
<line x1="725.6" y1="818.6" x2="725.6" y2="975.7" stroke="#000" stroke-width="2.1"/>
<line x1="743.4" y1="818.6" x2="743.4" y2="975.7" stroke="#000" stroke-width="2.1"/>
<line x1="130" y1="981" x2="130" y2="1300.8" stroke="#000" stroke-width="2.1"/>
<line x1="184" y1="981" x2="184" y2="1300.8" stroke="#000" stroke-width="2.1"/>
<line x1="217" y1="981" x2="217" y2="1300.8" stroke="#000" stroke-width="2.1"/>
<line x1="259" y1="981" x2="259" y2="1300.8" stroke="#000" stroke-width="2.1"/>
<line x1="304.5" y1="981" x2="304.5" y2="1300.8" stroke="#000" stroke-width="2.1"/>
<line x1="339" y1="981" x2="339" y2="1300.8" stroke="#000" stroke-width="2.1"/>
<line x1="391" y1="981" x2="391" y2="1300.8" stroke="#000" stroke-width="2.1"/>
<line x1="425.4" y1="981" x2="425.4" y2="1300.8" stroke="#000" stroke-width="2.1"/>
<line x1="465.5" y1="981" x2="465.5" y2="1300.8" stroke="#000" stroke-width="2.1"/>
<line x1="501.5" y1="981" x2="501.5" y2="1300.8" stroke="#000" stroke-width="2.1"/>
<line x1="561" y1="981" x2="561" y2="1300.8" stroke="#000" stroke-width="2.1"/>
<line x1="585.3" y1="981" x2="585.3" y2="1300.8" stroke="#000" stroke-width="2.1"/>
<line x1="611.5" y1="981" x2="611.5" y2="1300.8" stroke="#000" stroke-width="2.1"/>
<line x1="636.5" y1="981" x2="636.5" y2="1300.8" stroke="#000" stroke-width="2.1"/>
<line x1="664" y1="981" x2="664" y2="1300.8" stroke="#000" stroke-width="2.1"/>
<line x1="688" y1="981" x2="688" y2="1300.8" stroke="#000" stroke-width="2.1"/>
<line x1="725.6" y1="981" x2="725.6" y2="1300.8" stroke="#000" stroke-width="2.1"/>
<line x1="743.4" y1="981" x2="743.4" y2="1300.8" stroke="#000" stroke-width="2.1"/>
<path d="M58,1057H774M58,1275H774M58,1057V1275M774,1057V1275" stroke="#1d1f78" stroke-width="2.6" stroke-dasharray="8 8.8" fill="none"/>
<path d="M58,1275H774M58,1303.4H774M58,1275V1303.4M774,1275V1303.4" stroke="#d8262b" stroke-width="2.6" stroke-dasharray="8 8.8" fill="none"/>
<text x="21" y="1163" font-size="23" fill="#111" stroke="#111" >C2</text>
<text x="21" y="1298" font-size="23" fill="#d3262c" stroke="#d3262c" >C1</text>
<text x="0" y="0" font-size="23" fill="#111" stroke="#111" text-anchor="middle" transform="translate(800.5,898) rotate(-90)">References</text>
<text x="0" y="0" font-size="23" fill="#111" stroke="#111" text-anchor="middle" transform="translate(800,1136.8) rotate(-90)">Observations</text>
<rect x="88.7" y="1443.9" width="36.8" height="8.1" fill="#3e3e3e" />
<rect x="125.5" y="1443.9" width="54.1" height="8.1" fill="#c2c2c2" />
<rect x="179.6" y="1443.9" width="32.2" height="8.1" fill="#3e3e3e" />
<rect x="211.8" y="1443.9" width="47.0" height="8.1" fill="#c2c2c2" />
<rect x="258.8" y="1443.9" width="50.2" height="8.1" fill="#3e3e3e" />
<rect x="309.0" y="1443.9" width="35.6" height="8.1" fill="#c2c2c2" />
<rect x="344.6" y="1443.9" width="49.4" height="8.1" fill="#3e3e3e" />
<rect x="394.0" y="1443.9" width="37.0" height="8.1" fill="#c2c2c2" />
<rect x="431.0" y="1443.9" width="37.5" height="8.1" fill="#3e3e3e" />
<rect x="468.5" y="1443.9" width="35.1" height="8.1" fill="#c2c2c2" />
<rect x="503.6" y="1443.9" width="58.8" height="8.1" fill="#3e3e3e" />
<rect x="562.4" y="1443.9" width="26.6" height="8.1" fill="#c2c2c2" />
<rect x="589.0" y="1443.9" width="25.5" height="8.1" fill="#3e3e3e" />
<rect x="614.5" y="1443.9" width="23.5" height="8.1" fill="#c2c2c2" />
<rect x="638.0" y="1443.9" width="29.0" height="8.1" fill="#3e3e3e" />
<rect x="667.0" y="1443.9" width="23.5" height="8.1" fill="#c2c2c2" />
<rect x="690.5" y="1443.9" width="37.5" height="8.1" fill="#3e3e3e" />
<rect x="728.0" y="1443.9" width="17.7" height="8.1" fill="#c2c2c2" />
<rect x="745.7" y="1443.9" width="25.3" height="8.1" fill="#3e3e3e" />
<text x="57.5" y="1435.5" font-size="23" fill="#111" stroke="#111" >Chr 1</text>
<text x="199.4" y="1435.5" font-size="23" fill="#111" stroke="#111" text-anchor="middle" >3</text>
<text x="280" y="1435.5" font-size="23" fill="#111" stroke="#111" text-anchor="middle" >5</text>
<text x="362" y="1435.5" font-size="23" fill="#111" stroke="#111" text-anchor="middle" >7</text>
<text x="442.4" y="1435.5" font-size="23" fill="#111" stroke="#111" text-anchor="middle" >9</text>
<text x="527" y="1435.5" font-size="23" fill="#111" stroke="#111" text-anchor="middle" >11</text>
<text x="596.7" y="1435.5" font-size="23" fill="#111" stroke="#111" text-anchor="middle" >13</text>
<text x="648" y="1435.5" font-size="23" fill="#111" stroke="#111" text-anchor="middle" >15</text>
<text x="703" y="1435.5" font-size="23" fill="#111" stroke="#111" text-anchor="middle" >17</text>
<text x="755" y="1435.5" font-size="23" fill="#111" stroke="#111" text-anchor="middle" >19</text>
<rect x="61.7" y="1459.0" width="20.7" height="156.0" fill="#84d1c6" />
<rect x="61.7" y="1620.6" width="20.7" height="318.4" fill="#ffe800" />
<rect x="88.7" y="1459" width="682.3" height="156" fill="#fcf9fa"/>
<rect x="88.7" y="1459" width="682.3" height="156" filter="url(#nzR)" opacity="0.05"/>
<rect x="88.7" y="1459" width="682.3" height="156" filter="url(#nzB)" opacity="0.04"/>
<line x1="365.0" y1="1476.6" x2="371.9" y2="1474.2" stroke="#962030" stroke-width="1.5" stroke-linecap="round" opacity="0.35"/>
<line x1="425.3" y1="1597.0" x2="431.9" y2="1594.8" stroke="#962030" stroke-width="1.5" stroke-linecap="round" opacity="0.30"/>
<line x1="723.4" y1="1589.1" x2="727.5" y2="1586.8" stroke="#962030" stroke-width="1.5" stroke-linecap="round" opacity="0.51"/>
<line x1="632.4" y1="1534.4" x2="640.7" y2="1532.3" stroke="#962030" stroke-width="1.5" stroke-linecap="round" opacity="0.27"/>
<line x1="450.5" y1="1584.2" x2="460.8" y2="1584.4" stroke="#962030" stroke-width="1.5" stroke-linecap="round" opacity="0.36"/>
<line x1="349.0" y1="1503.7" x2="356.7" y2="1501.7" stroke="#962030" stroke-width="1.5" stroke-linecap="round" opacity="0.46"/>
<line x1="441.1" y1="1603.7" x2="448.9" y2="1603.8" stroke="#962030" stroke-width="1.5" stroke-linecap="round" opacity="0.29"/>
<line x1="549.8" y1="1494.9" x2="554.8" y2="1493.9" stroke="#962030" stroke-width="1.5" stroke-linecap="round" opacity="0.57"/>
<line x1="102.2" y1="1590.8" x2="110.9" y2="1589.2" stroke="#962030" stroke-width="1.5" stroke-linecap="round" opacity="0.34"/>
<line x1="719.7" y1="1554.6" x2="725.3" y2="1555.4" stroke="#962030" stroke-width="1.5" stroke-linecap="round" opacity="0.40"/>
<line x1="395.0" y1="1540.7" x2="404.3" y2="1540.7" stroke="#962030" stroke-width="1.5" stroke-linecap="round" opacity="0.30"/>
<line x1="684.2" y1="1513.0" x2="690.6" y2="1511.8" stroke="#962030" stroke-width="1.5" stroke-linecap="round" opacity="0.32"/>
<line x1="433.7" y1="1560.4" x2="442.2" y2="1560.4" stroke="#962030" stroke-width="1.5" stroke-linecap="round" opacity="0.28"/>
<line x1="192.5" y1="1549.4" x2="201.9" y2="1547.3" stroke="#962030" stroke-width="1.5" stroke-linecap="round" opacity="0.55"/>
<line x1="588.0" y1="1467.9" x2="594.6" y2="1467.6" stroke="#962030" stroke-width="1.5" stroke-linecap="round" opacity="0.35"/>
<line x1="441.1" y1="1496.8" x2="445.8" y2="1495.6" stroke="#962030" stroke-width="1.5" stroke-linecap="round" opacity="0.58"/>
<line x1="698.1" y1="1498.5" x2="708.6" y2="1499.3" stroke="#962030" stroke-width="1.5" stroke-linecap="round" opacity="0.40"/>
<line x1="623.6" y1="1606.6" x2="627.7" y2="1606.0" stroke="#962030" stroke-width="1.5" stroke-linecap="round" opacity="0.38"/>
<line x1="416.7" y1="1600.2" x2="422.9" y2="1599.9" stroke="#962030" stroke-width="1.5" stroke-linecap="round" opacity="0.28"/>
<line x1="729.3" y1="1531.2" x2="734.0" y2="1530.2" stroke="#962030" stroke-width="1.5" stroke-linecap="round" opacity="0.58"/>
<line x1="482.4" y1="1541.8" x2="491.3" y2="1539.6" stroke="#962030" stroke-width="1.5" stroke-linecap="round" opacity="0.64"/>
<line x1="636.4" y1="1481.9" x2="641.7" y2="1480.9" stroke="#962030" stroke-width="1.5" stroke-linecap="round" opacity="0.67"/>
<line x1="357.6" y1="1538.3" x2="365.9" y2="1536.2" stroke="#962030" stroke-width="1.5" stroke-linecap="round" opacity="0.31"/>
<line x1="658.5" y1="1605.0" x2="665.7" y2="1605.2" stroke="#962030" stroke-width="1.5" stroke-linecap="round" opacity="0.27"/>
<line x1="169.9" y1="1581.8" x2="177.7" y2="1580.8" stroke="#962030" stroke-width="1.5" stroke-linecap="round" opacity="0.55"/>
<line x1="441.1" y1="1470.2" x2="450.8" y2="1470.4" stroke="#962030" stroke-width="1.5" stroke-linecap="round" opacity="0.45"/>
<line x1="204.7" y1="1604.0" x2="213.1" y2="1604.6" stroke="#962030" stroke-width="1.5" stroke-linecap="round" opacity="0.31"/>
<line x1="185.7" y1="1561.7" x2="190.9" y2="1562.2" stroke="#962030" stroke-width="1.5" stroke-linecap="round" opacity="0.62"/>
<line x1="118.6" y1="1522.4" x2="128.7" y2="1521.5" stroke="#962030" stroke-width="1.5" stroke-linecap="round" opacity="0.26"/>
<line x1="647.9" y1="1572.7" x2="653.4" y2="1571.7" stroke="#962030" stroke-width="1.5" stroke-linecap="round" opacity="0.61"/>
<line x1="522.5" y1="1583.2" x2="529.3" y2="1581.2" stroke="#962030" stroke-width="1.5" stroke-linecap="round" opacity="0.53"/>
<line x1="503.8" y1="1596.6" x2="513.2" y2="1595.3" stroke="#962030" stroke-width="1.5" stroke-linecap="round" opacity="0.65"/>
<line x1="674.9" y1="1538.6" x2="679.1" y2="1539.0" stroke="#962030" stroke-width="1.5" stroke-linecap="round" opacity="0.48"/>
<line x1="379.2" y1="1566.0" x2="387.8" y2="1566.7" stroke="#962030" stroke-width="1.5" stroke-linecap="round" opacity="0.27"/>
<line x1="152.4" y1="1529.4" x2="160.6" y2="1527.5" stroke="#962030" stroke-width="1.5" stroke-linecap="round" opacity="0.60"/>
<line x1="712.1" y1="1514.5" x2="718.3" y2="1513.3" stroke="#962030" stroke-width="1.5" stroke-linecap="round" opacity="0.30"/>
<line x1="424.7" y1="1507.8" x2="432.3" y2="1507.6" stroke="#962030" stroke-width="1.5" stroke-linecap="round" opacity="0.39"/>
<line x1="578.2" y1="1555.0" x2="585.8" y2="1553.1" stroke="#962030" stroke-width="1.5" stroke-linecap="round" opacity="0.34"/>
<line x1="156.7" y1="1567.0" x2="161.6" y2="1568.0" stroke="#962030" stroke-width="1.5" stroke-linecap="round" opacity="0.35"/>
<line x1="334.6" y1="1482.5" x2="341.3" y2="1481.4" stroke="#962030" stroke-width="1.5" stroke-linecap="round" opacity="0.59"/>
<line x1="688.4" y1="1518.9" x2="699.0" y2="1516.4" stroke="#962030" stroke-width="1.5" stroke-linecap="round" opacity="0.46"/>
<line x1="743.3" y1="1543.6" x2="753.4" y2="1541.4" stroke="#962030" stroke-width="1.5" stroke-linecap="round" opacity="0.56"/>
<line x1="546.3" y1="1487.0" x2="552.7" y2="1487.8" stroke="#962030" stroke-width="1.5" stroke-linecap="round" opacity="0.33"/>
<line x1="542.5" y1="1468.8" x2="552.7" y2="1467.0" stroke="#962030" stroke-width="1.5" stroke-linecap="round" opacity="0.47"/>
<line x1="678.0" y1="1483.3" x2="682.6" y2="1482.5" stroke="#962030" stroke-width="1.5" stroke-linecap="round" opacity="0.25"/>
<line x1="561.2" y1="1551.3" x2="565.6" y2="1550.6" stroke="#962030" stroke-width="1.5" stroke-linecap="round" opacity="0.41"/>
<line x1="331.7" y1="1518.7" x2="342.0" y2="1519.2" stroke="#962030" stroke-width="1.5" stroke-linecap="round" opacity="0.45"/>
<line x1="174.2" y1="1501.2" x2="180.5" y2="1499.7" stroke="#962030" stroke-width="1.5" stroke-linecap="round" opacity="0.49"/>
<rect x="88.7" y="1620.6" width="682.3" height="318.4000000000001" fill="#fbf8fa"/>
<rect x="88.7" y="1620.6" width="682.3" height="318.4000000000001" filter="url(#nzR)" opacity="0.075"/>
<rect x="88.7" y="1620.6" width="682.3" height="318.4000000000001" filter="url(#nzB)" opacity="0.08"/>
<g filter="url(#soft)">
<rect x="106" y="1621.0" width="15.6" height="21.5" fill="#3d48b8" opacity="0.71" mask="url(#mk)"/>
<rect x="106" y="1642.5" width="15.6" height="18.8" fill="#3d48b8" opacity="0.44" mask="url(#mk)"/>
<rect x="106" y="1661.3" width="15.6" height="10.0" fill="#3d48b8" opacity="0.64" mask="url(#mk)"/>
<rect x="106" y="1671.3" width="15.6" height="20.0" fill="#3d48b8" opacity="0.61" mask="url(#mk)"/>
<rect x="106" y="1691.3" width="15.6" height="7.6" fill="#3d48b8" opacity="0.72" mask="url(#mk)"/>
<rect x="106" y="1698.9" width="15.6" height="19.6" fill="#3d48b8" opacity="0.50" mask="url(#mk)"/>
<rect x="106" y="1718.5" width="15.6" height="18.2" fill="#3d48b8" opacity="0.50" mask="url(#mk)"/>
<rect x="106" y="1736.7" width="15.6" height="20.5" fill="#3d48b8" opacity="0.45" mask="url(#mk)"/>
<rect x="106" y="1757.2" width="15.6" height="13.0" fill="#3d48b8" opacity="0.76" mask="url(#mk)"/>
<rect x="106" y="1770.2" width="15.6" height="9.6" fill="#3d48b8" opacity="0.57" mask="url(#mk)"/>
<rect x="106" y="1779.8" width="15.6" height="11.6" fill="#3d48b8" opacity="0.40" mask="url(#mk)"/>
<rect x="106" y="1791.4" width="15.6" height="6.9" fill="#3d48b8" opacity="0.59" mask="url(#mk)"/>
<rect x="106" y="1798.2" width="15.6" height="9.8" fill="#3d48b8" opacity="0.78" mask="url(#mk)"/>
<rect x="106" y="1808.0" width="15.6" height="12.0" fill="#3d48b8" opacity="0.40" mask="url(#mk)"/>
<rect x="106" y="1820.0" width="15.6" height="20.9" fill="#3d48b8" opacity="0.72" mask="url(#mk)"/>
<rect x="106" y="1840.9" width="15.6" height="16.4" fill="#3d48b8" opacity="0.70" mask="url(#mk)"/>
<rect x="106" y="1857.3" width="15.6" height="8.2" fill="#3d48b8" opacity="0.50" mask="url(#mk)"/>
<rect x="106" y="1865.5" width="15.6" height="19.3" fill="#3d48b8" opacity="0.66" mask="url(#mk)"/>
<rect x="106" y="1884.8" width="15.6" height="8.2" fill="#3d48b8" opacity="0.67" mask="url(#mk)"/>
<rect x="106" y="1893.0" width="15.6" height="13.2" fill="#3d48b8" opacity="0.39" mask="url(#mk)"/>
<rect x="106" y="1906.2" width="15.6" height="7.3" fill="#3d48b8" opacity="0.49" mask="url(#mk)"/>
<rect x="106" y="1913.4" width="15.6" height="19.4" fill="#3d48b8" opacity="0.60" mask="url(#mk)"/>
<rect x="106" y="1932.8" width="15.6" height="6.2" fill="#3d48b8" opacity="0.60" mask="url(#mk)"/>
<rect x="88.7" y="1621.0" width="17.3" height="7.8" fill="#3d48b8" opacity="0.10" mask="url(#mk)"/>
<rect x="88.7" y="1628.8" width="17.3" height="10.8" fill="#3d48b8" opacity="0.08" mask="url(#mk)"/>
<rect x="88.7" y="1639.6" width="17.3" height="12.7" fill="#3d48b8" opacity="0.14" mask="url(#mk)"/>
<rect x="88.7" y="1652.3" width="17.3" height="13.3" fill="#3d48b8" opacity="0.09" mask="url(#mk)"/>
<rect x="88.7" y="1665.6" width="17.3" height="20.5" fill="#3d48b8" opacity="0.12" mask="url(#mk)"/>
<rect x="88.7" y="1686.1" width="17.3" height="6.3" fill="#3d48b8" opacity="0.12" mask="url(#mk)"/>
<rect x="88.7" y="1692.4" width="17.3" height="9.9" fill="#3d48b8" opacity="0.09" mask="url(#mk)"/>
<rect x="88.7" y="1702.2" width="17.3" height="12.9" fill="#3d48b8" opacity="0.13" mask="url(#mk)"/>
<rect x="88.7" y="1715.1" width="17.3" height="9.8" fill="#3d48b8" opacity="0.11" mask="url(#mk)"/>
<rect x="88.7" y="1725.0" width="17.3" height="16.6" fill="#3d48b8" opacity="0.08" mask="url(#mk)"/>
<rect x="88.7" y="1741.6" width="17.3" height="21.6" fill="#3d48b8" opacity="0.08" mask="url(#mk)"/>
<rect x="88.7" y="1763.2" width="17.3" height="14.4" fill="#3d48b8" opacity="0.12" mask="url(#mk)"/>
<rect x="88.7" y="1777.6" width="17.3" height="21.8" fill="#3d48b8" opacity="0.12" mask="url(#mk)"/>
<rect x="88.7" y="1799.4" width="17.3" height="12.2" fill="#3d48b8" opacity="0.11" mask="url(#mk)"/>
<rect x="88.7" y="1811.7" width="17.3" height="16.2" fill="#3d48b8" opacity="0.15" mask="url(#mk)"/>
<rect x="88.7" y="1827.8" width="17.3" height="10.1" fill="#3d48b8" opacity="0.08" mask="url(#mk)"/>
<rect x="88.7" y="1837.9" width="17.3" height="18.6" fill="#3d48b8" opacity="0.10" mask="url(#mk)"/>
<rect x="88.7" y="1856.5" width="17.3" height="17.7" fill="#3d48b8" opacity="0.13" mask="url(#mk)"/>
<rect x="88.7" y="1874.2" width="17.3" height="18.3" fill="#3d48b8" opacity="0.14" mask="url(#mk)"/>
<rect x="88.7" y="1892.6" width="17.3" height="11.3" fill="#3d48b8" opacity="0.08" mask="url(#mk)"/>
<rect x="88.7" y="1903.9" width="17.3" height="14.7" fill="#3d48b8" opacity="0.14" mask="url(#mk)"/>
<rect x="88.7" y="1918.6" width="17.3" height="8.8" fill="#3d48b8" opacity="0.14" mask="url(#mk)"/>
<rect x="88.7" y="1927.4" width="17.3" height="11.6" fill="#3d48b8" opacity="0.13" mask="url(#mk)"/>
<rect x="129" y="1621.0" width="5.0" height="16.1" fill="#b4181e" opacity="0.15" mask="url(#mk)"/>
<rect x="129" y="1637.1" width="5.0" height="7.0" fill="#b4181e" opacity="0.15" mask="url(#mk)"/>
<rect x="129" y="1644.1" width="5.0" height="13.3" fill="#b4181e" opacity="0.11" mask="url(#mk)"/>
<rect x="129" y="1657.4" width="5.0" height="6.7" fill="#b4181e" opacity="0.10" mask="url(#mk)"/>
<rect x="129" y="1664.1" width="5.0" height="6.7" fill="#b4181e" opacity="0.16" mask="url(#mk)"/>
<rect x="129" y="1670.8" width="5.0" height="14.2" fill="#b4181e" opacity="0.17" mask="url(#mk)"/>
<rect x="129" y="1685.1" width="5.0" height="14.7" fill="#b4181e" opacity="0.11" mask="url(#mk)"/>
<rect x="129" y="1699.7" width="5.0" height="18.1" fill="#b4181e" opacity="0.10" mask="url(#mk)"/>
<rect x="129" y="1717.8" width="5.0" height="11.7" fill="#b4181e" opacity="0.15" mask="url(#mk)"/>
<rect x="129" y="1729.5" width="5.0" height="19.9" fill="#b4181e" opacity="0.11" mask="url(#mk)"/>
<rect x="129" y="1749.4" width="5.0" height="8.0" fill="#b4181e" opacity="0.12" mask="url(#mk)"/>
<rect x="129" y="1757.4" width="5.0" height="20.2" fill="#b4181e" opacity="0.15" mask="url(#mk)"/>
<rect x="129" y="1777.6" width="5.0" height="20.3" fill="#b4181e" opacity="0.12" mask="url(#mk)"/>
<rect x="129" y="1797.9" width="5.0" height="21.6" fill="#b4181e" opacity="0.13" mask="url(#mk)"/>
<rect x="129" y="1819.5" width="5.0" height="14.0" fill="#b4181e" opacity="0.16" mask="url(#mk)"/>
<rect x="129" y="1833.4" width="5.0" height="14.3" fill="#b4181e" opacity="0.15" mask="url(#mk)"/>
<rect x="129" y="1847.7" width="5.0" height="17.6" fill="#b4181e" opacity="0.09" mask="url(#mk)"/>
<rect x="129" y="1865.4" width="5.0" height="15.6" fill="#b4181e" opacity="0.15" mask="url(#mk)"/>
<rect x="129" y="1881.0" width="5.0" height="14.7" fill="#b4181e" opacity="0.11" mask="url(#mk)"/>
<rect x="129" y="1895.7" width="5.0" height="7.3" fill="#b4181e" opacity="0.14" mask="url(#mk)"/>
<rect x="129" y="1903.0" width="5.0" height="10.9" fill="#b4181e" opacity="0.14" mask="url(#mk)"/>
<rect x="129" y="1913.9" width="5.0" height="12.8" fill="#b4181e" opacity="0.14" mask="url(#mk)"/>
<rect x="129" y="1926.8" width="5.0" height="12.2" fill="#b4181e" opacity="0.09" mask="url(#mk)"/>
<rect x="140" y="1621.0" width="6.0" height="19.9" fill="#b4181e" opacity="0.06" mask="url(#mk)"/>
<rect x="140" y="1640.9" width="6.0" height="22.0" fill="#b4181e" opacity="0.06" mask="url(#mk)"/>
<rect x="140" y="1662.9" width="6.0" height="21.7" fill="#b4181e" opacity="0.09" mask="url(#mk)"/>
<rect x="140" y="1684.6" width="6.0" height="7.2" fill="#b4181e" opacity="0.07" mask="url(#mk)"/>
<rect x="140" y="1691.8" width="6.0" height="11.8" fill="#b4181e" opacity="0.08" mask="url(#mk)"/>
<rect x="140" y="1703.6" width="6.0" height="16.9" fill="#b4181e" opacity="0.09" mask="url(#mk)"/>
<rect x="140" y="1720.5" width="6.0" height="8.3" fill="#b4181e" opacity="0.07" mask="url(#mk)"/>
<rect x="140" y="1728.7" width="6.0" height="18.5" fill="#b4181e" opacity="0.05" mask="url(#mk)"/>
<rect x="140" y="1747.2" width="6.0" height="7.1" fill="#b4181e" opacity="0.08" mask="url(#mk)"/>
<rect x="140" y="1754.3" width="6.0" height="11.9" fill="#b4181e" opacity="0.06" mask="url(#mk)"/>
<rect x="140" y="1766.2" width="6.0" height="15.1" fill="#b4181e" opacity="0.07" mask="url(#mk)"/>
<rect x="140" y="1781.3" width="6.0" height="16.9" fill="#b4181e" opacity="0.09" mask="url(#mk)"/>
<rect x="140" y="1798.1" width="6.0" height="12.0" fill="#b4181e" opacity="0.08" mask="url(#mk)"/>
<rect x="140" y="1810.1" width="6.0" height="15.2" fill="#b4181e" opacity="0.07" mask="url(#mk)"/>
<rect x="140" y="1825.3" width="6.0" height="12.4" fill="#b4181e" opacity="0.08" mask="url(#mk)"/>
<rect x="140" y="1837.6" width="6.0" height="10.0" fill="#b4181e" opacity="0.05" mask="url(#mk)"/>
<rect x="140" y="1847.6" width="6.0" height="17.8" fill="#b4181e" opacity="0.07" mask="url(#mk)"/>
<rect x="140" y="1865.4" width="6.0" height="12.2" fill="#b4181e" opacity="0.07" mask="url(#mk)"/>
<rect x="140" y="1877.6" width="6.0" height="10.2" fill="#b4181e" opacity="0.06" mask="url(#mk)"/>
<rect x="140" y="1887.8" width="6.0" height="13.1" fill="#b4181e" opacity="0.09" mask="url(#mk)"/>
<rect x="140" y="1900.9" width="6.0" height="10.6" fill="#b4181e" opacity="0.09" mask="url(#mk)"/>
<rect x="140" y="1911.5" width="6.0" height="13.9" fill="#b4181e" opacity="0.05" mask="url(#mk)"/>
<rect x="140" y="1925.3" width="6.0" height="13.7" fill="#b4181e" opacity="0.07" mask="url(#mk)"/>
<rect x="152" y="1621.0" width="10.0" height="20.4" fill="#b4181e" opacity="0.08" mask="url(#mk)"/>
<rect x="152" y="1641.4" width="10.0" height="7.4" fill="#b4181e" opacity="0.10" mask="url(#mk)"/>
<rect x="152" y="1648.8" width="10.0" height="19.5" fill="#b4181e" opacity="0.08" mask="url(#mk)"/>
<rect x="152" y="1668.3" width="10.0" height="11.6" fill="#b4181e" opacity="0.06" mask="url(#mk)"/>
<rect x="152" y="1679.9" width="10.0" height="14.7" fill="#b4181e" opacity="0.11" mask="url(#mk)"/>
<rect x="152" y="1694.5" width="10.0" height="19.6" fill="#b4181e" opacity="0.10" mask="url(#mk)"/>
<rect x="152" y="1714.2" width="10.0" height="20.8" fill="#b4181e" opacity="0.10" mask="url(#mk)"/>
<rect x="152" y="1735.0" width="10.0" height="18.7" fill="#b4181e" opacity="0.09" mask="url(#mk)"/>
<rect x="152" y="1753.7" width="10.0" height="7.9" fill="#b4181e" opacity="0.07" mask="url(#mk)"/>
<rect x="152" y="1761.6" width="10.0" height="8.2" fill="#b4181e" opacity="0.10" mask="url(#mk)"/>
<rect x="152" y="1769.9" width="10.0" height="6.4" fill="#b4181e" opacity="0.09" mask="url(#mk)"/>
<rect x="152" y="1776.3" width="10.0" height="11.9" fill="#b4181e" opacity="0.11" mask="url(#mk)"/>
<rect x="152" y="1788.2" width="10.0" height="14.8" fill="#b4181e" opacity="0.09" mask="url(#mk)"/>
<rect x="152" y="1803.0" width="10.0" height="7.4" fill="#b4181e" opacity="0.08" mask="url(#mk)"/>
<rect x="152" y="1810.4" width="10.0" height="22.0" fill="#b4181e" opacity="0.10" mask="url(#mk)"/>
<rect x="152" y="1832.4" width="10.0" height="14.4" fill="#b4181e" opacity="0.10" mask="url(#mk)"/>
<rect x="152" y="1846.8" width="10.0" height="19.2" fill="#b4181e" opacity="0.06" mask="url(#mk)"/>
<rect x="152" y="1866.0" width="10.0" height="21.6" fill="#b4181e" opacity="0.10" mask="url(#mk)"/>
<rect x="152" y="1887.5" width="10.0" height="13.2" fill="#b4181e" opacity="0.10" mask="url(#mk)"/>
<rect x="152" y="1900.7" width="10.0" height="11.5" fill="#b4181e" opacity="0.11" mask="url(#mk)"/>
<rect x="152" y="1912.2" width="10.0" height="18.5" fill="#b4181e" opacity="0.10" mask="url(#mk)"/>
<rect x="152" y="1930.7" width="10.0" height="8.3" fill="#b4181e" opacity="0.12" mask="url(#mk)"/>
<rect x="139" y="1640" width="24.0" height="30.0" fill="#b4181e" opacity="0.1" mask="url(#mk)"/>
<rect x="192" y="1621.0" width="6.0" height="12.9" fill="#3d48b8" opacity="0.56" mask="url(#mk)"/>
<rect x="192" y="1633.9" width="6.0" height="6.9" fill="#3d48b8" opacity="0.33" mask="url(#mk)"/>
<rect x="192" y="1640.8" width="6.0" height="8.4" fill="#3d48b8" opacity="0.34" mask="url(#mk)"/>
<rect x="192" y="1649.3" width="6.0" height="11.2" fill="#3d48b8" opacity="0.50" mask="url(#mk)"/>
<rect x="192" y="1660.4" width="6.0" height="11.5" fill="#3d48b8" opacity="0.57" mask="url(#mk)"/>
<rect x="192" y="1672.0" width="6.0" height="20.3" fill="#3d48b8" opacity="0.54" mask="url(#mk)"/>
<rect x="192" y="1692.3" width="6.0" height="10.0" fill="#3d48b8" opacity="0.48" mask="url(#mk)"/>
<rect x="192" y="1702.3" width="6.0" height="14.8" fill="#3d48b8" opacity="0.33" mask="url(#mk)"/>
<rect x="192" y="1717.1" width="6.0" height="10.8" fill="#3d48b8" opacity="0.45" mask="url(#mk)"/>
<rect x="192" y="1727.9" width="6.0" height="14.0" fill="#3d48b8" opacity="0.34" mask="url(#mk)"/>
<rect x="192" y="1742.0" width="6.0" height="21.1" fill="#3d48b8" opacity="0.34" mask="url(#mk)"/>
<rect x="192" y="1763.0" width="6.0" height="16.5" fill="#3d48b8" opacity="0.50" mask="url(#mk)"/>
<rect x="192" y="1779.6" width="6.0" height="15.7" fill="#3d48b8" opacity="0.54" mask="url(#mk)"/>
<rect x="192" y="1795.3" width="6.0" height="15.0" fill="#3d48b8" opacity="0.53" mask="url(#mk)"/>
<rect x="192" y="1810.3" width="6.0" height="6.5" fill="#3d48b8" opacity="0.31" mask="url(#mk)"/>
<rect x="192" y="1816.7" width="6.0" height="16.3" fill="#3d48b8" opacity="0.46" mask="url(#mk)"/>
<rect x="192" y="1833.0" width="6.0" height="16.4" fill="#3d48b8" opacity="0.52" mask="url(#mk)"/>
<rect x="192" y="1849.4" width="6.0" height="12.7" fill="#3d48b8" opacity="0.48" mask="url(#mk)"/>
<rect x="192" y="1862.1" width="6.0" height="14.0" fill="#3d48b8" opacity="0.48" mask="url(#mk)"/>
<rect x="192" y="1876.1" width="6.0" height="10.6" fill="#3d48b8" opacity="0.57" mask="url(#mk)"/>
<rect x="192" y="1886.7" width="6.0" height="13.7" fill="#3d48b8" opacity="0.53" mask="url(#mk)"/>
<rect x="192" y="1900.4" width="6.0" height="17.0" fill="#3d48b8" opacity="0.38" mask="url(#mk)"/>
<rect x="192" y="1917.4" width="6.0" height="7.2" fill="#3d48b8" opacity="0.31" mask="url(#mk)"/>
<rect x="192" y="1924.5" width="6.0" height="14.5" fill="#3d48b8" opacity="0.43" mask="url(#mk)"/>
<rect x="246" y="1621.0" width="3.5" height="9.3" fill="#3d48b8" opacity="0.42" mask="url(#mk)"/>
<rect x="246" y="1630.3" width="3.5" height="11.0" fill="#3d48b8" opacity="0.45" mask="url(#mk)"/>
<rect x="246" y="1641.3" width="3.5" height="17.7" fill="#3d48b8" opacity="0.48" mask="url(#mk)"/>
<rect x="246" y="1659.0" width="3.5" height="21.0" fill="#3d48b8" opacity="0.29" mask="url(#mk)"/>
<rect x="216" y="1691.0" width="13.0" height="11.9" fill="#900b10" opacity="0.81" mask="url(#mk)"/>
<rect x="216" y="1702.9" width="13.0" height="11.1" fill="#900b10" opacity="0.76" mask="url(#mk)"/>
<rect x="216" y="1714.0" width="13.0" height="10.3" fill="#900b10" opacity="0.65" mask="url(#mk)"/>
<rect x="216" y="1724.3" width="13.0" height="7.5" fill="#900b10" opacity="0.67" mask="url(#mk)"/>
<rect x="216" y="1731.9" width="13.0" height="12.1" fill="#900b10" opacity="0.84" mask="url(#mk)"/>
<rect x="216" y="1744.0" width="13.0" height="10.0" fill="#900b10" opacity="0.97" mask="url(#mk)"/>
<rect x="216" y="1754.0" width="13.0" height="8.6" fill="#900b10" opacity="0.69" mask="url(#mk)"/>
<rect x="216" y="1762.5" width="13.0" height="15.2" fill="#900b10" opacity="0.68" mask="url(#mk)"/>
<rect x="216" y="1777.8" width="13.0" height="18.2" fill="#900b10" opacity="0.78" mask="url(#mk)"/>
<rect x="216" y="1796.0" width="13.0" height="14.2" fill="#900b10" opacity="0.78" mask="url(#mk)"/>
<rect x="216" y="1810.2" width="13.0" height="10.9" fill="#900b10" opacity="0.53" mask="url(#mk)"/>
<rect x="216" y="1821.2" width="13.0" height="21.1" fill="#900b10" opacity="0.78" mask="url(#mk)"/>
<rect x="216" y="1842.3" width="13.0" height="21.5" fill="#900b10" opacity="0.63" mask="url(#mk)"/>
<rect x="216" y="1863.8" width="13.0" height="11.6" fill="#900b10" opacity="0.55" mask="url(#mk)"/>
<rect x="216" y="1875.4" width="13.0" height="13.9" fill="#900b10" opacity="0.98" mask="url(#mk)"/>
<rect x="216" y="1889.3" width="13.0" height="16.5" fill="#900b10" opacity="0.76" mask="url(#mk)"/>
<rect x="216" y="1905.8" width="13.0" height="14.6" fill="#900b10" opacity="0.96" mask="url(#mk)"/>
<rect x="216" y="1920.4" width="13.0" height="12.9" fill="#900b10" opacity="0.98" mask="url(#mk)"/>
<rect x="216" y="1933.3" width="13.0" height="5.7" fill="#900b10" opacity="0.92" mask="url(#mk)"/>
<rect x="233" y="1691.0" width="12.0" height="11.9" fill="#900b10" opacity="0.73" mask="url(#mk)"/>
<rect x="233" y="1702.9" width="12.0" height="15.1" fill="#900b10" opacity="0.62" mask="url(#mk)"/>
<rect x="233" y="1718.0" width="12.0" height="14.9" fill="#900b10" opacity="0.56" mask="url(#mk)"/>
<rect x="233" y="1732.8" width="12.0" height="14.1" fill="#900b10" opacity="0.92" mask="url(#mk)"/>
<rect x="233" y="1746.9" width="12.0" height="10.5" fill="#900b10" opacity="1.00" mask="url(#mk)"/>
<rect x="233" y="1757.4" width="12.0" height="16.9" fill="#900b10" opacity="0.58" mask="url(#mk)"/>
<rect x="233" y="1774.3" width="12.0" height="21.6" fill="#900b10" opacity="0.72" mask="url(#mk)"/>
<rect x="233" y="1795.9" width="12.0" height="18.7" fill="#900b10" opacity="0.70" mask="url(#mk)"/>
<rect x="233" y="1814.6" width="12.0" height="21.0" fill="#900b10" opacity="0.91" mask="url(#mk)"/>
<rect x="233" y="1835.6" width="12.0" height="9.2" fill="#900b10" opacity="0.78" mask="url(#mk)"/>
<rect x="233" y="1844.8" width="12.0" height="14.0" fill="#900b10" opacity="0.54" mask="url(#mk)"/>
<rect x="233" y="1858.8" width="12.0" height="8.2" fill="#900b10" opacity="0.69" mask="url(#mk)"/>
<rect x="233" y="1867.0" width="12.0" height="13.6" fill="#900b10" opacity="0.76" mask="url(#mk)"/>
<rect x="233" y="1880.6" width="12.0" height="15.7" fill="#900b10" opacity="0.79" mask="url(#mk)"/>
<rect x="233" y="1896.3" width="12.0" height="11.2" fill="#900b10" opacity="0.84" mask="url(#mk)"/>
<rect x="233" y="1907.5" width="12.0" height="8.6" fill="#900b10" opacity="1.00" mask="url(#mk)"/>
<rect x="233" y="1916.1" width="12.0" height="17.8" fill="#900b10" opacity="0.68" mask="url(#mk)"/>
<rect x="233" y="1933.9" width="12.0" height="5.1" fill="#900b10" opacity="0.95" mask="url(#mk)"/>
<rect x="229" y="1691.0" width="4.0" height="14.5" fill="#b4181e" opacity="0.50" mask="url(#mk)"/>
<rect x="229" y="1705.5" width="4.0" height="10.8" fill="#b4181e" opacity="0.53" mask="url(#mk)"/>
<rect x="229" y="1716.3" width="4.0" height="11.9" fill="#b4181e" opacity="0.49" mask="url(#mk)"/>
<rect x="229" y="1728.2" width="4.0" height="21.7" fill="#b4181e" opacity="0.46" mask="url(#mk)"/>
<rect x="229" y="1749.9" width="4.0" height="18.7" fill="#b4181e" opacity="0.50" mask="url(#mk)"/>
<rect x="229" y="1768.6" width="4.0" height="17.0" fill="#b4181e" opacity="0.30" mask="url(#mk)"/>
<rect x="229" y="1785.6" width="4.0" height="13.6" fill="#b4181e" opacity="0.58" mask="url(#mk)"/>
<rect x="229" y="1799.2" width="4.0" height="18.5" fill="#b4181e" opacity="0.52" mask="url(#mk)"/>
<rect x="229" y="1817.8" width="4.0" height="15.2" fill="#b4181e" opacity="0.50" mask="url(#mk)"/>
<rect x="229" y="1833.0" width="4.0" height="15.3" fill="#b4181e" opacity="0.34" mask="url(#mk)"/>
<rect x="229" y="1848.3" width="4.0" height="16.1" fill="#b4181e" opacity="0.47" mask="url(#mk)"/>
<rect x="229" y="1864.4" width="4.0" height="19.5" fill="#b4181e" opacity="0.34" mask="url(#mk)"/>
<rect x="229" y="1883.9" width="4.0" height="16.9" fill="#b4181e" opacity="0.30" mask="url(#mk)"/>
<rect x="229" y="1900.8" width="4.0" height="21.2" fill="#b4181e" opacity="0.32" mask="url(#mk)"/>
<rect x="229" y="1921.9" width="4.0" height="6.3" fill="#b4181e" opacity="0.38" mask="url(#mk)"/>
<rect x="229" y="1928.2" width="4.0" height="10.8" fill="#b4181e" opacity="0.49" mask="url(#mk)"/>
<rect x="245" y="1691.0" width="4.0" height="12.6" fill="#b4181e" opacity="0.46" mask="url(#mk)"/>
<rect x="245" y="1703.6" width="4.0" height="20.7" fill="#b4181e" opacity="0.49" mask="url(#mk)"/>
<rect x="245" y="1724.3" width="4.0" height="17.8" fill="#b4181e" opacity="0.28" mask="url(#mk)"/>
<rect x="245" y="1742.1" width="4.0" height="8.2" fill="#b4181e" opacity="0.31" mask="url(#mk)"/>
<rect x="245" y="1750.3" width="4.0" height="11.2" fill="#b4181e" opacity="0.43" mask="url(#mk)"/>
<rect x="245" y="1761.5" width="4.0" height="14.4" fill="#b4181e" opacity="0.34" mask="url(#mk)"/>
<rect x="245" y="1775.9" width="4.0" height="8.8" fill="#b4181e" opacity="0.50" mask="url(#mk)"/>
<rect x="245" y="1784.7" width="4.0" height="11.5" fill="#b4181e" opacity="0.35" mask="url(#mk)"/>
<rect x="245" y="1796.1" width="4.0" height="18.4" fill="#b4181e" opacity="0.45" mask="url(#mk)"/>
<rect x="245" y="1814.5" width="4.0" height="16.3" fill="#b4181e" opacity="0.44" mask="url(#mk)"/>
<rect x="245" y="1830.8" width="4.0" height="15.8" fill="#b4181e" opacity="0.31" mask="url(#mk)"/>
<rect x="245" y="1846.5" width="4.0" height="9.9" fill="#b4181e" opacity="0.41" mask="url(#mk)"/>
<rect x="245" y="1856.5" width="4.0" height="9.6" fill="#b4181e" opacity="0.51" mask="url(#mk)"/>
<rect x="245" y="1866.1" width="4.0" height="10.8" fill="#b4181e" opacity="0.34" mask="url(#mk)"/>
<rect x="245" y="1876.8" width="4.0" height="9.3" fill="#b4181e" opacity="0.44" mask="url(#mk)"/>
<rect x="245" y="1886.2" width="4.0" height="11.1" fill="#b4181e" opacity="0.35" mask="url(#mk)"/>
<rect x="245" y="1897.2" width="4.0" height="20.9" fill="#b4181e" opacity="0.47" mask="url(#mk)"/>
<rect x="245" y="1918.2" width="4.0" height="10.4" fill="#b4181e" opacity="0.29" mask="url(#mk)"/>
<rect x="245" y="1928.5" width="4.0" height="10.5" fill="#b4181e" opacity="0.36" mask="url(#mk)"/>
<rect x="249" y="1691.0" width="8.5" height="21.7" fill="#900b10" opacity="0.71" mask="url(#mk)"/>
<rect x="249" y="1712.7" width="8.5" height="21.3" fill="#900b10" opacity="0.70" mask="url(#mk)"/>
<rect x="249" y="1734.0" width="8.5" height="10.6" fill="#900b10" opacity="0.50" mask="url(#mk)"/>
<rect x="249" y="1744.6" width="8.5" height="17.4" fill="#900b10" opacity="0.53" mask="url(#mk)"/>
<rect x="249" y="1762.0" width="8.5" height="13.1" fill="#900b10" opacity="0.49" mask="url(#mk)"/>
<rect x="249" y="1775.1" width="8.5" height="13.7" fill="#900b10" opacity="0.47" mask="url(#mk)"/>
<rect x="249" y="1788.8" width="8.5" height="14.6" fill="#900b10" opacity="0.75" mask="url(#mk)"/>
<rect x="249" y="1803.4" width="8.5" height="17.1" fill="#900b10" opacity="0.44" mask="url(#mk)"/>
<rect x="249" y="1820.5" width="8.5" height="15.9" fill="#900b10" opacity="0.62" mask="url(#mk)"/>
<rect x="249" y="1836.4" width="8.5" height="9.9" fill="#900b10" opacity="0.65" mask="url(#mk)"/>
<rect x="249" y="1846.3" width="8.5" height="14.5" fill="#900b10" opacity="0.64" mask="url(#mk)"/>
<rect x="249" y="1860.8" width="8.5" height="6.8" fill="#900b10" opacity="0.55" mask="url(#mk)"/>
<rect x="249" y="1867.6" width="8.5" height="17.5" fill="#900b10" opacity="0.43" mask="url(#mk)"/>
<rect x="249" y="1885.1" width="8.5" height="18.3" fill="#900b10" opacity="0.39" mask="url(#mk)"/>
<rect x="249" y="1903.4" width="8.5" height="14.8" fill="#900b10" opacity="0.75" mask="url(#mk)"/>
<rect x="249" y="1918.2" width="8.5" height="12.5" fill="#900b10" opacity="0.75" mask="url(#mk)"/>
<rect x="249" y="1930.7" width="8.5" height="8.3" fill="#900b10" opacity="0.58" mask="url(#mk)"/>
<rect x="212" y="1691.0" width="4.0" height="9.2" fill="#b4181e" opacity="0.51" mask="url(#mk)"/>
<rect x="212" y="1700.2" width="4.0" height="11.1" fill="#b4181e" opacity="0.43" mask="url(#mk)"/>
<rect x="212" y="1711.3" width="4.0" height="20.5" fill="#b4181e" opacity="0.28" mask="url(#mk)"/>
<rect x="212" y="1731.9" width="4.0" height="15.2" fill="#b4181e" opacity="0.40" mask="url(#mk)"/>
<rect x="212" y="1747.0" width="4.0" height="17.6" fill="#b4181e" opacity="0.50" mask="url(#mk)"/>
<rect x="212" y="1764.6" width="4.0" height="20.6" fill="#b4181e" opacity="0.31" mask="url(#mk)"/>
<rect x="212" y="1785.2" width="4.0" height="20.1" fill="#b4181e" opacity="0.31" mask="url(#mk)"/>
<rect x="212" y="1805.3" width="4.0" height="20.7" fill="#b4181e" opacity="0.52" mask="url(#mk)"/>
<rect x="212" y="1826.1" width="4.0" height="12.4" fill="#b4181e" opacity="0.39" mask="url(#mk)"/>
<rect x="212" y="1838.4" width="4.0" height="21.0" fill="#b4181e" opacity="0.51" mask="url(#mk)"/>
<rect x="212" y="1859.4" width="4.0" height="20.8" fill="#b4181e" opacity="0.49" mask="url(#mk)"/>
<rect x="212" y="1880.2" width="4.0" height="6.1" fill="#b4181e" opacity="0.41" mask="url(#mk)"/>
<rect x="212" y="1886.4" width="4.0" height="7.7" fill="#b4181e" opacity="0.52" mask="url(#mk)"/>
<rect x="212" y="1894.1" width="4.0" height="10.6" fill="#b4181e" opacity="0.52" mask="url(#mk)"/>
<rect x="212" y="1904.6" width="4.0" height="14.7" fill="#b4181e" opacity="0.39" mask="url(#mk)"/>
<rect x="212" y="1919.3" width="4.0" height="19.7" fill="#b4181e" opacity="0.48" mask="url(#mk)"/>
<rect x="261" y="1621.0" width="22.0" height="13.5" fill="#b4181e" opacity="0.31" mask="url(#mk)"/>
<rect x="261" y="1634.5" width="22.0" height="7.8" fill="#b4181e" opacity="0.30" mask="url(#mk)"/>
<rect x="261" y="1642.3" width="22.0" height="13.3" fill="#b4181e" opacity="0.33" mask="url(#mk)"/>
<rect x="261" y="1655.6" width="22.0" height="9.0" fill="#b4181e" opacity="0.45" mask="url(#mk)"/>
<rect x="261" y="1664.6" width="22.0" height="15.4" fill="#b4181e" opacity="0.41" mask="url(#mk)"/>
<rect x="283" y="1621.0" width="25.0" height="18.1" fill="#b4181e" opacity="0.53" mask="url(#mk)"/>
<rect x="283" y="1639.1" width="25.0" height="19.7" fill="#b4181e" opacity="0.86" mask="url(#mk)"/>
<rect x="283" y="1658.8" width="25.0" height="21.2" fill="#b4181e" opacity="0.69" mask="url(#mk)"/>
<rect x="261" y="1691.0" width="47.0" height="7.4" fill="#b4181e" opacity="0.54" mask="url(#mk)"/>
<rect x="261" y="1698.4" width="47.0" height="9.0" fill="#b4181e" opacity="0.37" mask="url(#mk)"/>
<rect x="261" y="1707.3" width="47.0" height="11.2" fill="#b4181e" opacity="0.41" mask="url(#mk)"/>
<rect x="261" y="1718.5" width="47.0" height="10.2" fill="#b4181e" opacity="0.40" mask="url(#mk)"/>
<rect x="261" y="1728.7" width="47.0" height="18.1" fill="#b4181e" opacity="0.64" mask="url(#mk)"/>
<rect x="261" y="1746.8" width="47.0" height="10.8" fill="#b4181e" opacity="0.56" mask="url(#mk)"/>
<rect x="261" y="1757.6" width="47.0" height="6.2" fill="#b4181e" opacity="0.54" mask="url(#mk)"/>
<rect x="261" y="1763.8" width="47.0" height="17.1" fill="#b4181e" opacity="0.35" mask="url(#mk)"/>
<rect x="261" y="1780.9" width="47.0" height="7.9" fill="#b4181e" opacity="0.42" mask="url(#mk)"/>
<rect x="261" y="1788.7" width="47.0" height="12.5" fill="#b4181e" opacity="0.49" mask="url(#mk)"/>
<rect x="261" y="1801.2" width="47.0" height="20.3" fill="#b4181e" opacity="0.55" mask="url(#mk)"/>
<rect x="261" y="1821.6" width="47.0" height="11.0" fill="#b4181e" opacity="0.36" mask="url(#mk)"/>
<rect x="261" y="1832.5" width="47.0" height="20.7" fill="#b4181e" opacity="0.42" mask="url(#mk)"/>
<rect x="261" y="1853.2" width="47.0" height="15.8" fill="#b4181e" opacity="0.40" mask="url(#mk)"/>
<rect x="261" y="1869.0" width="47.0" height="8.1" fill="#b4181e" opacity="0.37" mask="url(#mk)"/>
<rect x="261" y="1877.2" width="47.0" height="18.0" fill="#b4181e" opacity="0.52" mask="url(#mk)"/>
<rect x="261" y="1895.1" width="47.0" height="12.7" fill="#b4181e" opacity="0.50" mask="url(#mk)"/>
<rect x="261" y="1907.8" width="47.0" height="13.5" fill="#b4181e" opacity="0.50" mask="url(#mk)"/>
<rect x="261" y="1921.3" width="47.0" height="17.7" fill="#b4181e" opacity="0.40" mask="url(#mk)"/>
<rect x="264" y="1691.0" width="5.0" height="10.0" fill="#b4181e" opacity="0.40" mask="url(#mk)"/>
<rect x="264" y="1701.0" width="5.0" height="20.0" fill="#b4181e" opacity="0.25" mask="url(#mk)"/>
<rect x="264" y="1720.9" width="5.0" height="13.1" fill="#b4181e" opacity="0.39" mask="url(#mk)"/>
<rect x="264" y="1734.1" width="5.0" height="7.2" fill="#b4181e" opacity="0.36" mask="url(#mk)"/>
<rect x="264" y="1741.3" width="5.0" height="7.0" fill="#b4181e" opacity="0.35" mask="url(#mk)"/>
<rect x="264" y="1748.3" width="5.0" height="14.1" fill="#b4181e" opacity="0.36" mask="url(#mk)"/>
<rect x="264" y="1762.4" width="5.0" height="8.4" fill="#b4181e" opacity="0.30" mask="url(#mk)"/>
<rect x="264" y="1770.8" width="5.0" height="14.3" fill="#b4181e" opacity="0.25" mask="url(#mk)"/>
<rect x="264" y="1785.1" width="5.0" height="9.3" fill="#b4181e" opacity="0.36" mask="url(#mk)"/>
<rect x="264" y="1794.4" width="5.0" height="7.5" fill="#b4181e" opacity="0.34" mask="url(#mk)"/>
<rect x="264" y="1801.9" width="5.0" height="18.9" fill="#b4181e" opacity="0.33" mask="url(#mk)"/>
<rect x="264" y="1820.8" width="5.0" height="14.2" fill="#b4181e" opacity="0.33" mask="url(#mk)"/>
<rect x="264" y="1835.0" width="5.0" height="6.9" fill="#b4181e" opacity="0.33" mask="url(#mk)"/>
<rect x="264" y="1841.9" width="5.0" height="18.9" fill="#b4181e" opacity="0.39" mask="url(#mk)"/>
<rect x="264" y="1860.9" width="5.0" height="12.3" fill="#b4181e" opacity="0.41" mask="url(#mk)"/>
<rect x="264" y="1873.2" width="5.0" height="17.9" fill="#b4181e" opacity="0.36" mask="url(#mk)"/>
<rect x="264" y="1891.1" width="5.0" height="6.7" fill="#b4181e" opacity="0.31" mask="url(#mk)"/>
<rect x="264" y="1897.8" width="5.0" height="7.0" fill="#b4181e" opacity="0.45" mask="url(#mk)"/>
<rect x="264" y="1904.9" width="5.0" height="21.0" fill="#b4181e" opacity="0.24" mask="url(#mk)"/>
<rect x="264" y="1925.8" width="5.0" height="13.2" fill="#b4181e" opacity="0.23" mask="url(#mk)"/>
<rect x="277" y="1691.0" width="7.0" height="12.5" fill="#900b10" opacity="0.46" mask="url(#mk)"/>
<rect x="277" y="1703.5" width="7.0" height="18.3" fill="#900b10" opacity="0.51" mask="url(#mk)"/>
<rect x="277" y="1721.8" width="7.0" height="16.3" fill="#900b10" opacity="0.37" mask="url(#mk)"/>
<rect x="277" y="1738.1" width="7.0" height="21.9" fill="#900b10" opacity="0.36" mask="url(#mk)"/>
<rect x="277" y="1760.0" width="7.0" height="19.9" fill="#900b10" opacity="0.50" mask="url(#mk)"/>
<rect x="277" y="1779.9" width="7.0" height="12.0" fill="#900b10" opacity="0.44" mask="url(#mk)"/>
<rect x="277" y="1791.9" width="7.0" height="16.6" fill="#900b10" opacity="0.40" mask="url(#mk)"/>
<rect x="277" y="1808.5" width="7.0" height="16.5" fill="#900b10" opacity="0.35" mask="url(#mk)"/>
<rect x="277" y="1825.0" width="7.0" height="8.9" fill="#900b10" opacity="0.40" mask="url(#mk)"/>
<rect x="277" y="1833.8" width="7.0" height="14.5" fill="#900b10" opacity="0.45" mask="url(#mk)"/>
<rect x="277" y="1848.3" width="7.0" height="9.6" fill="#900b10" opacity="0.26" mask="url(#mk)"/>
<rect x="277" y="1857.9" width="7.0" height="6.4" fill="#900b10" opacity="0.34" mask="url(#mk)"/>
<rect x="277" y="1864.2" width="7.0" height="16.8" fill="#900b10" opacity="0.40" mask="url(#mk)"/>
<rect x="277" y="1881.0" width="7.0" height="14.5" fill="#900b10" opacity="0.47" mask="url(#mk)"/>
<rect x="277" y="1895.5" width="7.0" height="10.0" fill="#900b10" opacity="0.35" mask="url(#mk)"/>
<rect x="277" y="1905.5" width="7.0" height="10.4" fill="#900b10" opacity="0.50" mask="url(#mk)"/>
<rect x="277" y="1915.9" width="7.0" height="17.6" fill="#900b10" opacity="0.29" mask="url(#mk)"/>
<rect x="277" y="1933.5" width="7.0" height="5.5" fill="#900b10" opacity="0.37" mask="url(#mk)"/>
<rect x="294" y="1621.0" width="11.0" height="18.3" fill="#900b10" opacity="0.67" mask="url(#mk)"/>
<rect x="294" y="1639.3" width="11.0" height="6.3" fill="#900b10" opacity="0.43" mask="url(#mk)"/>
<rect x="294" y="1645.5" width="11.0" height="7.6" fill="#900b10" opacity="0.37" mask="url(#mk)"/>
<rect x="294" y="1653.1" width="11.0" height="15.6" fill="#900b10" opacity="0.61" mask="url(#mk)"/>
<rect x="294" y="1668.7" width="11.0" height="6.8" fill="#900b10" opacity="0.62" mask="url(#mk)"/>
<rect x="294" y="1675.5" width="11.0" height="12.4" fill="#900b10" opacity="0.44" mask="url(#mk)"/>
<rect x="294" y="1687.9" width="11.0" height="9.5" fill="#900b10" opacity="0.67" mask="url(#mk)"/>
<rect x="294" y="1697.4" width="11.0" height="6.9" fill="#900b10" opacity="0.54" mask="url(#mk)"/>
<rect x="294" y="1704.3" width="11.0" height="10.6" fill="#900b10" opacity="0.65" mask="url(#mk)"/>
<rect x="294" y="1714.9" width="11.0" height="17.7" fill="#900b10" opacity="0.47" mask="url(#mk)"/>
<rect x="294" y="1732.6" width="11.0" height="15.6" fill="#900b10" opacity="0.60" mask="url(#mk)"/>
<rect x="294" y="1748.2" width="11.0" height="11.1" fill="#900b10" opacity="0.47" mask="url(#mk)"/>
<rect x="294" y="1759.3" width="11.0" height="8.3" fill="#900b10" opacity="0.59" mask="url(#mk)"/>
<rect x="294" y="1767.6" width="11.0" height="9.5" fill="#900b10" opacity="0.46" mask="url(#mk)"/>
<rect x="294" y="1777.1" width="11.0" height="7.0" fill="#900b10" opacity="0.70" mask="url(#mk)"/>
<rect x="294" y="1784.1" width="11.0" height="20.1" fill="#900b10" opacity="0.68" mask="url(#mk)"/>
<rect x="294" y="1804.2" width="11.0" height="16.0" fill="#900b10" opacity="0.51" mask="url(#mk)"/>
<rect x="294" y="1820.2" width="11.0" height="13.9" fill="#900b10" opacity="0.71" mask="url(#mk)"/>
<rect x="294" y="1834.1" width="11.0" height="21.1" fill="#900b10" opacity="0.60" mask="url(#mk)"/>
<rect x="294" y="1855.2" width="11.0" height="18.6" fill="#900b10" opacity="0.47" mask="url(#mk)"/>
<rect x="294" y="1873.8" width="11.0" height="12.7" fill="#900b10" opacity="0.41" mask="url(#mk)"/>
<rect x="294" y="1886.4" width="11.0" height="12.0" fill="#900b10" opacity="0.63" mask="url(#mk)"/>
<rect x="294" y="1898.5" width="11.0" height="13.6" fill="#900b10" opacity="0.66" mask="url(#mk)"/>
<rect x="294" y="1912.0" width="11.0" height="10.8" fill="#900b10" opacity="0.61" mask="url(#mk)"/>
<rect x="294" y="1922.8" width="11.0" height="16.2" fill="#900b10" opacity="0.68" mask="url(#mk)"/>
<rect x="261" y="1680" width="47.0" height="11.0" fill="#b4181e" opacity="0.3" mask="url(#mk)"/>
<rect x="315" y="1621.0" width="8.5" height="15.0" fill="#3d48b8" opacity="0.83" mask="url(#mk)"/>
<rect x="315" y="1636.0" width="8.5" height="14.9" fill="#3d48b8" opacity="0.48" mask="url(#mk)"/>
<rect x="315" y="1650.9" width="8.5" height="9.9" fill="#3d48b8" opacity="0.51" mask="url(#mk)"/>
<rect x="315" y="1660.8" width="8.5" height="16.3" fill="#3d48b8" opacity="0.81" mask="url(#mk)"/>
<rect x="315" y="1677.1" width="8.5" height="19.6" fill="#3d48b8" opacity="0.46" mask="url(#mk)"/>
<rect x="315" y="1696.7" width="8.5" height="17.6" fill="#3d48b8" opacity="0.50" mask="url(#mk)"/>
<rect x="315" y="1714.3" width="8.5" height="10.3" fill="#3d48b8" opacity="0.71" mask="url(#mk)"/>
<rect x="315" y="1724.6" width="8.5" height="15.6" fill="#3d48b8" opacity="0.79" mask="url(#mk)"/>
<rect x="315" y="1740.2" width="8.5" height="9.0" fill="#3d48b8" opacity="0.74" mask="url(#mk)"/>
<rect x="315" y="1749.2" width="8.5" height="17.6" fill="#3d48b8" opacity="0.66" mask="url(#mk)"/>
<rect x="315" y="1766.8" width="8.5" height="13.7" fill="#3d48b8" opacity="0.79" mask="url(#mk)"/>
<rect x="315" y="1780.5" width="8.5" height="11.3" fill="#3d48b8" opacity="0.83" mask="url(#mk)"/>
<rect x="315" y="1791.8" width="8.5" height="6.2" fill="#3d48b8" opacity="0.82" mask="url(#mk)"/>
<rect x="315" y="1798.1" width="8.5" height="21.4" fill="#3d48b8" opacity="0.47" mask="url(#mk)"/>
<rect x="315" y="1819.5" width="8.5" height="22.0" fill="#3d48b8" opacity="0.62" mask="url(#mk)"/>
<rect x="315" y="1841.5" width="8.5" height="9.9" fill="#3d48b8" opacity="0.68" mask="url(#mk)"/>
<rect x="315" y="1851.3" width="8.5" height="9.3" fill="#3d48b8" opacity="0.81" mask="url(#mk)"/>
<rect x="315" y="1860.6" width="8.5" height="14.8" fill="#3d48b8" opacity="0.75" mask="url(#mk)"/>
<rect x="315" y="1875.5" width="8.5" height="12.1" fill="#3d48b8" opacity="0.65" mask="url(#mk)"/>
<rect x="315" y="1887.5" width="8.5" height="11.7" fill="#3d48b8" opacity="0.53" mask="url(#mk)"/>
<rect x="315" y="1899.3" width="8.5" height="4.7" fill="#3d48b8" opacity="0.63" mask="url(#mk)"/>
<rect x="323.5" y="1904.0" width="18.5" height="7.6" fill="#900b10" opacity="0.97" mask="url(#mk)"/>
<rect x="323.5" y="1911.6" width="18.5" height="13.5" fill="#900b10" opacity="0.90" mask="url(#mk)"/>
<rect x="323.5" y="1925.1" width="18.5" height="13.9" fill="#900b10" opacity="0.67" mask="url(#mk)"/>
<rect x="311" y="1904.0" width="12.5" height="12.6" fill="#b4181e" opacity="0.30" mask="url(#mk)"/>
<rect x="311" y="1916.6" width="12.5" height="9.5" fill="#b4181e" opacity="0.22" mask="url(#mk)"/>
<rect x="311" y="1926.2" width="12.5" height="12.8" fill="#b4181e" opacity="0.38" mask="url(#mk)"/>
<rect x="345" y="1831" width="48.0" height="6.0" fill="#3d48b8" opacity="0.95"/>
<rect x="345" y="1832.5" width="48.0" height="3.0" fill="#2a32a8" opacity="0.5"/>
<rect x="381" y="1621.0" width="6.0" height="15.3" fill="#3d48b8" opacity="0.32" mask="url(#mk)"/>
<rect x="381" y="1636.3" width="6.0" height="8.4" fill="#3d48b8" opacity="0.30" mask="url(#mk)"/>
<rect x="381" y="1644.7" width="6.0" height="12.1" fill="#3d48b8" opacity="0.42" mask="url(#mk)"/>
<rect x="381" y="1656.8" width="6.0" height="14.0" fill="#3d48b8" opacity="0.38" mask="url(#mk)"/>
<rect x="381" y="1670.8" width="6.0" height="17.0" fill="#3d48b8" opacity="0.29" mask="url(#mk)"/>
<rect x="381" y="1687.7" width="6.0" height="19.1" fill="#3d48b8" opacity="0.45" mask="url(#mk)"/>
<rect x="381" y="1706.9" width="6.0" height="16.3" fill="#3d48b8" opacity="0.34" mask="url(#mk)"/>
<rect x="381" y="1723.1" width="6.0" height="8.7" fill="#3d48b8" opacity="0.41" mask="url(#mk)"/>
<rect x="381" y="1731.8" width="6.0" height="8.7" fill="#3d48b8" opacity="0.39" mask="url(#mk)"/>
<rect x="381" y="1740.5" width="6.0" height="13.8" fill="#3d48b8" opacity="0.44" mask="url(#mk)"/>
<rect x="381" y="1754.4" width="6.0" height="14.7" fill="#3d48b8" opacity="0.37" mask="url(#mk)"/>
<rect x="381" y="1769.0" width="6.0" height="6.9" fill="#3d48b8" opacity="0.24" mask="url(#mk)"/>
<rect x="381" y="1776.0" width="6.0" height="19.5" fill="#3d48b8" opacity="0.44" mask="url(#mk)"/>
<rect x="381" y="1795.5" width="6.0" height="16.7" fill="#3d48b8" opacity="0.40" mask="url(#mk)"/>
<rect x="381" y="1812.2" width="6.0" height="12.6" fill="#3d48b8" opacity="0.42" mask="url(#mk)"/>
<rect x="381" y="1824.8" width="6.0" height="9.7" fill="#3d48b8" opacity="0.39" mask="url(#mk)"/>
<rect x="381" y="1834.5" width="6.0" height="6.1" fill="#3d48b8" opacity="0.34" mask="url(#mk)"/>
<rect x="381" y="1840.7" width="6.0" height="12.0" fill="#3d48b8" opacity="0.37" mask="url(#mk)"/>
<rect x="381" y="1852.6" width="6.0" height="16.7" fill="#3d48b8" opacity="0.37" mask="url(#mk)"/>
<rect x="381" y="1869.3" width="6.0" height="13.7" fill="#3d48b8" opacity="0.34" mask="url(#mk)"/>
<rect x="381" y="1883.0" width="6.0" height="6.1" fill="#3d48b8" opacity="0.35" mask="url(#mk)"/>
<rect x="381" y="1889.1" width="6.0" height="6.2" fill="#3d48b8" opacity="0.35" mask="url(#mk)"/>
<rect x="381" y="1895.3" width="6.0" height="10.4" fill="#3d48b8" opacity="0.45" mask="url(#mk)"/>
<rect x="381" y="1905.7" width="6.0" height="6.3" fill="#3d48b8" opacity="0.41" mask="url(#mk)"/>
<rect x="381" y="1912.0" width="6.0" height="16.8" fill="#3d48b8" opacity="0.41" mask="url(#mk)"/>
<rect x="381" y="1928.8" width="6.0" height="10.2" fill="#3d48b8" opacity="0.25" mask="url(#mk)"/>
<rect x="406" y="1621.0" width="12.0" height="7.5" fill="#b4181e" opacity="0.12" mask="url(#mk)"/>
<rect x="406" y="1628.5" width="12.0" height="9.1" fill="#b4181e" opacity="0.16" mask="url(#mk)"/>
<rect x="406" y="1637.6" width="12.0" height="19.0" fill="#b4181e" opacity="0.13" mask="url(#mk)"/>
<rect x="406" y="1656.7" width="12.0" height="12.4" fill="#b4181e" opacity="0.14" mask="url(#mk)"/>
<rect x="406" y="1669.0" width="12.0" height="12.5" fill="#b4181e" opacity="0.16" mask="url(#mk)"/>
<rect x="406" y="1681.5" width="12.0" height="21.8" fill="#b4181e" opacity="0.13" mask="url(#mk)"/>
<rect x="406" y="1703.3" width="12.0" height="16.9" fill="#b4181e" opacity="0.19" mask="url(#mk)"/>
<rect x="406" y="1720.3" width="12.0" height="16.5" fill="#b4181e" opacity="0.19" mask="url(#mk)"/>
<rect x="406" y="1736.8" width="12.0" height="18.2" fill="#b4181e" opacity="0.11" mask="url(#mk)"/>
<rect x="406" y="1754.9" width="12.0" height="12.1" fill="#b4181e" opacity="0.16" mask="url(#mk)"/>
<rect x="406" y="1767.0" width="12.0" height="6.9" fill="#b4181e" opacity="0.10" mask="url(#mk)"/>
<rect x="406" y="1773.9" width="12.0" height="8.7" fill="#b4181e" opacity="0.16" mask="url(#mk)"/>
<rect x="406" y="1782.6" width="12.0" height="12.9" fill="#b4181e" opacity="0.19" mask="url(#mk)"/>
<rect x="406" y="1795.6" width="12.0" height="15.1" fill="#b4181e" opacity="0.19" mask="url(#mk)"/>
<rect x="406" y="1810.6" width="12.0" height="7.5" fill="#b4181e" opacity="0.16" mask="url(#mk)"/>
<rect x="406" y="1818.1" width="12.0" height="6.7" fill="#b4181e" opacity="0.13" mask="url(#mk)"/>
<rect x="406" y="1824.8" width="12.0" height="19.9" fill="#b4181e" opacity="0.20" mask="url(#mk)"/>
<rect x="406" y="1844.7" width="12.0" height="13.6" fill="#b4181e" opacity="0.11" mask="url(#mk)"/>
<rect x="406" y="1858.3" width="12.0" height="7.2" fill="#b4181e" opacity="0.20" mask="url(#mk)"/>
<rect x="406" y="1865.5" width="12.0" height="20.4" fill="#b4181e" opacity="0.16" mask="url(#mk)"/>
<rect x="406" y="1885.9" width="12.0" height="6.5" fill="#b4181e" opacity="0.20" mask="url(#mk)"/>
<rect x="406" y="1892.4" width="12.0" height="11.0" fill="#b4181e" opacity="0.20" mask="url(#mk)"/>
<rect x="406" y="1903.4" width="12.0" height="15.4" fill="#b4181e" opacity="0.18" mask="url(#mk)"/>
<rect x="406" y="1918.8" width="12.0" height="20.2" fill="#b4181e" opacity="0.15" mask="url(#mk)"/>
<rect x="437" y="1621.0" width="5.0" height="7.2" fill="#3d48b8" opacity="0.23" mask="url(#mk)"/>
<rect x="437" y="1628.2" width="5.0" height="9.8" fill="#3d48b8" opacity="0.36" mask="url(#mk)"/>
<rect x="437" y="1638.1" width="5.0" height="12.2" fill="#3d48b8" opacity="0.37" mask="url(#mk)"/>
<rect x="437" y="1650.3" width="5.0" height="11.3" fill="#3d48b8" opacity="0.34" mask="url(#mk)"/>
<rect x="437" y="1661.6" width="5.0" height="8.2" fill="#3d48b8" opacity="0.39" mask="url(#mk)"/>
<rect x="437" y="1669.9" width="5.0" height="17.6" fill="#3d48b8" opacity="0.29" mask="url(#mk)"/>
<rect x="437" y="1687.4" width="5.0" height="21.6" fill="#3d48b8" opacity="0.21" mask="url(#mk)"/>
<rect x="437" y="1709.0" width="5.0" height="13.0" fill="#3d48b8" opacity="0.36" mask="url(#mk)"/>
<rect x="437" y="1722.0" width="5.0" height="11.4" fill="#3d48b8" opacity="0.34" mask="url(#mk)"/>
<rect x="437" y="1733.5" width="5.0" height="21.3" fill="#3d48b8" opacity="0.27" mask="url(#mk)"/>
<rect x="437" y="1754.7" width="5.0" height="18.4" fill="#3d48b8" opacity="0.20" mask="url(#mk)"/>
<rect x="437" y="1773.1" width="5.0" height="10.4" fill="#3d48b8" opacity="0.39" mask="url(#mk)"/>
<rect x="437" y="1783.5" width="5.0" height="13.8" fill="#3d48b8" opacity="0.26" mask="url(#mk)"/>
<rect x="437" y="1797.3" width="5.0" height="21.1" fill="#3d48b8" opacity="0.28" mask="url(#mk)"/>
<rect x="437" y="1818.4" width="5.0" height="16.9" fill="#3d48b8" opacity="0.32" mask="url(#mk)"/>
<rect x="437" y="1835.3" width="5.0" height="7.4" fill="#3d48b8" opacity="0.32" mask="url(#mk)"/>
<rect x="437" y="1842.7" width="5.0" height="18.8" fill="#3d48b8" opacity="0.33" mask="url(#mk)"/>
<rect x="437" y="1861.4" width="5.0" height="7.3" fill="#3d48b8" opacity="0.23" mask="url(#mk)"/>
<rect x="437" y="1868.7" width="5.0" height="17.4" fill="#3d48b8" opacity="0.32" mask="url(#mk)"/>
<rect x="437" y="1886.1" width="5.0" height="17.8" fill="#3d48b8" opacity="0.26" mask="url(#mk)"/>
<rect x="437" y="1904.0" width="5.0" height="7.7" fill="#3d48b8" opacity="0.20" mask="url(#mk)"/>
<rect x="437" y="1911.7" width="5.0" height="10.9" fill="#3d48b8" opacity="0.27" mask="url(#mk)"/>
<rect x="437" y="1922.6" width="5.0" height="10.3" fill="#3d48b8" opacity="0.22" mask="url(#mk)"/>
<rect x="437" y="1932.9" width="5.0" height="6.1" fill="#3d48b8" opacity="0.28" mask="url(#mk)"/>
<rect x="444" y="1621.0" width="4.0" height="14.9" fill="#b4181e" opacity="0.18" mask="url(#mk)"/>
<rect x="444" y="1635.9" width="4.0" height="6.4" fill="#b4181e" opacity="0.18" mask="url(#mk)"/>
<rect x="444" y="1642.3" width="4.0" height="7.5" fill="#b4181e" opacity="0.21" mask="url(#mk)"/>
<rect x="444" y="1649.8" width="4.0" height="11.2" fill="#b4181e" opacity="0.18" mask="url(#mk)"/>
<rect x="444" y="1661.0" width="4.0" height="10.7" fill="#b4181e" opacity="0.18" mask="url(#mk)"/>
<rect x="444" y="1671.6" width="4.0" height="7.4" fill="#b4181e" opacity="0.25" mask="url(#mk)"/>
<rect x="444" y="1679.0" width="4.0" height="20.5" fill="#b4181e" opacity="0.26" mask="url(#mk)"/>
<rect x="444" y="1699.5" width="4.0" height="15.2" fill="#b4181e" opacity="0.15" mask="url(#mk)"/>
<rect x="444" y="1714.6" width="4.0" height="12.1" fill="#b4181e" opacity="0.15" mask="url(#mk)"/>
<rect x="444" y="1726.7" width="4.0" height="10.8" fill="#b4181e" opacity="0.19" mask="url(#mk)"/>
<rect x="444" y="1737.5" width="4.0" height="7.0" fill="#b4181e" opacity="0.19" mask="url(#mk)"/>
<rect x="444" y="1744.6" width="4.0" height="12.7" fill="#b4181e" opacity="0.19" mask="url(#mk)"/>
<rect x="444" y="1757.3" width="4.0" height="7.2" fill="#b4181e" opacity="0.16" mask="url(#mk)"/>
<rect x="444" y="1764.5" width="4.0" height="9.9" fill="#b4181e" opacity="0.21" mask="url(#mk)"/>
<rect x="444" y="1774.5" width="4.0" height="15.5" fill="#b4181e" opacity="0.16" mask="url(#mk)"/>
<rect x="444" y="1790.0" width="4.0" height="7.7" fill="#b4181e" opacity="0.17" mask="url(#mk)"/>
<rect x="444" y="1797.7" width="4.0" height="21.2" fill="#b4181e" opacity="0.17" mask="url(#mk)"/>
<rect x="444" y="1818.9" width="4.0" height="15.9" fill="#b4181e" opacity="0.23" mask="url(#mk)"/>
<rect x="444" y="1834.8" width="4.0" height="11.3" fill="#b4181e" opacity="0.17" mask="url(#mk)"/>
<rect x="444" y="1846.1" width="4.0" height="19.0" fill="#b4181e" opacity="0.24" mask="url(#mk)"/>
<rect x="444" y="1865.1" width="4.0" height="21.6" fill="#b4181e" opacity="0.15" mask="url(#mk)"/>
<rect x="444" y="1886.7" width="4.0" height="11.1" fill="#b4181e" opacity="0.25" mask="url(#mk)"/>
<rect x="444" y="1897.8" width="4.0" height="9.2" fill="#b4181e" opacity="0.17" mask="url(#mk)"/>
<rect x="444" y="1907.0" width="4.0" height="21.4" fill="#b4181e" opacity="0.26" mask="url(#mk)"/>
<rect x="444" y="1928.5" width="4.0" height="10.5" fill="#b4181e" opacity="0.22" mask="url(#mk)"/>
<rect x="431" y="1880" width="31.0" height="2.0" fill="#900b10" opacity="0.8"/>
<rect x="480" y="1820.8" width="23.0" height="8.9" fill="#900b10" opacity="0.85"/>
<rect x="469" y="1861.5" width="34.0" height="1.5" fill="#2a32a8" opacity="0.7"/>
<rect x="471" y="1621.0" width="5.0" height="13.9" fill="#3d48b8" opacity="0.20" mask="url(#mk)"/>
<rect x="471" y="1634.9" width="5.0" height="9.9" fill="#3d48b8" opacity="0.18" mask="url(#mk)"/>
<rect x="471" y="1644.7" width="5.0" height="19.1" fill="#3d48b8" opacity="0.18" mask="url(#mk)"/>
<rect x="471" y="1663.8" width="5.0" height="7.8" fill="#3d48b8" opacity="0.20" mask="url(#mk)"/>
<rect x="471" y="1671.6" width="5.0" height="15.5" fill="#3d48b8" opacity="0.20" mask="url(#mk)"/>
<rect x="471" y="1687.1" width="5.0" height="16.9" fill="#3d48b8" opacity="0.20" mask="url(#mk)"/>
<rect x="471" y="1704.0" width="5.0" height="21.2" fill="#3d48b8" opacity="0.19" mask="url(#mk)"/>
<rect x="471" y="1725.3" width="5.0" height="17.3" fill="#3d48b8" opacity="0.19" mask="url(#mk)"/>
<rect x="471" y="1742.6" width="5.0" height="10.7" fill="#3d48b8" opacity="0.22" mask="url(#mk)"/>
<rect x="471" y="1753.2" width="5.0" height="19.1" fill="#3d48b8" opacity="0.23" mask="url(#mk)"/>
<rect x="471" y="1772.4" width="5.0" height="12.5" fill="#3d48b8" opacity="0.19" mask="url(#mk)"/>
<rect x="471" y="1784.9" width="5.0" height="16.1" fill="#3d48b8" opacity="0.16" mask="url(#mk)"/>
<rect x="471" y="1801.0" width="5.0" height="16.5" fill="#3d48b8" opacity="0.22" mask="url(#mk)"/>
<rect x="471" y="1817.6" width="5.0" height="18.6" fill="#3d48b8" opacity="0.14" mask="url(#mk)"/>
<rect x="471" y="1836.2" width="5.0" height="21.9" fill="#3d48b8" opacity="0.19" mask="url(#mk)"/>
<rect x="471" y="1858.0" width="5.0" height="12.4" fill="#3d48b8" opacity="0.20" mask="url(#mk)"/>
<rect x="471" y="1870.5" width="5.0" height="20.7" fill="#3d48b8" opacity="0.22" mask="url(#mk)"/>
<rect x="471" y="1891.2" width="5.0" height="14.7" fill="#3d48b8" opacity="0.23" mask="url(#mk)"/>
<rect x="471" y="1905.9" width="5.0" height="11.8" fill="#3d48b8" opacity="0.25" mask="url(#mk)"/>
<rect x="471" y="1917.6" width="5.0" height="14.6" fill="#3d48b8" opacity="0.21" mask="url(#mk)"/>
<rect x="471" y="1932.2" width="5.0" height="6.8" fill="#3d48b8" opacity="0.23" mask="url(#mk)"/>
<rect x="549.7" y="1621.0" width="7.7" height="16.5" fill="#3d48b8" opacity="0.53" mask="url(#mk)"/>
<rect x="549.7" y="1637.5" width="7.7" height="16.4" fill="#3d48b8" opacity="0.41" mask="url(#mk)"/>
<rect x="549.7" y="1653.9" width="7.7" height="21.7" fill="#3d48b8" opacity="0.65" mask="url(#mk)"/>
<rect x="549.7" y="1675.6" width="7.7" height="12.4" fill="#3d48b8" opacity="0.68" mask="url(#mk)"/>
<rect x="549.7" y="1688.0" width="7.7" height="21.5" fill="#3d48b8" opacity="0.56" mask="url(#mk)"/>
<rect x="549.7" y="1709.5" width="7.7" height="6.2" fill="#3d48b8" opacity="0.49" mask="url(#mk)"/>
<rect x="549.7" y="1715.6" width="7.7" height="14.2" fill="#3d48b8" opacity="0.59" mask="url(#mk)"/>
<rect x="549.7" y="1729.8" width="7.7" height="15.3" fill="#3d48b8" opacity="0.61" mask="url(#mk)"/>
<rect x="549.7" y="1745.1" width="7.7" height="13.1" fill="#3d48b8" opacity="0.54" mask="url(#mk)"/>
<rect x="549.7" y="1758.2" width="7.7" height="18.4" fill="#3d48b8" opacity="0.62" mask="url(#mk)"/>
<rect x="549.7" y="1776.6" width="7.7" height="14.0" fill="#3d48b8" opacity="0.52" mask="url(#mk)"/>
<rect x="549.7" y="1790.6" width="7.7" height="6.4" fill="#3d48b8" opacity="0.43" mask="url(#mk)"/>
<rect x="549.7" y="1797.0" width="7.7" height="12.7" fill="#3d48b8" opacity="0.77" mask="url(#mk)"/>
<rect x="549.7" y="1809.6" width="7.7" height="7.9" fill="#3d48b8" opacity="0.76" mask="url(#mk)"/>
<rect x="549.7" y="1817.5" width="7.7" height="8.3" fill="#3d48b8" opacity="0.51" mask="url(#mk)"/>
<rect x="549.7" y="1825.8" width="7.7" height="13.3" fill="#3d48b8" opacity="0.47" mask="url(#mk)"/>
<rect x="549.7" y="1839.0" width="7.7" height="13.7" fill="#3d48b8" opacity="0.58" mask="url(#mk)"/>
<rect x="549.7" y="1852.8" width="7.7" height="13.0" fill="#3d48b8" opacity="0.66" mask="url(#mk)"/>
<rect x="549.7" y="1865.8" width="7.7" height="11.1" fill="#3d48b8" opacity="0.51" mask="url(#mk)"/>
<rect x="549.7" y="1876.9" width="7.7" height="19.0" fill="#3d48b8" opacity="0.43" mask="url(#mk)"/>
<rect x="549.7" y="1895.8" width="7.7" height="19.6" fill="#3d48b8" opacity="0.64" mask="url(#mk)"/>
<rect x="549.7" y="1915.4" width="7.7" height="16.8" fill="#3d48b8" opacity="0.45" mask="url(#mk)"/>
<rect x="549.7" y="1932.3" width="7.7" height="6.7" fill="#3d48b8" opacity="0.49" mask="url(#mk)"/>
<rect x="563.7" y="1823" width="24.1" height="3.0" fill="#900b10" opacity="0.7"/>
<rect x="563.7" y="1833.5" width="24.1" height="3.5" fill="#900b10" opacity="0.7"/>
<rect x="563.7" y="1840" width="24.1" height="5.0" fill="#900b10" opacity="0.7"/>
<rect x="563.7" y="1853.8" width="24.1" height="8.8" fill="#900b10" opacity="0.64" mask="url(#mk)"/>
<rect x="563.7" y="1862.6" width="24.1" height="15.0" fill="#900b10" opacity="1.00" mask="url(#mk)"/>
<rect x="563.7" y="1877.5" width="24.1" height="9.7" fill="#900b10" opacity="0.78" mask="url(#mk)"/>
<rect x="563.7" y="1887.3" width="24.1" height="9.0" fill="#900b10" opacity="0.91" mask="url(#mk)"/>
<rect x="563.7" y="1896.2" width="24.1" height="8.4" fill="#900b10" opacity="0.57" mask="url(#mk)"/>
<rect x="563.7" y="1922" width="24.1" height="17.0" fill="#900b10" opacity="0.85" mask="url(#mk)"/>
<rect x="590" y="1633" width="6.7" height="34.0" fill="#900b10" opacity="0.9"/>
<rect x="590" y="1742" width="6.7" height="51.0" fill="#900b10" opacity="0.95"/>
<rect x="590" y="1824.6" width="6.7" height="14.0" fill="#900b10" opacity="0.9"/>
<rect x="590" y="1883" width="6.7" height="23.0" fill="#900b10" opacity="0.95"/>
<rect x="590" y="1917" width="6.7" height="14.0" fill="#900b10" opacity="0.95"/>
<rect x="615.7" y="1621.0" width="15.3" height="15.8" fill="#3d48b8" opacity="0.19" mask="url(#mk)"/>
<rect x="615.7" y="1636.8" width="15.3" height="15.5" fill="#3d48b8" opacity="0.23" mask="url(#mk)"/>
<rect x="615.7" y="1652.3" width="15.3" height="17.3" fill="#3d48b8" opacity="0.20" mask="url(#mk)"/>
<rect x="615.7" y="1669.6" width="15.3" height="18.0" fill="#3d48b8" opacity="0.29" mask="url(#mk)"/>
<rect x="615.7" y="1687.6" width="15.3" height="7.0" fill="#3d48b8" opacity="0.18" mask="url(#mk)"/>
<rect x="615.7" y="1694.6" width="15.3" height="20.0" fill="#3d48b8" opacity="0.19" mask="url(#mk)"/>
<rect x="615.7" y="1714.6" width="15.3" height="11.2" fill="#3d48b8" opacity="0.24" mask="url(#mk)"/>
<rect x="615.7" y="1725.8" width="15.3" height="10.2" fill="#3d48b8" opacity="0.30" mask="url(#mk)"/>
<rect x="615.7" y="1736.0" width="15.3" height="14.4" fill="#3d48b8" opacity="0.27" mask="url(#mk)"/>
<rect x="615.7" y="1750.4" width="15.3" height="15.6" fill="#3d48b8" opacity="0.26" mask="url(#mk)"/>
<rect x="615.7" y="1766.0" width="15.3" height="15.4" fill="#3d48b8" opacity="0.22" mask="url(#mk)"/>
<rect x="615.7" y="1781.4" width="15.3" height="19.5" fill="#3d48b8" opacity="0.26" mask="url(#mk)"/>
<rect x="615.7" y="1800.9" width="15.3" height="19.0" fill="#3d48b8" opacity="0.28" mask="url(#mk)"/>
<rect x="615.7" y="1819.9" width="15.3" height="10.8" fill="#3d48b8" opacity="0.26" mask="url(#mk)"/>
<rect x="615.7" y="1830.7" width="15.3" height="7.4" fill="#3d48b8" opacity="0.18" mask="url(#mk)"/>
<rect x="615.7" y="1838.0" width="15.3" height="7.9" fill="#3d48b8" opacity="0.21" mask="url(#mk)"/>
<rect x="615.7" y="1845.9" width="15.3" height="8.9" fill="#3d48b8" opacity="0.28" mask="url(#mk)"/>
<rect x="615.7" y="1854.8" width="15.3" height="14.2" fill="#3d48b8" opacity="0.23" mask="url(#mk)"/>
<rect x="615.7" y="1869.0" width="15.3" height="8.2" fill="#3d48b8" opacity="0.22" mask="url(#mk)"/>
<rect x="615.7" y="1877.2" width="15.3" height="9.0" fill="#3d48b8" opacity="0.27" mask="url(#mk)"/>
<rect x="615.7" y="1886.2" width="15.3" height="17.1" fill="#3d48b8" opacity="0.27" mask="url(#mk)"/>
<rect x="615.7" y="1903.3" width="15.3" height="22.0" fill="#3d48b8" opacity="0.25" mask="url(#mk)"/>
<rect x="615.7" y="1925.3" width="15.3" height="13.7" fill="#3d48b8" opacity="0.19" mask="url(#mk)"/>
<rect x="631" y="1621.0" width="6.3" height="11.0" fill="#3d48b8" opacity="0.57" mask="url(#mk)"/>
<rect x="631" y="1632.0" width="6.3" height="6.9" fill="#3d48b8" opacity="0.53" mask="url(#mk)"/>
<rect x="631" y="1638.9" width="6.3" height="6.2" fill="#3d48b8" opacity="0.44" mask="url(#mk)"/>
<rect x="631" y="1645.0" width="6.3" height="19.0" fill="#3d48b8" opacity="0.77" mask="url(#mk)"/>
<rect x="631" y="1664.1" width="6.3" height="14.1" fill="#3d48b8" opacity="0.58" mask="url(#mk)"/>
<rect x="631" y="1678.2" width="6.3" height="17.0" fill="#3d48b8" opacity="0.55" mask="url(#mk)"/>
<rect x="631" y="1695.1" width="6.3" height="19.4" fill="#3d48b8" opacity="0.58" mask="url(#mk)"/>
<rect x="631" y="1714.6" width="6.3" height="7.3" fill="#3d48b8" opacity="0.40" mask="url(#mk)"/>
<rect x="631" y="1721.9" width="6.3" height="18.2" fill="#3d48b8" opacity="0.50" mask="url(#mk)"/>
<rect x="631" y="1740.1" width="6.3" height="10.4" fill="#3d48b8" opacity="0.60" mask="url(#mk)"/>
<rect x="631" y="1750.5" width="6.3" height="8.7" fill="#3d48b8" opacity="0.57" mask="url(#mk)"/>
<rect x="631" y="1759.2" width="6.3" height="17.9" fill="#3d48b8" opacity="0.69" mask="url(#mk)"/>
<rect x="631" y="1777.0" width="6.3" height="14.8" fill="#3d48b8" opacity="0.43" mask="url(#mk)"/>
<rect x="631" y="1791.8" width="6.3" height="7.8" fill="#3d48b8" opacity="0.69" mask="url(#mk)"/>
<rect x="631" y="1799.7" width="6.3" height="19.2" fill="#3d48b8" opacity="0.53" mask="url(#mk)"/>
<rect x="631" y="1818.8" width="6.3" height="19.2" fill="#3d48b8" opacity="0.41" mask="url(#mk)"/>
<rect x="631" y="1838.0" width="6.3" height="17.5" fill="#3d48b8" opacity="0.60" mask="url(#mk)"/>
<rect x="631" y="1855.5" width="6.3" height="21.8" fill="#3d48b8" opacity="0.43" mask="url(#mk)"/>
<rect x="631" y="1877.3" width="6.3" height="19.3" fill="#3d48b8" opacity="0.68" mask="url(#mk)"/>
<rect x="631" y="1896.6" width="6.3" height="10.8" fill="#3d48b8" opacity="0.78" mask="url(#mk)"/>
<rect x="631" y="1907.4" width="6.3" height="13.2" fill="#3d48b8" opacity="0.53" mask="url(#mk)"/>
<rect x="631" y="1920.6" width="6.3" height="18.4" fill="#3d48b8" opacity="0.56" mask="url(#mk)"/>
<rect x="640" y="1621.0" width="19.0" height="21.9" fill="#900b10" opacity="0.87" mask="url(#mk)"/>
<rect x="640" y="1642.9" width="19.0" height="11.7" fill="#900b10" opacity="0.88" mask="url(#mk)"/>
<rect x="640" y="1691.0" width="19.0" height="15.4" fill="#900b10" opacity="0.66" mask="url(#mk)"/>
<rect x="640" y="1706.4" width="19.0" height="17.4" fill="#900b10" opacity="0.80" mask="url(#mk)"/>
<rect x="640" y="1723.8" width="19.0" height="8.7" fill="#900b10" opacity="0.56" mask="url(#mk)"/>
<rect x="640" y="1732.4" width="19.0" height="9.3" fill="#900b10" opacity="0.59" mask="url(#mk)"/>
<rect x="640" y="1741.7" width="19.0" height="6.9" fill="#900b10" opacity="0.66" mask="url(#mk)"/>
<rect x="640" y="1748.7" width="19.0" height="10.5" fill="#900b10" opacity="0.75" mask="url(#mk)"/>
<rect x="640" y="1759.2" width="19.0" height="4.5" fill="#900b10" opacity="0.83" mask="url(#mk)"/>
<rect x="640" y="1763.7" width="19.0" height="10.6" fill="#3d48b8" opacity="0.25" mask="url(#mk)"/>
<rect x="640" y="1774.3" width="19.0" height="19.7" fill="#3d48b8" opacity="0.39" mask="url(#mk)"/>
<rect x="640" y="1794.1" width="19.0" height="16.9" fill="#3d48b8" opacity="0.21" mask="url(#mk)"/>
<rect x="640" y="1810.9" width="19.0" height="21.4" fill="#3d48b8" opacity="0.35" mask="url(#mk)"/>
<rect x="640" y="1832.3" width="19.0" height="20.7" fill="#3d48b8" opacity="0.39" mask="url(#mk)"/>
<rect x="640" y="1853.0" width="19.0" height="19.9" fill="#3d48b8" opacity="0.22" mask="url(#mk)"/>
<rect x="640" y="1872.9" width="19.0" height="19.9" fill="#3d48b8" opacity="0.24" mask="url(#mk)"/>
<rect x="640" y="1892.8" width="19.0" height="17.4" fill="#3d48b8" opacity="0.36" mask="url(#mk)"/>
<rect x="640" y="1910.1" width="19.0" height="18.2" fill="#3d48b8" opacity="0.33" mask="url(#mk)"/>
<rect x="640" y="1928.3" width="19.0" height="10.7" fill="#3d48b8" opacity="0.31" mask="url(#mk)"/>
<rect x="640" y="1830.5" width="15.0" height="2.0" fill="#900b10" opacity="0.8"/>
<rect x="642" y="1906" width="18.0" height="2.0" fill="#900b10" opacity="0.8"/>
<rect x="659" y="1621.0" width="6.0" height="10.3" fill="#3d48b8" opacity="0.37" mask="url(#mk)"/>
<rect x="659" y="1631.3" width="6.0" height="13.2" fill="#3d48b8" opacity="0.42" mask="url(#mk)"/>
<rect x="659" y="1644.5" width="6.0" height="20.1" fill="#3d48b8" opacity="0.28" mask="url(#mk)"/>
<rect x="659" y="1664.6" width="6.0" height="14.2" fill="#3d48b8" opacity="0.33" mask="url(#mk)"/>
<rect x="659" y="1678.9" width="6.0" height="21.0" fill="#3d48b8" opacity="0.36" mask="url(#mk)"/>
<rect x="659" y="1699.8" width="6.0" height="21.2" fill="#3d48b8" opacity="0.35" mask="url(#mk)"/>
<rect x="659" y="1721.0" width="6.0" height="6.0" fill="#3d48b8" opacity="0.46" mask="url(#mk)"/>
<rect x="659" y="1727.1" width="6.0" height="17.7" fill="#3d48b8" opacity="0.45" mask="url(#mk)"/>
<rect x="659" y="1744.8" width="6.0" height="13.3" fill="#3d48b8" opacity="0.43" mask="url(#mk)"/>
<rect x="659" y="1758.1" width="6.0" height="11.7" fill="#3d48b8" opacity="0.28" mask="url(#mk)"/>
<rect x="659" y="1769.9" width="6.0" height="14.6" fill="#3d48b8" opacity="0.32" mask="url(#mk)"/>
<rect x="659" y="1784.4" width="6.0" height="12.9" fill="#3d48b8" opacity="0.32" mask="url(#mk)"/>
<rect x="659" y="1797.3" width="6.0" height="10.3" fill="#3d48b8" opacity="0.48" mask="url(#mk)"/>
<rect x="659" y="1807.6" width="6.0" height="11.4" fill="#3d48b8" opacity="0.41" mask="url(#mk)"/>
<rect x="659" y="1819.0" width="6.0" height="15.1" fill="#3d48b8" opacity="0.39" mask="url(#mk)"/>
<rect x="659" y="1834.1" width="6.0" height="11.5" fill="#3d48b8" opacity="0.44" mask="url(#mk)"/>
<rect x="659" y="1845.6" width="6.0" height="6.8" fill="#3d48b8" opacity="0.29" mask="url(#mk)"/>
<rect x="659" y="1852.3" width="6.0" height="18.5" fill="#3d48b8" opacity="0.38" mask="url(#mk)"/>
<rect x="659" y="1870.9" width="6.0" height="8.0" fill="#3d48b8" opacity="0.48" mask="url(#mk)"/>
<rect x="659" y="1878.9" width="6.0" height="13.1" fill="#3d48b8" opacity="0.26" mask="url(#mk)"/>
<rect x="659" y="1891.9" width="6.0" height="21.3" fill="#3d48b8" opacity="0.31" mask="url(#mk)"/>
<rect x="659" y="1913.3" width="6.0" height="17.0" fill="#3d48b8" opacity="0.29" mask="url(#mk)"/>
<rect x="659" y="1930.3" width="6.0" height="8.7" fill="#3d48b8" opacity="0.30" mask="url(#mk)"/>
<rect x="670" y="1621.0" width="10.5" height="20.9" fill="#b4181e" opacity="0.37" mask="url(#mk)"/>
<rect x="670" y="1641.9" width="10.5" height="16.5" fill="#b4181e" opacity="0.37" mask="url(#mk)"/>
<rect x="670" y="1658.4" width="10.5" height="11.9" fill="#b4181e" opacity="0.56" mask="url(#mk)"/>
<rect x="670" y="1670.3" width="10.5" height="8.6" fill="#b4181e" opacity="0.41" mask="url(#mk)"/>
<rect x="670" y="1679.0" width="10.5" height="10.9" fill="#b4181e" opacity="0.50" mask="url(#mk)"/>
<rect x="670" y="1689.9" width="10.5" height="9.7" fill="#b4181e" opacity="0.48" mask="url(#mk)"/>
<rect x="670" y="1699.6" width="10.5" height="17.3" fill="#b4181e" opacity="0.29" mask="url(#mk)"/>
<rect x="670" y="1716.9" width="10.5" height="13.6" fill="#b4181e" opacity="0.33" mask="url(#mk)"/>
<rect x="670" y="1730.5" width="10.5" height="9.6" fill="#b4181e" opacity="0.49" mask="url(#mk)"/>
<rect x="670" y="1740.1" width="10.5" height="6.1" fill="#b4181e" opacity="0.50" mask="url(#mk)"/>
<rect x="670" y="1746.3" width="10.5" height="19.1" fill="#b4181e" opacity="0.58" mask="url(#mk)"/>
<rect x="670" y="1765.4" width="10.5" height="12.8" fill="#b4181e" opacity="0.33" mask="url(#mk)"/>
<rect x="670" y="1778.1" width="10.5" height="7.1" fill="#b4181e" opacity="0.40" mask="url(#mk)"/>
<rect x="670" y="1785.2" width="10.5" height="17.7" fill="#b4181e" opacity="0.32" mask="url(#mk)"/>
<rect x="670" y="1802.9" width="10.5" height="11.0" fill="#b4181e" opacity="0.55" mask="url(#mk)"/>
<rect x="670" y="1814.0" width="10.5" height="8.2" fill="#b4181e" opacity="0.52" mask="url(#mk)"/>
<rect x="670" y="1822.1" width="10.5" height="18.1" fill="#b4181e" opacity="0.33" mask="url(#mk)"/>
<rect x="670" y="1840.2" width="10.5" height="21.9" fill="#b4181e" opacity="0.33" mask="url(#mk)"/>
<rect x="670" y="1862.1" width="10.5" height="14.5" fill="#b4181e" opacity="0.29" mask="url(#mk)"/>
<rect x="670" y="1876.6" width="10.5" height="16.4" fill="#b4181e" opacity="0.42" mask="url(#mk)"/>
<rect x="670" y="1893.0" width="10.5" height="17.6" fill="#b4181e" opacity="0.48" mask="url(#mk)"/>
<rect x="670" y="1910.5" width="10.5" height="8.4" fill="#b4181e" opacity="0.41" mask="url(#mk)"/>
<rect x="670" y="1919.0" width="10.5" height="20.0" fill="#b4181e" opacity="0.54" mask="url(#mk)"/>
<rect x="694.4" y="1621.0" width="7.6" height="7.4" fill="#b4181e" opacity="0.14" mask="url(#mk)"/>
<rect x="694.4" y="1628.4" width="7.6" height="18.0" fill="#b4181e" opacity="0.21" mask="url(#mk)"/>
<rect x="694.4" y="1646.4" width="7.6" height="12.1" fill="#b4181e" opacity="0.26" mask="url(#mk)"/>
<rect x="694.4" y="1658.6" width="7.6" height="11.0" fill="#b4181e" opacity="0.15" mask="url(#mk)"/>
<rect x="694.4" y="1669.6" width="7.6" height="10.4" fill="#b4181e" opacity="0.14" mask="url(#mk)"/>
<rect x="694.4" y="1680.0" width="7.6" height="14.9" fill="#b4181e" opacity="0.21" mask="url(#mk)"/>
<rect x="694.4" y="1694.9" width="7.6" height="15.7" fill="#b4181e" opacity="0.23" mask="url(#mk)"/>
<rect x="694.4" y="1710.6" width="7.6" height="17.0" fill="#b4181e" opacity="0.24" mask="url(#mk)"/>
<rect x="694.4" y="1727.7" width="7.6" height="16.5" fill="#b4181e" opacity="0.17" mask="url(#mk)"/>
<rect x="694.4" y="1744.2" width="7.6" height="14.3" fill="#b4181e" opacity="0.20" mask="url(#mk)"/>
<rect x="694.4" y="1758.5" width="7.6" height="18.0" fill="#b4181e" opacity="0.17" mask="url(#mk)"/>
<rect x="694.4" y="1776.4" width="7.6" height="6.9" fill="#b4181e" opacity="0.25" mask="url(#mk)"/>
<rect x="694.4" y="1783.3" width="7.6" height="21.3" fill="#b4181e" opacity="0.19" mask="url(#mk)"/>
<rect x="694.4" y="1804.6" width="7.6" height="7.8" fill="#b4181e" opacity="0.19" mask="url(#mk)"/>
<rect x="694.4" y="1812.4" width="7.6" height="15.5" fill="#b4181e" opacity="0.20" mask="url(#mk)"/>
<rect x="694.4" y="1827.9" width="7.6" height="21.6" fill="#b4181e" opacity="0.26" mask="url(#mk)"/>
<rect x="694.4" y="1849.5" width="7.6" height="20.9" fill="#b4181e" opacity="0.15" mask="url(#mk)"/>
<rect x="694.4" y="1870.5" width="7.6" height="19.8" fill="#b4181e" opacity="0.20" mask="url(#mk)"/>
<rect x="694.4" y="1890.3" width="7.6" height="11.8" fill="#b4181e" opacity="0.22" mask="url(#mk)"/>
<rect x="694.4" y="1902.1" width="7.6" height="18.2" fill="#b4181e" opacity="0.25" mask="url(#mk)"/>
<rect x="694.4" y="1920.3" width="7.6" height="18.7" fill="#b4181e" opacity="0.13" mask="url(#mk)"/>
<rect x="704.6" y="1621.0" width="10.1" height="7.1" fill="#3d48b8" opacity="0.12" mask="url(#mk)"/>
<rect x="704.6" y="1628.1" width="10.1" height="6.6" fill="#3d48b8" opacity="0.10" mask="url(#mk)"/>
<rect x="704.6" y="1634.7" width="10.1" height="18.6" fill="#3d48b8" opacity="0.15" mask="url(#mk)"/>
<rect x="704.6" y="1653.3" width="10.1" height="16.1" fill="#3d48b8" opacity="0.15" mask="url(#mk)"/>
<rect x="704.6" y="1669.4" width="10.1" height="12.6" fill="#3d48b8" opacity="0.17" mask="url(#mk)"/>
<rect x="704.6" y="1682.1" width="10.1" height="7.3" fill="#3d48b8" opacity="0.15" mask="url(#mk)"/>
<rect x="704.6" y="1689.4" width="10.1" height="15.9" fill="#3d48b8" opacity="0.12" mask="url(#mk)"/>
<rect x="704.6" y="1705.2" width="10.1" height="11.0" fill="#3d48b8" opacity="0.15" mask="url(#mk)"/>
<rect x="704.6" y="1716.2" width="10.1" height="9.3" fill="#3d48b8" opacity="0.18" mask="url(#mk)"/>
<rect x="704.6" y="1725.4" width="10.1" height="14.6" fill="#3d48b8" opacity="0.14" mask="url(#mk)"/>
<rect x="704.6" y="1740.0" width="10.1" height="16.1" fill="#3d48b8" opacity="0.18" mask="url(#mk)"/>
<rect x="704.6" y="1756.2" width="10.1" height="16.9" fill="#3d48b8" opacity="0.10" mask="url(#mk)"/>
<rect x="704.6" y="1773.1" width="10.1" height="17.2" fill="#3d48b8" opacity="0.17" mask="url(#mk)"/>
<rect x="704.6" y="1790.2" width="10.1" height="19.5" fill="#3d48b8" opacity="0.10" mask="url(#mk)"/>
<rect x="704.6" y="1809.8" width="10.1" height="7.4" fill="#3d48b8" opacity="0.14" mask="url(#mk)"/>
<rect x="704.6" y="1817.2" width="10.1" height="13.3" fill="#3d48b8" opacity="0.16" mask="url(#mk)"/>
<rect x="704.6" y="1830.4" width="10.1" height="10.9" fill="#3d48b8" opacity="0.17" mask="url(#mk)"/>
<rect x="704.6" y="1841.4" width="10.1" height="17.9" fill="#3d48b8" opacity="0.11" mask="url(#mk)"/>
<rect x="704.6" y="1859.2" width="10.1" height="17.3" fill="#3d48b8" opacity="0.17" mask="url(#mk)"/>
<rect x="704.6" y="1876.5" width="10.1" height="8.6" fill="#3d48b8" opacity="0.19" mask="url(#mk)"/>
<rect x="704.6" y="1885.2" width="10.1" height="14.4" fill="#3d48b8" opacity="0.17" mask="url(#mk)"/>
<rect x="704.6" y="1899.5" width="10.1" height="17.5" fill="#3d48b8" opacity="0.11" mask="url(#mk)"/>
<rect x="704.6" y="1917.1" width="10.1" height="8.0" fill="#3d48b8" opacity="0.17" mask="url(#mk)"/>
<rect x="704.6" y="1925.1" width="10.1" height="13.9" fill="#3d48b8" opacity="0.18" mask="url(#mk)"/>
<rect x="732.5" y="1621.0" width="8.5" height="18.3" fill="#b4181e" opacity="0.17" mask="url(#mk)"/>
<rect x="732.5" y="1639.3" width="8.5" height="18.9" fill="#b4181e" opacity="0.21" mask="url(#mk)"/>
<rect x="732.5" y="1658.3" width="8.5" height="7.0" fill="#b4181e" opacity="0.28" mask="url(#mk)"/>
<rect x="732.5" y="1665.3" width="8.5" height="15.2" fill="#b4181e" opacity="0.18" mask="url(#mk)"/>
<rect x="732.5" y="1680.5" width="8.5" height="13.3" fill="#b4181e" opacity="0.22" mask="url(#mk)"/>
<rect x="732.5" y="1693.8" width="8.5" height="14.0" fill="#b4181e" opacity="0.25" mask="url(#mk)"/>
<rect x="732.5" y="1707.8" width="8.5" height="11.9" fill="#b4181e" opacity="0.20" mask="url(#mk)"/>
<rect x="732.5" y="1719.7" width="8.5" height="7.6" fill="#b4181e" opacity="0.26" mask="url(#mk)"/>
<rect x="732.5" y="1727.3" width="8.5" height="17.6" fill="#b4181e" opacity="0.20" mask="url(#mk)"/>
<rect x="732.5" y="1744.9" width="8.5" height="14.1" fill="#b4181e" opacity="0.17" mask="url(#mk)"/>
<rect x="732.5" y="1759.0" width="8.5" height="19.8" fill="#b4181e" opacity="0.20" mask="url(#mk)"/>
<rect x="732.5" y="1778.8" width="8.5" height="13.5" fill="#b4181e" opacity="0.22" mask="url(#mk)"/>
<rect x="732.5" y="1792.4" width="8.5" height="8.4" fill="#b4181e" opacity="0.31" mask="url(#mk)"/>
<rect x="732.5" y="1800.8" width="8.5" height="19.7" fill="#b4181e" opacity="0.25" mask="url(#mk)"/>
<rect x="732.5" y="1820.5" width="8.5" height="20.6" fill="#b4181e" opacity="0.28" mask="url(#mk)"/>
<rect x="732.5" y="1841.1" width="8.5" height="12.7" fill="#b4181e" opacity="0.21" mask="url(#mk)"/>
<rect x="732.5" y="1853.8" width="8.5" height="12.7" fill="#b4181e" opacity="0.28" mask="url(#mk)"/>
<rect x="732.5" y="1866.5" width="8.5" height="10.3" fill="#b4181e" opacity="0.18" mask="url(#mk)"/>
<rect x="732.5" y="1876.8" width="8.5" height="12.0" fill="#b4181e" opacity="0.24" mask="url(#mk)"/>
<rect x="732.5" y="1888.8" width="8.5" height="20.4" fill="#b4181e" opacity="0.19" mask="url(#mk)"/>
<rect x="732.5" y="1909.2" width="8.5" height="18.9" fill="#b4181e" opacity="0.32" mask="url(#mk)"/>
<rect x="732.5" y="1928.1" width="8.5" height="10.9" fill="#b4181e" opacity="0.17" mask="url(#mk)"/>
<rect x="746.5" y="1621.0" width="7.5" height="13.4" fill="#3d48b8" opacity="0.38" mask="url(#mk)"/>
<rect x="746.5" y="1634.4" width="7.5" height="19.5" fill="#3d48b8" opacity="0.39" mask="url(#mk)"/>
<rect x="746.5" y="1654.0" width="7.5" height="14.8" fill="#3d48b8" opacity="0.29" mask="url(#mk)"/>
<rect x="746.5" y="1668.8" width="7.5" height="9.2" fill="#3d48b8" opacity="0.46" mask="url(#mk)"/>
<rect x="746.5" y="1678.0" width="7.5" height="10.9" fill="#3d48b8" opacity="0.47" mask="url(#mk)"/>
<rect x="746.5" y="1688.9" width="7.5" height="13.4" fill="#3d48b8" opacity="0.47" mask="url(#mk)"/>
<rect x="746.5" y="1702.3" width="7.5" height="13.9" fill="#3d48b8" opacity="0.52" mask="url(#mk)"/>
<rect x="746.5" y="1716.2" width="7.5" height="9.1" fill="#3d48b8" opacity="0.56" mask="url(#mk)"/>
<rect x="746.5" y="1725.3" width="7.5" height="18.2" fill="#3d48b8" opacity="0.36" mask="url(#mk)"/>
<rect x="746.5" y="1743.5" width="7.5" height="6.1" fill="#3d48b8" opacity="0.41" mask="url(#mk)"/>
<rect x="746.5" y="1749.6" width="7.5" height="9.7" fill="#3d48b8" opacity="0.39" mask="url(#mk)"/>
<rect x="746.5" y="1759.3" width="7.5" height="19.4" fill="#3d48b8" opacity="0.55" mask="url(#mk)"/>
<rect x="746.5" y="1778.8" width="7.5" height="21.2" fill="#3d48b8" opacity="0.29" mask="url(#mk)"/>
<rect x="746.5" y="1800.0" width="7.5" height="16.5" fill="#3d48b8" opacity="0.54" mask="url(#mk)"/>
<rect x="746.5" y="1816.5" width="7.5" height="17.6" fill="#3d48b8" opacity="0.32" mask="url(#mk)"/>
<rect x="746.5" y="1834.1" width="7.5" height="14.5" fill="#3d48b8" opacity="0.36" mask="url(#mk)"/>
<rect x="746.5" y="1848.6" width="7.5" height="13.9" fill="#3d48b8" opacity="0.31" mask="url(#mk)"/>
<rect x="746.5" y="1862.5" width="7.5" height="22.0" fill="#3d48b8" opacity="0.50" mask="url(#mk)"/>
<rect x="746.5" y="1884.4" width="7.5" height="7.5" fill="#3d48b8" opacity="0.56" mask="url(#mk)"/>
<rect x="746.5" y="1891.9" width="7.5" height="20.4" fill="#3d48b8" opacity="0.44" mask="url(#mk)"/>
<rect x="746.5" y="1912.3" width="7.5" height="17.2" fill="#3d48b8" opacity="0.40" mask="url(#mk)"/>
<rect x="746.5" y="1929.5" width="7.5" height="9.5" fill="#3d48b8" opacity="0.32" mask="url(#mk)"/>
<rect x="758" y="1621.0" width="10.0" height="7.5" fill="#b4181e" opacity="0.11" mask="url(#mk)"/>
<rect x="758" y="1628.5" width="10.0" height="19.1" fill="#b4181e" opacity="0.10" mask="url(#mk)"/>
<rect x="758" y="1647.6" width="10.0" height="15.1" fill="#b4181e" opacity="0.14" mask="url(#mk)"/>
<rect x="758" y="1662.7" width="10.0" height="21.4" fill="#b4181e" opacity="0.12" mask="url(#mk)"/>
<rect x="758" y="1684.2" width="10.0" height="10.2" fill="#b4181e" opacity="0.13" mask="url(#mk)"/>
<rect x="758" y="1694.3" width="10.0" height="18.8" fill="#b4181e" opacity="0.17" mask="url(#mk)"/>
<rect x="758" y="1713.2" width="10.0" height="17.8" fill="#b4181e" opacity="0.13" mask="url(#mk)"/>
<rect x="758" y="1730.9" width="10.0" height="10.4" fill="#b4181e" opacity="0.10" mask="url(#mk)"/>
<rect x="758" y="1741.3" width="10.0" height="9.2" fill="#b4181e" opacity="0.17" mask="url(#mk)"/>
<rect x="758" y="1750.5" width="10.0" height="15.4" fill="#b4181e" opacity="0.11" mask="url(#mk)"/>
<rect x="758" y="1765.9" width="10.0" height="8.6" fill="#b4181e" opacity="0.14" mask="url(#mk)"/>
<rect x="758" y="1774.5" width="10.0" height="12.5" fill="#b4181e" opacity="0.15" mask="url(#mk)"/>
<rect x="758" y="1787.0" width="10.0" height="21.4" fill="#b4181e" opacity="0.12" mask="url(#mk)"/>
<rect x="758" y="1808.4" width="10.0" height="10.9" fill="#b4181e" opacity="0.12" mask="url(#mk)"/>
<rect x="758" y="1819.4" width="10.0" height="7.9" fill="#b4181e" opacity="0.11" mask="url(#mk)"/>
<rect x="758" y="1827.3" width="10.0" height="17.0" fill="#b4181e" opacity="0.18" mask="url(#mk)"/>
<rect x="758" y="1844.3" width="10.0" height="17.2" fill="#b4181e" opacity="0.10" mask="url(#mk)"/>
<rect x="758" y="1861.4" width="10.0" height="19.4" fill="#b4181e" opacity="0.13" mask="url(#mk)"/>
<rect x="758" y="1880.8" width="10.0" height="7.5" fill="#b4181e" opacity="0.12" mask="url(#mk)"/>
<rect x="758" y="1888.2" width="10.0" height="11.7" fill="#b4181e" opacity="0.15" mask="url(#mk)"/>
<rect x="758" y="1899.9" width="10.0" height="16.8" fill="#b4181e" opacity="0.12" mask="url(#mk)"/>
<rect x="758" y="1916.8" width="10.0" height="22.2" fill="#b4181e" opacity="0.10" mask="url(#mk)"/>
</g>
<g filter="url(#soft)">
<rect x="242" y="1563" width="8.0" height="21.0" fill="#3d48b8" opacity="0.35" mask="url(#mk)"/>
<rect x="312" y="1556" width="8.0" height="23.0" fill="#3d48b8" opacity="0.35" mask="url(#mk)"/>
<rect x="616" y="1553" width="8.0" height="16.0" fill="#3d48b8" opacity="0.3" mask="url(#mk)"/>
<rect x="705" y="1564" width="4.0" height="5.0" fill="#b4181e" opacity="0.6" mask="url(#mk)"/>
<rect x="756" y="1567" width="5.0" height="5.0" fill="#b4181e" opacity="0.5" mask="url(#mk)"/>
<rect x="88" y="1550.0" width="682.0" height="12.5" fill="#3d48b8" opacity="0.03" mask="url(#mk)"/>
<rect x="88" y="1562.5" width="682.0" height="18.0" fill="#3d48b8" opacity="0.02" mask="url(#mk)"/>
<rect x="88" y="1580.4" width="682.0" height="13.4" fill="#3d48b8" opacity="0.04" mask="url(#mk)"/>
<rect x="88" y="1593.8" width="682.0" height="8.2" fill="#3d48b8" opacity="0.02" mask="url(#mk)"/>
<rect x="88" y="1602.1" width="682.0" height="9.9" fill="#3d48b8" opacity="0.04" mask="url(#mk)"/>
</g>
<line x1="125.5" y1="1459" x2="125.5" y2="1615" stroke="#000" stroke-width="2.1"/>
<line x1="179.6" y1="1459" x2="179.6" y2="1615" stroke="#000" stroke-width="2.1"/>
<line x1="211.8" y1="1459" x2="211.8" y2="1615" stroke="#000" stroke-width="2.1"/>
<line x1="258.8" y1="1459" x2="258.8" y2="1615" stroke="#000" stroke-width="2.1"/>
<line x1="309" y1="1459" x2="309" y2="1615" stroke="#000" stroke-width="2.1"/>
<line x1="344.6" y1="1459" x2="344.6" y2="1615" stroke="#000" stroke-width="2.1"/>
<line x1="394" y1="1459" x2="394" y2="1615" stroke="#000" stroke-width="2.1"/>
<line x1="431" y1="1459" x2="431" y2="1615" stroke="#000" stroke-width="2.1"/>
<line x1="468.5" y1="1459" x2="468.5" y2="1615" stroke="#000" stroke-width="2.1"/>
<line x1="503.6" y1="1459" x2="503.6" y2="1615" stroke="#000" stroke-width="2.1"/>
<line x1="562.4" y1="1459" x2="562.4" y2="1615" stroke="#000" stroke-width="2.1"/>
<line x1="589" y1="1459" x2="589" y2="1615" stroke="#000" stroke-width="2.1"/>
<line x1="614.5" y1="1459" x2="614.5" y2="1615" stroke="#000" stroke-width="2.1"/>
<line x1="638" y1="1459" x2="638" y2="1615" stroke="#000" stroke-width="2.1"/>
<line x1="667" y1="1459" x2="667" y2="1615" stroke="#000" stroke-width="2.1"/>
<line x1="690.5" y1="1459" x2="690.5" y2="1615" stroke="#000" stroke-width="2.1"/>
<line x1="728" y1="1459" x2="728" y2="1615" stroke="#000" stroke-width="2.1"/>
<line x1="745.7" y1="1459" x2="745.7" y2="1615" stroke="#000" stroke-width="2.1"/>
<line x1="125.5" y1="1620.6" x2="125.5" y2="1939" stroke="#000" stroke-width="2.1"/>
<line x1="179.6" y1="1620.6" x2="179.6" y2="1939" stroke="#000" stroke-width="2.1"/>
<line x1="211.8" y1="1620.6" x2="211.8" y2="1939" stroke="#000" stroke-width="2.1"/>
<line x1="258.8" y1="1620.6" x2="258.8" y2="1939" stroke="#000" stroke-width="2.1"/>
<line x1="309" y1="1620.6" x2="309" y2="1939" stroke="#000" stroke-width="2.1"/>
<line x1="344.6" y1="1620.6" x2="344.6" y2="1939" stroke="#000" stroke-width="2.1"/>
<line x1="394" y1="1620.6" x2="394" y2="1939" stroke="#000" stroke-width="2.1"/>
<line x1="431" y1="1620.6" x2="431" y2="1939" stroke="#000" stroke-width="2.1"/>
<line x1="468.5" y1="1620.6" x2="468.5" y2="1939" stroke="#000" stroke-width="2.1"/>
<line x1="503.6" y1="1620.6" x2="503.6" y2="1939" stroke="#000" stroke-width="2.1"/>
<line x1="562.4" y1="1620.6" x2="562.4" y2="1939" stroke="#000" stroke-width="2.1"/>
<line x1="589" y1="1620.6" x2="589" y2="1939" stroke="#000" stroke-width="2.1"/>
<line x1="614.5" y1="1620.6" x2="614.5" y2="1939" stroke="#000" stroke-width="2.1"/>
<line x1="638" y1="1620.6" x2="638" y2="1939" stroke="#000" stroke-width="2.1"/>
<line x1="667" y1="1620.6" x2="667" y2="1939" stroke="#000" stroke-width="2.1"/>
<line x1="690.5" y1="1620.6" x2="690.5" y2="1939" stroke="#000" stroke-width="2.1"/>
<line x1="728" y1="1620.6" x2="728" y2="1939" stroke="#000" stroke-width="2.1"/>
<line x1="745.7" y1="1620.6" x2="745.7" y2="1939" stroke="#000" stroke-width="2.1"/>
<path d="M58.2,1621H774.4M58.2,1680H774.4M58.2,1621V1680M774.4,1621V1680" stroke="#1d1f78" stroke-width="2.6" stroke-dasharray="8 8.8" fill="none"/>
<path d="M58.2,1692H774.4M58.2,1944.5H774.4M58.2,1692V1944.5M774.4,1692V1944.5" stroke="#d8262b" stroke-width="2.6" stroke-dasharray="8 8.8" fill="none"/>
<text x="5" y="1658" font-size="23" fill="#d3262c" stroke="#d3262c" >SC2</text>
<text x="5" y="1807" font-size="23" fill="#d3262c" stroke="#d3262c" >SC1</text>
<text x="0" y="0" font-size="23" fill="#111" stroke="#111" text-anchor="middle" transform="translate(800.5,1538) rotate(-90)">References</text>
<text x="0" y="0" font-size="23" fill="#111" stroke="#111" text-anchor="middle" transform="translate(800,1777) rotate(-90)">Observations</text>
<rect x="1117.5" y="1219.0" width="19.2" height="31.6" fill="#fde55a" />
<rect x="1117.5" y="1252.8" width="19.2" height="47.0" fill="#84d1c6" />
<rect x="1139" y="1219" width="322.7" height="80.8" fill="#fdfbfc"/>
<rect x="1139" y="1219" width="322.7" height="80.8" filter="url(#nzRm)" opacity="0.3"/>
<rect x="1139" y="1219" width="322.7" height="80.8" filter="url(#nzBm)" opacity="0.27"/>
<g filter="url(#soft)">
<rect x="1257.6" y="1219.0" width="31.9" height="8.1" fill="#3d48b8" opacity="0.71" mask="url(#mk)"/>
<rect x="1257.6" y="1227.1" width="31.9" height="12.0" fill="#3d48b8" opacity="0.64" mask="url(#mk)"/>
<rect x="1257.6" y="1239.0" width="31.9" height="12.0" fill="#3d48b8" opacity="0.62" mask="url(#mk)"/>
<rect x="1240" y="1220" width="14.0" height="20.0" fill="#b4181e" opacity="0.3" mask="url(#mk)"/>
<rect x="1387" y="1219.0" width="13.0" height="10.1" fill="#900b10" opacity="0.65" mask="url(#mk)"/>
<rect x="1387" y="1229.1" width="13.0" height="6.3" fill="#900b10" opacity="0.38" mask="url(#mk)"/>
<rect x="1387" y="1235.5" width="13.0" height="15.5" fill="#900b10" opacity="0.52" mask="url(#mk)"/>
<rect x="1440" y="1219.0" width="12.0" height="8.1" fill="#3d48b8" opacity="0.68" mask="url(#mk)"/>
<rect x="1440" y="1227.1" width="12.0" height="19.3" fill="#3d48b8" opacity="0.48" mask="url(#mk)"/>
<rect x="1440" y="1246.3" width="12.0" height="4.7" fill="#3d48b8" opacity="0.52" mask="url(#mk)"/>
<rect x="1310" y="1218.0" width="4.6" height="8.7" fill="#b4181e" opacity="0.51" mask="url(#mk)"/>
<rect x="1310" y="1226.7" width="4.6" height="19.1" fill="#b4181e" opacity="0.45" mask="url(#mk)"/>
<rect x="1310" y="1245.8" width="4.6" height="6.5" fill="#b4181e" opacity="0.55" mask="url(#mk)"/>
<rect x="1310" y="1252.3" width="4.6" height="8.8" fill="#b4181e" opacity="0.39" mask="url(#mk)"/>
<rect x="1310" y="1261.1" width="4.6" height="9.0" fill="#b4181e" opacity="0.42" mask="url(#mk)"/>
<rect x="1310" y="1270.1" width="4.6" height="20.1" fill="#b4181e" opacity="0.34" mask="url(#mk)"/>
<rect x="1310" y="1290.2" width="4.6" height="8.8" fill="#b4181e" opacity="0.40" mask="url(#mk)"/>
<rect x="1431.6" y="1253.0" width="3.4" height="10.7" fill="#900b10" opacity="0.55" mask="url(#mk)"/>
<rect x="1431.6" y="1263.7" width="3.4" height="14.8" fill="#900b10" opacity="0.41" mask="url(#mk)"/>
<rect x="1431.6" y="1278.5" width="3.4" height="10.5" fill="#900b10" opacity="0.44" mask="url(#mk)"/>
<rect x="1431.6" y="1289.0" width="3.4" height="10.0" fill="#900b10" opacity="0.74" mask="url(#mk)"/>
<rect x="1454.5" y="1218.0" width="3.5" height="14.4" fill="#900b10" opacity="0.64" mask="url(#mk)"/>
<rect x="1454.5" y="1232.4" width="3.5" height="18.8" fill="#900b10" opacity="0.70" mask="url(#mk)"/>
<rect x="1454.5" y="1251.2" width="3.5" height="21.8" fill="#900b10" opacity="0.69" mask="url(#mk)"/>
<rect x="1454.5" y="1273.1" width="3.5" height="11.7" fill="#900b10" opacity="0.60" mask="url(#mk)"/>
<rect x="1454.5" y="1284.8" width="3.5" height="14.2" fill="#900b10" opacity="0.75" mask="url(#mk)"/>
<rect x="1218" y="1260.0" width="12.0" height="14.0" fill="#3d48b8" opacity="0.27" mask="url(#mk)"/>
<rect x="1218" y="1274.0" width="12.0" height="8.9" fill="#3d48b8" opacity="0.26" mask="url(#mk)"/>
<rect x="1218" y="1282.9" width="12.0" height="9.5" fill="#3d48b8" opacity="0.37" mask="url(#mk)"/>
<rect x="1218" y="1292.4" width="12.0" height="6.6" fill="#3d48b8" opacity="0.21" mask="url(#mk)"/>
<rect x="1175" y="1253.0" width="20.0" height="21.9" fill="#3d48b8" opacity="0.20" mask="url(#mk)"/>
<rect x="1175" y="1274.9" width="20.0" height="18.3" fill="#3d48b8" opacity="0.26" mask="url(#mk)"/>
<rect x="1175" y="1293.1" width="20.0" height="5.9" fill="#3d48b8" opacity="0.14" mask="url(#mk)"/>
</g>
<path d="M1113.6,1216.9H1468M1113.6,1252.5H1468M1113.6,1216.9V1252.5M1468,1216.9V1252.5" stroke="#e0191e" stroke-width="4.3" stroke-dasharray="8 9" fill="none"/>
</svg>
</body></html>
